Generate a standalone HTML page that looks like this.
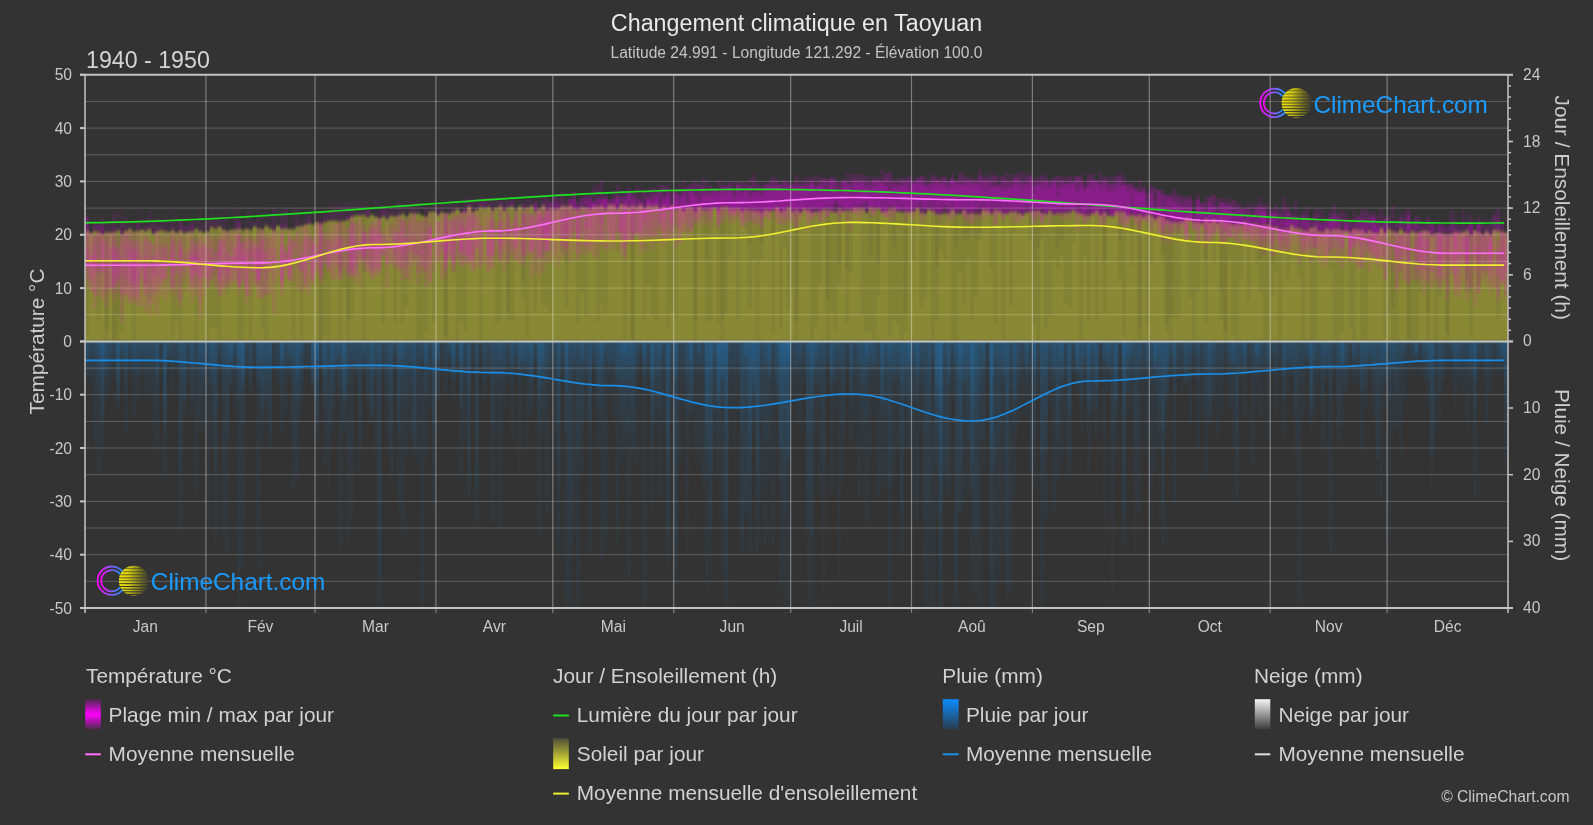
<!DOCTYPE html><html><head><meta charset="utf-8"><style>
html,body{margin:0;padding:0;background:#333333;width:1593px;height:825px;overflow:hidden}
svg{display:block;font-family:"Liberation Sans",sans-serif;will-change:transform}
</style></head><body>
<svg width="1593" height="825" viewBox="0 0 1593 825">
<defs>
<clipPath id="cp"><rect x="85" y="75" width="1423" height="533"/></clipPath>
<filter id="bv2" x="-1%" y="-20%" width="102%" height="140%"><feGaussianBlur stdDeviation="0 1.5"/></filter>
<filter id="bv6" x="-1%" y="-30%" width="102%" height="160%"><feGaussianBlur stdDeviation="0 5"/></filter>
<linearGradient id="gTemp" x1="0" y1="0" x2="0" y2="1"><stop offset="0" stop-color="#4a2a4a"/><stop offset="0.5" stop-color="#ff00ff"/><stop offset="1" stop-color="#4a2a4a"/></linearGradient>
<linearGradient id="gSun" x1="0" y1="0" x2="0" y2="1"><stop offset="0" stop-color="#4e4e38"/><stop offset="1" stop-color="#ffff30"/></linearGradient>
<linearGradient id="gRain" x1="0" y1="0" x2="0" y2="1"><stop offset="0" stop-color="#0a8cff"/><stop offset="1" stop-color="#2a3c4c"/></linearGradient>
<linearGradient id="gSnow" x1="0" y1="0" x2="0" y2="1"><stop offset="0" stop-color="#f4f4f4"/><stop offset="1" stop-color="#3c3c3c"/></linearGradient>
<linearGradient id="gR" x1="0" y1="0" x2="0" y2="1"><stop offset="0" stop-color="rgb(30,120,190)" stop-opacity="0.17"/><stop offset="1" stop-color="rgb(30,120,190)" stop-opacity="0.07"/></linearGradient>
<linearGradient id="gRing" x1="0" y1="0" x2="1" y2="0"><stop offset="0" stop-color="#ff00ff"/><stop offset="0.45" stop-color="#9a50ff"/><stop offset="1" stop-color="#1e90ff"/></linearGradient>
<linearGradient id="gBall" x1="0" y1="0" x2="1" y2="0"><stop offset="0" stop-color="#f8ec00"/><stop offset="0.35" stop-color="#cfc610"/><stop offset="0.75" stop-color="#6e6a22"/><stop offset="1" stop-color="#3e3d33"/></linearGradient>
<linearGradient id="gRu" gradientUnits="userSpaceOnUse" x1="0" y1="341" x2="0" y2="608"><stop offset="0" stop-color="rgb(30,120,190)" stop-opacity="0.35"/><stop offset="0.5" stop-color="rgb(30,120,190)" stop-opacity="0.12"/><stop offset="1" stop-color="rgb(30,120,190)" stop-opacity="0.05"/></linearGradient>
<linearGradient id="gT" x1="0" y1="0" x2="0" y2="1"><stop offset="0" stop-color="#ff00ff" stop-opacity="0.02"/><stop offset="0.35" stop-color="#ff00ff" stop-opacity="0.15"/><stop offset="0.65" stop-color="#ff00ff" stop-opacity="0.15"/><stop offset="1" stop-color="#ff00ff" stop-opacity="0.02"/></linearGradient>
<linearGradient id="gR2" x1="0" y1="0" x2="0" y2="1"><stop offset="0" stop-color="rgb(30,120,190)" stop-opacity="0.1"/><stop offset="1" stop-color="rgb(30,120,190)" stop-opacity="0.05"/></linearGradient>
<linearGradient id="gRb" x1="0" y1="0" x2="0" y2="1"><stop offset="0" stop-color="rgb(30,120,190)" stop-opacity="0.2"/><stop offset="1" stop-color="rgb(30,120,190)" stop-opacity="0"/></linearGradient>
</defs>
<g clip-path="url(#cp)">
<path d="M85.0 218.0h3.90v16.3h-3.90zM88.9 219.6h3.90v14.6h-3.90zM92.8 217.4h3.90v16.7h-3.90zM100.6 216.5h3.90v17.5h-3.90zM104.5 225.8h3.90v8.1h-3.90zM108.4 225.8h3.90v8.0h-3.90zM112.3 215.2h3.90v18.6h-3.90zM120.1 210.3h3.90v23.4h-3.90zM124.0 216.4h3.90v17.2h-3.90zM135.7 226.1h3.90v7.4h-3.90zM151.3 219.3h3.90v14.2h-3.90zM155.2 217.9h3.90v15.5h-3.90zM159.1 218.2h3.90v15.2h-3.90zM163.0 218.9h3.90v14.4h-3.90zM170.8 209.2h3.90v23.9h-3.90zM174.7 214.2h3.90v18.9h-3.90zM178.6 222.5h3.90v10.4h-3.90zM190.3 219.1h3.90v13.4h-3.90zM194.2 219.2h3.90v13.2h-3.90zM198.1 210.9h3.90v21.3h-3.90zM209.8 217.1h3.90v14.7h-3.90zM213.7 218.2h3.90v13.4h-3.90zM221.5 211.2h3.90v20.1h-3.90zM233.1 207.5h3.90v23.4h-3.90zM237.0 222.3h3.90v8.5h-3.90zM252.6 221.0h3.90v9.5h-3.90zM256.5 216.2h3.90v14.3h-3.90zM264.3 221.8h3.90v8.7h-3.90zM268.2 221.9h3.90v8.4h-3.90zM272.1 220.1h3.90v10.1h-3.90zM279.9 209.4h3.90v20.3h-3.90zM283.8 207.8h3.90v21.6h-3.90zM291.6 207.7h3.90v20.8h-3.90zM295.5 220.1h3.90v7.9h-3.90zM299.4 217.8h3.90v9.8h-3.90zM307.2 214.9h3.90v11.5h-3.90zM322.8 214.2h3.90v9.8h-3.90zM326.7 211.7h3.90v11.7h-3.90zM330.6 202.1h3.90v20.7h-3.90zM334.5 207.6h3.90v14.6h-3.90zM338.4 213.1h3.90v8.6h-3.90zM346.2 202.8h3.90v17.9h-3.90zM357.9 200.3h3.90v19.4h-3.90zM365.7 200.8h3.90v18.4h-3.90zM369.6 207.4h3.90v11.7h-3.90zM381.3 209.9h3.90v9.0h-3.90zM385.2 209.6h3.90v9.3h-3.90zM389.1 204.6h3.90v14.1h-3.90zM400.8 211.6h3.90v6.5h-3.90zM408.6 200.2h3.90v17.2h-3.90zM412.5 207.9h3.90v9.3h-3.90zM416.4 208.6h3.90v8.2h-3.90zM428.1 209.4h3.90v6.1h-3.90zM435.9 202.2h3.90v12.5h-3.90zM443.7 197.6h3.90v16.2h-3.90zM447.6 200.2h3.90v13.1h-3.90zM451.5 200.8h3.90v12.1h-3.90zM467.1 198.5h3.90v13.0h-3.90zM471.0 206.2h3.90v5.1h-3.90zM474.9 200.7h3.90v10.4h-3.90zM478.8 202.4h3.90v8.4h-3.90zM482.7 205.0h3.90v5.7h-3.90zM486.6 197.5h3.90v13.1h-3.90zM490.5 197.5h3.90v13.1h-3.90zM494.4 196.8h3.90v13.7h-3.90zM498.3 201.8h3.90v8.7h-3.90zM502.2 195.6h3.90v14.9h-3.90zM506.1 201.0h3.90v9.4h-3.90zM510.0 196.1h3.90v14.3h-3.90zM513.8 198.8h3.90v11.6h-3.90zM517.7 199.3h3.90v11.1h-3.90zM521.6 204.7h3.90v5.6h-3.90zM525.5 195.0h3.90v15.3h-3.90zM529.4 197.9h3.90v12.3h-3.90zM533.3 197.9h3.90v12.3h-3.90zM537.2 201.0h3.90v9.1h-3.90zM541.1 204.6h3.90v5.4h-3.90zM545.0 205.1h3.90v4.8h-3.90zM548.9 200.7h3.90v9.2h-3.90zM556.7 200.6h3.90v9.1h-3.90zM560.6 196.7h3.90v12.9h-3.90zM572.3 199.2h3.90v10.2h-3.90zM584.0 199.5h3.90v9.7h-3.90zM587.9 197.6h3.90v11.5h-3.90zM591.8 199.6h3.90v9.6h-3.90zM599.6 198.5h3.90v10.6h-3.90zM603.5 197.9h3.90v11.1h-3.90zM607.4 200.3h3.90v8.7h-3.90zM611.3 203.9h3.90v5.1h-3.90zM615.2 198.3h3.90v10.7h-3.90zM619.1 199.3h3.90v9.7h-3.90zM623.0 202.8h3.90v6.2h-3.90zM630.8 203.0h3.90v6.2h-3.90zM638.6 200.5h3.90v8.9h-3.90zM642.5 203.0h3.90v6.4h-3.90zM646.4 198.0h3.90v11.5h-3.90zM650.3 205.2h3.90v4.5h-3.90zM658.1 205.7h3.90v4.2h-3.90zM662.0 202.0h3.90v8.1h-3.90zM665.9 200.6h3.90v9.6h-3.90zM677.6 206.7h3.90v3.9h-3.90zM681.5 205.4h3.90v5.4h-3.90zM693.2 204.5h3.90v6.7h-3.90zM697.1 203.3h3.90v8.1h-3.90zM701.0 201.5h3.90v10.0h-3.90zM704.9 206.7h3.90v5.0h-3.90zM708.8 206.9h3.90v4.8h-3.90zM716.6 203.6h3.90v8.2h-3.90zM728.3 203.9h3.90v8.1h-3.90zM732.2 204.5h3.90v7.5h-3.90zM736.1 205.9h3.90v6.1h-3.90zM740.0 202.6h3.90v9.4h-3.90zM747.8 203.8h3.90v8.2h-3.90zM755.6 204.4h3.90v7.6h-3.90zM759.5 206.0h3.90v6.0h-3.90zM763.4 202.8h3.90v9.2h-3.90zM767.3 202.4h3.90v9.6h-3.90zM771.2 204.2h3.90v7.8h-3.90zM779.0 203.2h3.90v8.8h-3.90zM782.9 203.8h3.90v8.2h-3.90zM790.7 202.1h3.90v9.9h-3.90zM794.6 205.0h3.90v7.0h-3.90zM798.4 206.3h3.90v5.7h-3.90zM802.3 202.9h3.90v9.1h-3.90zM806.2 207.9h3.90v4.1h-3.90zM810.1 204.9h3.90v7.1h-3.90zM814.0 205.3h3.90v6.7h-3.90zM821.8 208.0h3.90v4.0h-3.90zM825.7 207.3h3.90v4.7h-3.90zM829.6 203.4h3.90v8.6h-3.90zM841.3 203.8h3.90v8.2h-3.90zM845.2 204.0h3.90v8.0h-3.90zM849.1 205.2h3.90v6.8h-3.90zM853.0 207.9h3.90v4.2h-3.90zM860.8 206.6h3.90v5.5h-3.90zM864.7 204.4h3.90v7.7h-3.90zM868.6 203.1h3.90v9.0h-3.90zM872.5 206.6h3.90v5.6h-3.90zM876.4 203.2h3.90v9.0h-3.90zM880.3 207.3h3.90v4.9h-3.90zM884.2 202.6h3.90v9.8h-3.90zM888.1 205.2h3.90v7.3h-3.90zM895.9 205.8h3.90v6.8h-3.90zM899.8 208.9h3.90v3.8h-3.90zM903.7 205.9h3.90v6.9h-3.90zM907.6 204.2h3.90v8.7h-3.90zM911.5 206.3h3.90v6.7h-3.90zM915.4 209.1h3.90v4.0h-3.90zM919.3 207.0h3.90v6.2h-3.90zM923.2 203.8h3.90v9.5h-3.90zM931.0 209.1h3.90v4.4h-3.90zM934.9 204.8h3.90v8.8h-3.90zM938.8 207.0h3.90v6.6h-3.90zM942.7 208.9h3.90v4.8h-3.90zM946.6 204.3h3.90v9.5h-3.90zM954.4 210.2h3.90v3.7h-3.90zM966.1 208.3h3.90v5.7h-3.90zM970.0 206.4h3.90v7.6h-3.90zM977.8 209.6h3.90v4.4h-3.90zM981.7 208.8h3.90v5.2h-3.90zM989.5 207.7h3.90v6.4h-3.90zM993.4 207.8h3.90v6.2h-3.90zM997.3 209.5h3.90v4.6h-3.90zM1005.1 206.5h3.90v7.7h-3.90zM1009.0 205.2h3.90v9.0h-3.90zM1012.9 205.2h3.90v9.1h-3.90zM1020.7 205.6h3.90v8.8h-3.90zM1024.6 208.8h3.90v5.6h-3.90zM1028.5 205.0h3.90v9.5h-3.90zM1036.3 205.3h3.90v9.3h-3.90zM1048.0 209.5h3.90v5.3h-3.90zM1055.8 208.5h3.90v6.3h-3.90zM1059.7 210.4h3.90v4.4h-3.90zM1063.6 206.9h3.90v8.0h-3.90zM1075.3 205.5h3.90v9.4h-3.90zM1079.2 210.6h3.90v4.3h-3.90zM1083.0 206.5h3.90v8.5h-3.90zM1086.9 207.0h3.90v8.0h-3.90zM1106.4 208.4h3.90v7.0h-3.90zM1110.3 211.0h3.90v4.6h-3.90zM1122.0 205.9h3.90v10.6h-3.90zM1125.9 212.4h3.90v4.4h-3.90zM1133.7 210.4h3.90v7.2h-3.90zM1137.6 211.7h3.90v6.3h-3.90zM1141.5 210.6h3.90v7.8h-3.90zM1145.4 210.3h3.90v8.6h-3.90zM1153.2 209.0h3.90v10.9h-3.90zM1161.0 210.4h3.90v10.4h-3.90zM1164.9 215.4h3.90v5.8h-3.90zM1172.7 217.7h3.90v4.4h-3.90zM1176.6 210.9h3.90v11.5h-3.90zM1180.5 210.6h3.90v12.2h-3.90zM1184.4 215.0h3.90v8.1h-3.90zM1188.3 214.2h3.90v9.1h-3.90zM1192.2 211.6h3.90v11.9h-3.90zM1200.0 212.4h3.90v11.5h-3.90zM1203.9 211.7h3.90v12.2h-3.90zM1207.8 211.0h3.90v13.0h-3.90zM1211.7 212.9h3.90v11.1h-3.90zM1215.6 212.3h3.90v11.8h-3.90zM1219.5 212.7h3.90v11.4h-3.90zM1227.3 215.3h3.90v9.1h-3.90zM1235.1 213.9h3.90v11.0h-3.90zM1239.0 218.2h3.90v7.0h-3.90zM1242.9 213.9h3.90v11.6h-3.90zM1246.8 214.1h3.90v11.7h-3.90zM1250.7 215.6h3.90v10.5h-3.90zM1254.6 210.6h3.90v15.9h-3.90zM1258.5 214.1h3.90v12.8h-3.90zM1262.4 211.1h3.90v16.2h-3.90zM1270.2 214.2h3.90v13.9h-3.90zM1278.0 223.1h3.90v5.8h-3.90zM1285.8 223.2h3.90v6.5h-3.90zM1293.6 217.6h3.90v12.8h-3.90zM1297.5 212.1h3.90v18.6h-3.90zM1301.4 211.8h3.90v19.2h-3.90zM1305.3 214.5h3.90v16.8h-3.90zM1313.1 215.3h3.90v16.3h-3.90zM1320.9 224.0h3.90v7.9h-3.90zM1324.8 223.9h3.90v8.0h-3.90zM1328.7 217.6h3.90v14.4h-3.90zM1336.5 220.4h3.90v11.7h-3.90zM1340.4 217.8h3.90v14.3h-3.90zM1344.3 222.3h3.90v9.8h-3.90zM1348.2 218.4h3.90v13.8h-3.90zM1356.0 222.3h3.90v10.1h-3.90zM1375.4 221.1h3.90v11.9h-3.90zM1379.3 215.5h3.90v17.6h-3.90zM1387.1 212.4h3.90v21.1h-3.90zM1394.9 220.7h3.90v13.1h-3.90zM1398.8 211.8h3.90v22.1h-3.90zM1406.6 212.3h3.90v21.9h-3.90zM1410.5 220.2h3.90v14.1h-3.90zM1414.4 214.3h3.90v20.2h-3.90zM1418.3 226.3h3.90v8.3h-3.90zM1422.2 220.5h3.90v14.2h-3.90zM1433.9 226.4h3.90v8.5h-3.90zM1437.8 216.8h3.90v18.1h-3.90zM1441.7 224.0h3.90v11.0h-3.90zM1445.6 221.2h3.90v13.8h-3.90zM1449.5 219.3h3.90v15.7h-3.90zM1453.4 211.8h3.90v23.2h-3.90zM1457.3 224.4h3.90v10.6h-3.90zM1465.1 214.7h3.90v20.2h-3.90zM1469.0 222.2h3.90v12.7h-3.90zM1476.8 218.5h3.90v16.3h-3.90zM1480.7 217.2h3.90v17.5h-3.90zM1484.6 224.9h3.90v9.7h-3.90zM1492.4 212.0h3.90v22.5h-3.90zM1496.3 227.4h3.90v7.1h-3.90z" fill="rgb(200,40,200)" fill-opacity="0.06"/>
<path d="M85.0 216.9h3.90v17.4h-3.90zM92.8 226.4h3.90v7.7h-3.90zM100.6 217.9h3.90v16.1h-3.90zM104.5 220.9h3.90v13.0h-3.90zM108.4 223.7h3.90v10.1h-3.90zM112.3 214.3h3.90v19.5h-3.90zM116.2 226.0h3.90v7.7h-3.90zM124.0 216.2h3.90v17.4h-3.90zM127.9 223.4h3.90v10.2h-3.90zM131.8 222.6h3.90v10.9h-3.90zM135.7 220.6h3.90v12.9h-3.90zM139.6 209.7h3.90v23.8h-3.90zM143.5 217.4h3.90v16.1h-3.90zM147.4 210.9h3.90v22.6h-3.90zM151.3 220.6h3.90v12.9h-3.90zM159.1 225.6h3.90v7.8h-3.90zM166.9 218.3h3.90v14.9h-3.90zM170.8 221.5h3.90v11.7h-3.90zM174.7 225.3h3.90v7.7h-3.90zM182.5 225.0h3.90v7.8h-3.90zM186.4 213.5h3.90v19.2h-3.90zM190.3 221.1h3.90v11.4h-3.90zM198.1 213.0h3.90v19.2h-3.90zM202.0 223.6h3.90v8.5h-3.90zM205.9 215.5h3.90v16.4h-3.90zM209.8 208.8h3.90v22.9h-3.90zM213.7 217.5h3.90v14.1h-3.90zM217.6 219.7h3.90v11.8h-3.90zM221.5 217.8h3.90v13.4h-3.90zM225.4 209.0h3.90v22.1h-3.90zM233.1 218.1h3.90v12.8h-3.90zM237.0 217.4h3.90v13.4h-3.90zM240.9 220.9h3.90v9.8h-3.90zM244.8 210.2h3.90v20.4h-3.90zM248.7 209.5h3.90v21.1h-3.90zM252.6 221.0h3.90v9.5h-3.90zM256.5 208.6h3.90v21.9h-3.90zM268.2 214.4h3.90v15.9h-3.90zM272.1 206.9h3.90v23.3h-3.90zM276.0 209.6h3.90v20.4h-3.90zM283.8 209.4h3.90v19.9h-3.90zM295.5 206.6h3.90v21.4h-3.90zM303.3 218.4h3.90v8.5h-3.90zM307.2 209.6h3.90v16.8h-3.90zM318.9 210.3h3.90v14.3h-3.90zM322.8 211.8h3.90v12.2h-3.90zM326.7 202.4h3.90v21.0h-3.90zM330.6 209.3h3.90v13.5h-3.90zM334.5 205.4h3.90v16.9h-3.90zM338.4 202.0h3.90v19.7h-3.90zM342.3 203.0h3.90v18.2h-3.90zM346.2 202.3h3.90v18.4h-3.90zM350.1 202.3h3.90v18.0h-3.90zM354.0 200.2h3.90v19.7h-3.90zM357.9 206.4h3.90v13.3h-3.90zM361.8 202.1h3.90v17.3h-3.90zM365.7 207.5h3.90v11.7h-3.90zM373.5 199.1h3.90v19.9h-3.90zM377.4 211.0h3.90v8.0h-3.90zM385.2 209.1h3.90v9.8h-3.90zM389.1 212.3h3.90v6.4h-3.90zM393.0 211.4h3.90v7.2h-3.90zM396.9 201.8h3.90v16.5h-3.90zM408.6 203.9h3.90v13.5h-3.90zM412.5 211.2h3.90v5.9h-3.90zM432.0 202.2h3.90v12.9h-3.90zM451.5 204.1h3.90v8.8h-3.90zM455.4 197.8h3.90v14.8h-3.90zM459.3 204.2h3.90v8.0h-3.90zM463.2 196.2h3.90v15.6h-3.90zM467.1 200.3h3.90v11.2h-3.90zM471.0 200.9h3.90v10.4h-3.90zM482.7 196.8h3.90v13.9h-3.90zM486.6 199.9h3.90v10.7h-3.90zM490.5 202.6h3.90v7.9h-3.90zM494.4 198.3h3.90v12.2h-3.90zM506.1 201.6h3.90v8.9h-3.90zM510.0 197.8h3.90v12.7h-3.90zM513.8 203.9h3.90v6.5h-3.90zM521.6 202.8h3.90v7.5h-3.90zM525.5 200.1h3.90v10.2h-3.90zM529.4 195.1h3.90v15.1h-3.90zM537.2 203.9h3.90v6.1h-3.90zM541.1 205.5h3.90v4.5h-3.90zM545.0 197.0h3.90v12.9h-3.90zM548.9 204.6h3.90v5.3h-3.90zM556.7 204.4h3.90v5.3h-3.90zM560.6 200.9h3.90v8.7h-3.90zM564.5 199.9h3.90v9.7h-3.90zM568.4 202.5h3.90v7.0h-3.90zM572.3 201.5h3.90v7.9h-3.90zM576.2 204.4h3.90v5.0h-3.90zM580.1 203.3h3.90v5.9h-3.90zM584.0 200.7h3.90v8.6h-3.90zM591.8 202.5h3.90v6.6h-3.90zM595.7 204.4h3.90v4.7h-3.90zM599.6 201.2h3.90v7.8h-3.90zM603.5 202.1h3.90v6.9h-3.90zM607.4 204.2h3.90v4.9h-3.90zM611.3 201.3h3.90v7.7h-3.90zM615.2 198.4h3.90v10.6h-3.90zM619.1 204.9h3.90v4.1h-3.90zM623.0 199.4h3.90v9.7h-3.90zM630.8 201.6h3.90v7.6h-3.90zM638.6 199.1h3.90v10.2h-3.90zM646.4 203.4h3.90v6.2h-3.90zM650.3 201.6h3.90v8.0h-3.90zM658.1 203.1h3.90v6.8h-3.90zM662.0 204.3h3.90v5.8h-3.90zM669.8 204.2h3.90v6.2h-3.90zM673.7 202.7h3.90v7.8h-3.90zM677.6 204.6h3.90v6.1h-3.90zM681.5 206.4h3.90v4.4h-3.90zM693.2 202.8h3.90v8.5h-3.90zM701.0 202.3h3.90v9.2h-3.90zM704.9 207.4h3.90v4.2h-3.90zM720.5 207.9h3.90v4.1h-3.90zM724.4 205.6h3.90v6.3h-3.90zM728.3 204.2h3.90v7.7h-3.90zM732.2 203.1h3.90v8.9h-3.90zM736.1 206.3h3.90v5.7h-3.90zM740.0 208.3h3.90v3.7h-3.90zM743.9 203.9h3.90v8.1h-3.90zM747.8 203.3h3.90v8.7h-3.90zM751.7 204.5h3.90v7.5h-3.90zM759.5 206.2h3.90v5.8h-3.90zM763.4 207.7h3.90v4.3h-3.90zM767.3 205.1h3.90v6.9h-3.90zM771.2 203.1h3.90v8.9h-3.90zM775.1 207.4h3.90v4.6h-3.90zM779.0 202.6h3.90v9.4h-3.90zM782.9 206.1h3.90v5.9h-3.90zM786.8 207.5h3.90v4.5h-3.90zM790.7 202.1h3.90v9.9h-3.90zM794.6 203.8h3.90v8.2h-3.90zM798.4 207.1h3.90v4.9h-3.90zM802.3 204.4h3.90v7.6h-3.90zM817.9 203.9h3.90v8.1h-3.90zM821.8 202.5h3.90v9.5h-3.90zM825.7 205.4h3.90v6.6h-3.90zM833.5 207.5h3.90v4.5h-3.90zM837.4 204.9h3.90v7.1h-3.90zM841.3 204.8h3.90v7.2h-3.90zM849.1 202.1h3.90v9.9h-3.90zM853.0 204.6h3.90v7.4h-3.90zM860.8 206.6h3.90v5.4h-3.90zM864.7 206.9h3.90v5.1h-3.90zM868.6 203.2h3.90v8.9h-3.90zM876.4 208.1h3.90v4.1h-3.90zM888.1 202.8h3.90v9.6h-3.90zM892.0 206.9h3.90v5.6h-3.90zM895.9 204.3h3.90v8.3h-3.90zM899.8 205.3h3.90v7.4h-3.90zM903.7 209.1h3.90v3.7h-3.90zM911.5 208.5h3.90v4.5h-3.90zM915.4 205.9h3.90v7.2h-3.90zM923.2 208.0h3.90v5.3h-3.90zM927.1 207.7h3.90v5.7h-3.90zM931.0 209.6h3.90v3.8h-3.90zM934.9 209.0h3.90v4.5h-3.90zM938.8 206.2h3.90v7.4h-3.90zM942.7 207.5h3.90v6.2h-3.90zM946.6 205.8h3.90v8.0h-3.90zM950.5 205.4h3.90v8.4h-3.90zM954.4 203.9h3.90v10.0h-3.90zM958.3 204.9h3.90v9.1h-3.90zM962.2 207.6h3.90v6.4h-3.90zM966.1 204.6h3.90v9.4h-3.90zM970.0 207.0h3.90v7.0h-3.90zM973.9 204.6h3.90v9.4h-3.90zM977.8 210.1h3.90v3.9h-3.90zM981.7 204.7h3.90v9.4h-3.90zM985.6 206.6h3.90v7.4h-3.90zM989.5 208.5h3.90v5.6h-3.90zM993.4 210.0h3.90v4.0h-3.90zM1001.2 207.3h3.90v6.8h-3.90zM1005.1 210.2h3.90v3.9h-3.90zM1009.0 207.3h3.90v7.0h-3.90zM1016.8 208.2h3.90v6.1h-3.90zM1028.5 204.7h3.90v9.8h-3.90zM1032.4 205.4h3.90v9.1h-3.90zM1036.3 205.8h3.90v8.8h-3.90zM1044.1 207.4h3.90v7.2h-3.90zM1048.0 210.5h3.90v4.2h-3.90zM1051.9 210.4h3.90v4.4h-3.90zM1055.8 205.1h3.90v9.7h-3.90zM1071.4 210.9h3.90v4.0h-3.90zM1075.3 206.1h3.90v8.8h-3.90zM1079.2 209.1h3.90v5.9h-3.90zM1083.0 211.1h3.90v3.9h-3.90zM1090.8 209.4h3.90v5.6h-3.90zM1094.7 205.4h3.90v9.6h-3.90zM1098.6 208.4h3.90v6.6h-3.90zM1110.3 206.0h3.90v9.6h-3.90zM1118.1 210.0h3.90v6.1h-3.90zM1122.0 211.5h3.90v4.9h-3.90zM1125.9 206.0h3.90v10.8h-3.90zM1133.7 212.4h3.90v5.2h-3.90zM1137.6 213.8h3.90v4.2h-3.90zM1145.4 212.5h3.90v6.4h-3.90zM1149.3 208.5h3.90v10.9h-3.90zM1153.2 214.7h3.90v5.1h-3.90zM1157.1 208.5h3.90v11.8h-3.90zM1161.0 216.0h3.90v4.8h-3.90zM1168.8 211.2h3.90v10.4h-3.90zM1184.4 211.4h3.90v11.6h-3.90zM1188.3 212.8h3.90v10.5h-3.90zM1192.2 213.6h3.90v9.9h-3.90zM1200.0 210.6h3.90v13.2h-3.90zM1203.9 216.9h3.90v7.0h-3.90zM1207.8 218.7h3.90v5.3h-3.90zM1211.7 215.4h3.90v8.6h-3.90zM1215.6 214.5h3.90v9.5h-3.90zM1223.4 217.0h3.90v7.2h-3.90zM1231.2 219.3h3.90v5.4h-3.90zM1239.0 218.0h3.90v7.1h-3.90zM1246.8 219.1h3.90v6.7h-3.90zM1250.7 210.7h3.90v15.5h-3.90zM1258.5 213.5h3.90v13.3h-3.90zM1262.4 211.6h3.90v15.6h-3.90zM1266.3 220.6h3.90v7.1h-3.90zM1270.2 215.3h3.90v12.8h-3.90zM1274.1 215.3h3.90v13.2h-3.90zM1278.0 217.3h3.90v11.6h-3.90zM1281.9 213.3h3.90v16.0h-3.90zM1285.8 217.7h3.90v12.0h-3.90zM1289.7 222.4h3.90v7.6h-3.90zM1293.6 222.8h3.90v7.6h-3.90zM1297.5 222.1h3.90v8.6h-3.90zM1301.4 214.9h3.90v16.1h-3.90zM1305.3 214.7h3.90v16.5h-3.90zM1313.1 223.0h3.90v8.7h-3.90zM1317.0 219.1h3.90v12.7h-3.90zM1324.8 216.1h3.90v15.9h-3.90zM1328.7 213.8h3.90v18.2h-3.90zM1344.3 220.2h3.90v12.0h-3.90zM1348.2 222.7h3.90v9.5h-3.90zM1352.1 225.5h3.90v6.7h-3.90zM1356.0 218.3h3.90v14.1h-3.90zM1359.9 214.9h3.90v17.5h-3.90zM1371.5 226.4h3.90v6.5h-3.90zM1375.4 217.5h3.90v15.5h-3.90zM1379.3 223.1h3.90v10.0h-3.90zM1383.2 226.0h3.90v7.3h-3.90zM1387.1 224.7h3.90v8.7h-3.90zM1398.8 214.1h3.90v19.8h-3.90zM1402.7 226.9h3.90v7.2h-3.90zM1406.6 221.9h3.90v12.3h-3.90zM1414.4 227.5h3.90v7.0h-3.90zM1418.3 215.2h3.90v19.3h-3.90zM1422.2 225.9h3.90v8.8h-3.90zM1426.1 215.5h3.90v19.3h-3.90zM1437.8 226.1h3.90v8.9h-3.90zM1441.7 223.3h3.90v11.6h-3.90zM1445.6 227.3h3.90v7.7h-3.90zM1453.4 215.2h3.90v19.8h-3.90zM1457.3 224.5h3.90v10.4h-3.90zM1465.1 224.3h3.90v10.7h-3.90zM1469.0 212.1h3.90v22.8h-3.90zM1472.9 222.5h3.90v12.3h-3.90zM1476.8 217.6h3.90v17.2h-3.90zM1484.6 216.8h3.90v17.8h-3.90zM1492.4 215.9h3.90v18.6h-3.90zM1496.3 217.7h3.90v16.8h-3.90zM1500.2 219.9h3.90v14.5h-3.90zM1504.1 213.1h3.90v21.2h-3.90z" fill="rgb(200,40,200)" fill-opacity="0.06"/>
<path d="M85.0 214.1h3.90v20.2h-3.90zM92.8 224.5h3.90v9.6h-3.90zM96.7 224.7h3.90v9.3h-3.90zM108.4 222.0h3.90v11.8h-3.90zM112.3 209.9h3.90v23.9h-3.90zM116.2 212.1h3.90v21.6h-3.90zM124.0 225.9h3.90v7.7h-3.90zM127.9 220.8h3.90v12.8h-3.90zM147.4 210.8h3.90v22.7h-3.90zM151.3 222.4h3.90v11.1h-3.90zM155.2 224.3h3.90v9.1h-3.90zM159.1 220.7h3.90v12.7h-3.90zM163.0 214.2h3.90v19.1h-3.90zM166.9 226.5h3.90v6.8h-3.90zM170.8 220.0h3.90v13.2h-3.90zM178.6 220.8h3.90v12.1h-3.90zM182.5 217.3h3.90v15.5h-3.90zM190.3 221.9h3.90v10.6h-3.90zM202.0 225.1h3.90v7.0h-3.90zM205.9 218.0h3.90v13.9h-3.90zM209.8 222.9h3.90v8.8h-3.90zM213.7 220.6h3.90v11.0h-3.90zM217.6 213.3h3.90v18.1h-3.90zM233.1 217.4h3.90v13.5h-3.90zM237.0 209.2h3.90v21.6h-3.90zM248.7 220.4h3.90v10.2h-3.90zM260.4 214.1h3.90v16.4h-3.90zM264.3 206.9h3.90v23.6h-3.90zM272.1 207.7h3.90v22.5h-3.90zM279.9 211.8h3.90v17.9h-3.90zM283.8 208.0h3.90v21.3h-3.90zM291.6 220.7h3.90v7.8h-3.90zM295.5 215.2h3.90v12.9h-3.90zM303.3 215.4h3.90v11.6h-3.90zM307.2 215.7h3.90v10.7h-3.90zM315.0 211.5h3.90v13.7h-3.90zM322.8 214.3h3.90v9.7h-3.90zM330.6 210.4h3.90v12.4h-3.90zM338.4 205.3h3.90v16.4h-3.90zM342.3 204.9h3.90v16.3h-3.90zM350.1 209.3h3.90v11.1h-3.90zM357.9 213.2h3.90v6.4h-3.90zM361.8 205.3h3.90v14.1h-3.90zM365.7 208.9h3.90v10.3h-3.90zM377.4 200.6h3.90v18.4h-3.90zM381.3 209.6h3.90v9.4h-3.90zM385.2 210.6h3.90v8.3h-3.90zM389.1 204.4h3.90v14.4h-3.90zM393.0 207.8h3.90v10.7h-3.90zM396.9 199.5h3.90v18.9h-3.90zM400.8 203.8h3.90v14.3h-3.90zM404.7 206.6h3.90v11.2h-3.90zM408.6 208.2h3.90v9.3h-3.90zM412.5 199.7h3.90v17.5h-3.90zM416.4 199.0h3.90v17.7h-3.90zM428.1 206.2h3.90v9.3h-3.90zM432.0 197.2h3.90v17.9h-3.90zM447.6 205.4h3.90v7.9h-3.90zM455.4 202.9h3.90v9.7h-3.90zM463.2 199.3h3.90v12.5h-3.90zM467.1 199.4h3.90v12.1h-3.90zM471.0 196.9h3.90v14.4h-3.90zM474.9 202.4h3.90v8.7h-3.90zM478.8 196.0h3.90v14.9h-3.90zM482.7 197.8h3.90v12.9h-3.90zM486.6 198.1h3.90v12.5h-3.90zM490.5 196.5h3.90v14.0h-3.90zM498.3 200.2h3.90v10.3h-3.90zM502.2 201.6h3.90v8.9h-3.90zM510.0 199.8h3.90v10.7h-3.90zM521.6 203.7h3.90v6.6h-3.90zM525.5 204.2h3.90v6.0h-3.90zM541.1 204.3h3.90v5.7h-3.90zM545.0 197.7h3.90v12.2h-3.90zM548.9 203.8h3.90v6.0h-3.90zM552.8 197.0h3.90v12.8h-3.90zM564.5 198.0h3.90v11.6h-3.90zM568.4 198.8h3.90v10.7h-3.90zM576.2 202.3h3.90v7.0h-3.90zM580.1 198.6h3.90v10.7h-3.90zM584.0 198.1h3.90v11.1h-3.90zM587.9 201.6h3.90v7.6h-3.90zM591.8 199.9h3.90v9.2h-3.90zM595.7 198.5h3.90v10.6h-3.90zM603.5 199.6h3.90v9.4h-3.90zM619.1 197.5h3.90v11.5h-3.90zM623.0 204.0h3.90v5.1h-3.90zM626.9 201.8h3.90v7.3h-3.90zM630.8 202.0h3.90v7.1h-3.90zM634.7 197.5h3.90v11.8h-3.90zM642.5 204.6h3.90v4.9h-3.90zM654.2 198.4h3.90v11.4h-3.90zM662.0 206.0h3.90v4.1h-3.90zM665.9 202.8h3.90v7.4h-3.90zM669.8 204.3h3.90v6.1h-3.90zM673.7 200.7h3.90v9.8h-3.90zM681.5 202.8h3.90v8.1h-3.90zM685.4 200.5h3.90v10.5h-3.90zM689.3 202.7h3.90v8.5h-3.90zM693.2 202.1h3.90v9.1h-3.90zM708.8 206.4h3.90v5.3h-3.90zM712.7 207.4h3.90v4.4h-3.90zM716.6 208.1h3.90v3.7h-3.90zM720.5 207.4h3.90v4.5h-3.90zM724.4 206.6h3.90v5.4h-3.90zM732.2 206.1h3.90v5.9h-3.90zM747.8 206.4h3.90v5.6h-3.90zM759.5 202.0h3.90v10.0h-3.90zM767.3 205.3h3.90v6.7h-3.90zM771.2 203.2h3.90v8.8h-3.90zM775.1 208.0h3.90v4.0h-3.90zM779.0 204.2h3.90v7.8h-3.90zM782.9 206.6h3.90v5.4h-3.90zM786.8 202.9h3.90v9.1h-3.90zM790.7 205.6h3.90v6.4h-3.90zM794.6 203.8h3.90v8.2h-3.90zM817.9 203.6h3.90v8.4h-3.90zM821.8 205.1h3.90v6.9h-3.90zM833.5 208.3h3.90v3.7h-3.90zM837.4 203.2h3.90v8.8h-3.90zM841.3 203.7h3.90v8.3h-3.90zM845.2 203.3h3.90v8.7h-3.90zM849.1 203.5h3.90v8.5h-3.90zM853.0 207.8h3.90v4.2h-3.90zM856.9 205.8h3.90v6.2h-3.90zM860.8 206.8h3.90v5.2h-3.90zM864.7 208.3h3.90v3.8h-3.90zM868.6 207.0h3.90v5.1h-3.90zM872.5 206.2h3.90v6.0h-3.90zM876.4 203.4h3.90v8.8h-3.90zM880.3 204.6h3.90v7.7h-3.90zM884.2 207.0h3.90v5.4h-3.90zM888.1 206.8h3.90v5.7h-3.90zM895.9 204.3h3.90v8.3h-3.90zM903.7 205.7h3.90v7.1h-3.90zM907.6 208.2h3.90v4.7h-3.90zM919.3 206.8h3.90v6.4h-3.90zM927.1 207.2h3.90v6.2h-3.90zM931.0 206.4h3.90v7.0h-3.90zM934.9 208.7h3.90v4.9h-3.90zM938.8 208.0h3.90v5.7h-3.90zM942.7 209.4h3.90v4.3h-3.90zM946.6 207.4h3.90v6.4h-3.90zM950.5 208.8h3.90v5.0h-3.90zM954.4 205.8h3.90v8.1h-3.90zM966.1 204.3h3.90v9.7h-3.90zM970.0 209.2h3.90v4.8h-3.90zM973.9 204.1h3.90v9.9h-3.90zM981.7 208.0h3.90v6.0h-3.90zM985.6 209.1h3.90v5.0h-3.90zM989.5 204.8h3.90v9.3h-3.90zM993.4 206.5h3.90v7.6h-3.90zM997.3 206.9h3.90v7.2h-3.90zM1005.1 206.2h3.90v8.0h-3.90zM1009.0 206.4h3.90v7.9h-3.90zM1012.9 208.2h3.90v6.1h-3.90zM1020.7 207.1h3.90v7.3h-3.90zM1024.6 210.6h3.90v3.8h-3.90zM1028.5 208.0h3.90v6.5h-3.90zM1032.4 207.1h3.90v7.4h-3.90zM1036.3 210.0h3.90v4.6h-3.90zM1040.2 204.7h3.90v10.0h-3.90zM1044.1 209.1h3.90v5.6h-3.90zM1048.0 204.8h3.90v9.9h-3.90zM1051.9 205.6h3.90v9.2h-3.90zM1059.7 208.1h3.90v6.7h-3.90zM1067.5 207.2h3.90v7.8h-3.90zM1071.4 206.0h3.90v8.9h-3.90zM1075.3 208.1h3.90v6.9h-3.90zM1079.2 211.0h3.90v4.0h-3.90zM1083.0 206.8h3.90v8.2h-3.90zM1090.8 208.5h3.90v6.5h-3.90zM1094.7 205.9h3.90v9.1h-3.90zM1106.4 211.3h3.90v4.1h-3.90zM1110.3 206.7h3.90v8.9h-3.90zM1114.2 210.5h3.90v5.3h-3.90zM1118.1 206.6h3.90v9.5h-3.90zM1122.0 208.9h3.90v7.5h-3.90zM1125.9 207.4h3.90v9.4h-3.90zM1133.7 213.0h3.90v4.6h-3.90zM1141.5 208.0h3.90v10.5h-3.90zM1145.4 214.1h3.90v4.9h-3.90zM1153.2 208.9h3.90v10.9h-3.90zM1157.1 208.8h3.90v11.5h-3.90zM1164.9 215.3h3.90v5.9h-3.90zM1168.8 209.8h3.90v11.9h-3.90zM1172.7 216.0h3.90v6.0h-3.90zM1176.6 214.2h3.90v8.1h-3.90zM1184.4 215.8h3.90v7.2h-3.90zM1188.3 216.4h3.90v6.9h-3.90zM1192.2 212.6h3.90v10.9h-3.90zM1203.9 215.1h3.90v8.9h-3.90zM1215.6 213.8h3.90v10.3h-3.90zM1219.5 217.8h3.90v6.3h-3.90zM1223.4 213.1h3.90v11.2h-3.90zM1227.3 216.4h3.90v8.0h-3.90zM1231.2 216.1h3.90v8.6h-3.90zM1239.0 216.2h3.90v8.9h-3.90zM1242.9 216.5h3.90v8.9h-3.90zM1246.8 215.7h3.90v10.1h-3.90zM1250.7 217.6h3.90v8.5h-3.90zM1254.6 219.1h3.90v7.4h-3.90zM1258.5 218.8h3.90v8.1h-3.90zM1262.4 219.1h3.90v8.2h-3.90zM1266.3 214.7h3.90v12.9h-3.90zM1270.2 211.8h3.90v16.3h-3.90zM1274.1 214.3h3.90v14.2h-3.90zM1278.0 218.2h3.90v10.8h-3.90zM1285.8 220.8h3.90v8.9h-3.90zM1289.7 212.1h3.90v17.9h-3.90zM1297.5 216.1h3.90v14.6h-3.90zM1305.3 223.9h3.90v7.3h-3.90zM1309.2 222.4h3.90v9.1h-3.90zM1313.1 221.3h3.90v10.4h-3.90zM1317.0 214.1h3.90v17.7h-3.90zM1320.9 218.5h3.90v13.4h-3.90zM1328.7 225.1h3.90v6.9h-3.90zM1332.6 221.0h3.90v11.0h-3.90zM1336.5 216.8h3.90v15.3h-3.90zM1340.4 213.5h3.90v18.6h-3.90zM1344.3 226.2h3.90v6.0h-3.90zM1348.2 219.7h3.90v12.5h-3.90zM1352.1 219.8h3.90v12.5h-3.90zM1356.0 216.7h3.90v15.6h-3.90zM1359.9 212.3h3.90v20.2h-3.90zM1363.8 211.9h3.90v20.7h-3.90zM1367.6 214.4h3.90v18.4h-3.90zM1371.5 216.3h3.90v16.6h-3.90zM1375.4 226.1h3.90v6.9h-3.90zM1379.3 221.0h3.90v12.2h-3.90zM1383.2 223.9h3.90v9.4h-3.90zM1387.1 224.1h3.90v9.3h-3.90zM1391.0 225.3h3.90v8.3h-3.90zM1394.9 215.6h3.90v18.2h-3.90zM1406.6 217.6h3.90v16.6h-3.90zM1410.5 223.8h3.90v10.5h-3.90zM1414.4 215.8h3.90v18.7h-3.90zM1418.3 226.2h3.90v8.3h-3.90zM1422.2 228.1h3.90v6.6h-3.90zM1426.1 212.0h3.90v22.7h-3.90zM1430.0 228.1h3.90v6.8h-3.90zM1433.9 219.2h3.90v15.8h-3.90zM1437.8 226.6h3.90v8.3h-3.90zM1441.7 223.3h3.90v11.7h-3.90zM1445.6 226.4h3.90v8.6h-3.90zM1449.5 226.3h3.90v8.7h-3.90zM1457.3 223.4h3.90v11.6h-3.90zM1461.2 224.2h3.90v10.7h-3.90zM1465.1 227.6h3.90v7.4h-3.90zM1472.9 218.6h3.90v16.2h-3.90zM1476.8 213.4h3.90v21.4h-3.90zM1484.6 225.6h3.90v9.1h-3.90zM1488.5 219.0h3.90v15.6h-3.90zM1492.4 217.4h3.90v17.2h-3.90zM1496.3 211.1h3.90v23.4h-3.90zM1500.2 227.8h3.90v6.6h-3.90z" fill="rgb(200,40,200)" fill-opacity="0.06"/>
<path d="M96.7 225.9h3.90v67.8h-3.90zM100.6 222.9h3.90v91.7h-3.90zM112.3 228.0h3.90v70.7h-3.90zM116.2 241.7h3.90v67.5h-3.90zM120.1 222.0h3.90v77.0h-3.90zM135.7 238.0h3.90v57.2h-3.90zM139.6 232.6h3.90v61.2h-3.90zM143.5 226.4h3.90v77.5h-3.90zM147.4 226.6h3.90v77.0h-3.90zM151.3 234.2h3.90v63.3h-3.90zM155.2 226.8h3.90v70.6h-3.90zM159.1 237.9h3.90v66.2h-3.90zM163.0 228.2h3.90v71.7h-3.90zM170.8 239.2h3.90v59.9h-3.90zM178.6 218.9h3.90v67.6h-3.90zM182.5 227.3h3.90v65.5h-3.90zM186.4 225.5h3.90v64.3h-3.90zM190.3 224.3h3.90v71.9h-3.90zM198.1 235.8h3.90v62.4h-3.90zM202.0 233.4h3.90v52.6h-3.90zM209.8 229.1h3.90v75.6h-3.90zM213.7 243.1h3.90v47.7h-3.90zM217.6 226.1h3.90v79.1h-3.90zM229.2 230.7h3.90v56.9h-3.90zM248.7 239.9h3.90v43.1h-3.90zM256.5 229.5h3.90v50.3h-3.90zM272.1 231.1h3.90v48.2h-3.90zM279.9 222.8h3.90v67.2h-3.90zM283.8 224.5h3.90v74.0h-3.90zM287.7 237.4h3.90v59.0h-3.90zM295.5 230.0h3.90v58.2h-3.90zM299.4 234.8h3.90v47.6h-3.90zM307.2 219.6h3.90v69.4h-3.90zM315.0 229.7h3.90v47.1h-3.90zM318.9 219.0h3.90v66.3h-3.90zM330.6 220.5h3.90v53.4h-3.90zM338.4 221.4h3.90v53.8h-3.90zM342.3 222.7h3.90v62.8h-3.90zM346.2 216.2h3.90v70.2h-3.90zM350.1 214.6h3.90v69.7h-3.90zM357.9 214.0h3.90v59.5h-3.90zM365.7 217.9h3.90v54.5h-3.90zM369.6 218.2h3.90v49.8h-3.90zM373.5 228.6h3.90v53.5h-3.90zM377.4 217.7h3.90v52.0h-3.90zM381.3 204.7h3.90v65.2h-3.90zM389.1 214.6h3.90v62.5h-3.90zM396.9 214.3h3.90v74.4h-3.90zM400.8 215.4h3.90v51.9h-3.90zM404.7 215.7h3.90v63.1h-3.90zM420.3 216.1h3.90v52.9h-3.90zM424.2 207.6h3.90v63.5h-3.90zM428.1 214.7h3.90v49.1h-3.90zM439.8 203.9h3.90v78.8h-3.90zM447.6 216.1h3.90v45.6h-3.90zM451.5 210.5h3.90v60.0h-3.90zM455.4 209.8h3.90v64.0h-3.90zM459.3 213.3h3.90v60.2h-3.90zM463.2 208.1h3.90v64.6h-3.90zM467.1 210.5h3.90v54.3h-3.90zM478.8 199.9h3.90v63.9h-3.90zM482.7 201.5h3.90v53.4h-3.90zM490.5 217.7h3.90v53.1h-3.90zM494.4 207.8h3.90v53.9h-3.90zM498.3 201.6h3.90v71.4h-3.90zM506.1 202.5h3.90v60.8h-3.90zM510.0 208.5h3.90v56.0h-3.90zM517.7 214.6h3.90v55.5h-3.90zM521.6 202.7h3.90v60.1h-3.90zM529.4 204.7h3.90v56.6h-3.90zM533.3 203.9h3.90v58.8h-3.90zM537.2 209.0h3.90v51.4h-3.90zM545.0 198.7h3.90v60.9h-3.90zM548.9 201.8h3.90v63.5h-3.90zM552.8 195.8h3.90v62.4h-3.90zM556.7 193.5h3.90v67.0h-3.90zM560.6 191.5h3.90v65.7h-3.90zM568.4 197.7h3.90v60.7h-3.90zM572.3 191.6h3.90v50.8h-3.90zM587.9 192.6h3.90v58.7h-3.90zM591.8 186.1h3.90v61.0h-3.90zM595.7 183.8h3.90v59.4h-3.90zM599.6 180.4h3.90v68.5h-3.90zM603.5 196.5h3.90v60.3h-3.90zM611.3 197.4h3.90v54.5h-3.90zM615.2 184.8h3.90v64.4h-3.90zM619.1 190.0h3.90v59.7h-3.90zM623.0 192.9h3.90v43.7h-3.90zM626.9 186.8h3.90v64.9h-3.90zM630.8 196.4h3.90v53.1h-3.90zM634.7 185.3h3.90v59.7h-3.90zM638.6 187.3h3.90v55.3h-3.90zM642.5 190.8h3.90v53.7h-3.90zM646.4 188.6h3.90v62.6h-3.90zM650.3 187.0h3.90v60.8h-3.90zM654.2 187.8h3.90v61.7h-3.90zM658.1 189.6h3.90v50.8h-3.90zM662.0 186.4h3.90v59.1h-3.90zM665.9 184.0h3.90v48.6h-3.90zM669.8 192.5h3.90v50.3h-3.90zM673.7 187.2h3.90v55.3h-3.90zM681.5 180.6h3.90v62.8h-3.90zM689.3 189.3h3.90v49.7h-3.90zM693.2 181.3h3.90v57.5h-3.90zM697.1 183.3h3.90v53.5h-3.90zM701.0 177.4h3.90v53.7h-3.90zM704.9 180.3h3.90v48.7h-3.90zM708.8 185.4h3.90v41.5h-3.90zM712.7 190.1h3.90v29.5h-3.90zM716.6 178.7h3.90v57.0h-3.90zM720.5 181.2h3.90v34.7h-3.90zM724.4 186.6h3.90v44.7h-3.90zM728.3 181.7h3.90v33.5h-3.90zM732.2 181.7h3.90v45.9h-3.90zM736.1 184.3h3.90v41.1h-3.90zM740.0 182.3h3.90v44.8h-3.90zM743.9 183.6h3.90v44.3h-3.90zM747.8 178.2h3.90v45.9h-3.90zM751.7 174.0h3.90v49.5h-3.90zM755.6 182.7h3.90v44.2h-3.90zM759.5 182.8h3.90v31.8h-3.90zM763.4 183.8h3.90v44.0h-3.90zM767.3 180.0h3.90v51.6h-3.90zM771.2 176.8h3.90v48.3h-3.90zM775.1 179.0h3.90v44.8h-3.90zM779.0 181.8h3.90v40.7h-3.90zM782.9 179.7h3.90v43.3h-3.90zM786.8 183.1h3.90v45.0h-3.90zM790.7 182.6h3.90v38.9h-3.90zM794.6 174.5h3.90v46.1h-3.90zM798.4 179.7h3.90v41.1h-3.90zM802.3 181.9h3.90v38.6h-3.90zM806.2 176.1h3.90v46.8h-3.90zM810.1 177.2h3.90v45.3h-3.90zM814.0 175.1h3.90v40.9h-3.90zM817.9 174.9h3.90v43.9h-3.90zM821.8 178.7h3.90v49.2h-3.90zM825.7 179.2h3.90v36.0h-3.90zM829.6 180.4h3.90v36.0h-3.90zM833.5 176.9h3.90v36.4h-3.90zM837.4 182.0h3.90v43.5h-3.90zM841.3 181.6h3.90v38.5h-3.90zM845.2 173.1h3.90v41.0h-3.90zM849.1 173.5h3.90v42.1h-3.90zM853.0 174.1h3.90v41.9h-3.90zM856.9 174.3h3.90v38.0h-3.90zM860.8 172.9h3.90v43.2h-3.90zM864.7 179.8h3.90v35.5h-3.90zM868.6 182.5h3.90v37.6h-3.90zM872.5 180.0h3.90v29.0h-3.90zM876.4 180.4h3.90v32.7h-3.90zM880.3 168.7h3.90v43.8h-3.90zM884.2 173.9h3.90v42.7h-3.90zM888.1 173.5h3.90v42.6h-3.90zM892.0 178.2h3.90v46.4h-3.90zM895.9 184.7h3.90v30.3h-3.90zM899.8 178.3h3.90v31.2h-3.90zM903.7 177.3h3.90v36.4h-3.90zM907.6 175.7h3.90v44.0h-3.90zM911.5 180.8h3.90v36.5h-3.90zM915.4 177.7h3.90v32.9h-3.90zM919.3 181.1h3.90v32.8h-3.90zM923.2 175.5h3.90v39.3h-3.90zM927.1 178.4h3.90v35.4h-3.90zM931.0 174.2h3.90v35.4h-3.90zM934.9 174.9h3.90v40.3h-3.90zM938.8 182.9h3.90v37.2h-3.90zM942.7 177.8h3.90v30.2h-3.90zM946.6 180.9h3.90v33.7h-3.90zM950.5 173.6h3.90v46.2h-3.90zM954.4 179.5h3.90v44.3h-3.90zM958.3 172.5h3.90v38.1h-3.90zM962.2 172.9h3.90v43.7h-3.90zM966.1 178.0h3.90v45.0h-3.90zM970.0 179.0h3.90v36.6h-3.90zM973.9 178.5h3.90v36.5h-3.90zM977.8 169.3h3.90v39.9h-3.90zM981.7 174.6h3.90v45.6h-3.90zM985.6 175.1h3.90v42.1h-3.90zM989.5 172.1h3.90v44.0h-3.90zM993.4 176.1h3.90v44.2h-3.90zM997.3 176.3h3.90v45.0h-3.90zM1001.2 179.3h3.90v39.4h-3.90zM1005.1 181.1h3.90v34.5h-3.90zM1009.0 174.0h3.90v45.5h-3.90zM1012.9 178.0h3.90v39.2h-3.90zM1016.8 173.9h3.90v37.0h-3.90zM1020.7 171.0h3.90v38.9h-3.90zM1024.6 176.4h3.90v47.5h-3.90zM1028.5 174.2h3.90v43.7h-3.90zM1032.4 178.4h3.90v41.0h-3.90zM1036.3 175.8h3.90v50.0h-3.90zM1040.2 174.0h3.90v51.8h-3.90zM1044.1 175.6h3.90v38.6h-3.90zM1048.0 179.9h3.90v42.4h-3.90zM1051.9 177.7h3.90v40.6h-3.90zM1055.8 176.1h3.90v50.2h-3.90zM1059.7 179.5h3.90v43.5h-3.90zM1063.6 176.7h3.90v38.3h-3.90zM1067.5 174.8h3.90v39.2h-3.90zM1071.4 176.5h3.90v41.0h-3.90zM1075.3 176.3h3.90v43.7h-3.90zM1079.2 173.8h3.90v49.3h-3.90zM1083.0 183.7h3.90v33.7h-3.90zM1086.9 174.3h3.90v43.6h-3.90zM1090.8 179.2h3.90v43.4h-3.90zM1094.7 179.9h3.90v36.1h-3.90zM1098.6 171.2h3.90v54.6h-3.90zM1102.5 179.0h3.90v34.7h-3.90zM1106.4 175.3h3.90v49.1h-3.90zM1110.3 176.4h3.90v50.7h-3.90zM1114.2 177.0h3.90v52.3h-3.90zM1118.1 172.3h3.90v51.7h-3.90zM1122.0 175.0h3.90v55.1h-3.90zM1125.9 182.2h3.90v37.2h-3.90zM1129.8 182.2h3.90v38.8h-3.90zM1133.7 188.5h3.90v35.2h-3.90zM1137.6 179.4h3.90v50.0h-3.90zM1141.5 186.1h3.90v35.8h-3.90zM1149.3 187.6h3.90v41.3h-3.90zM1153.2 189.2h3.90v37.9h-3.90zM1157.1 190.7h3.90v45.9h-3.90zM1164.9 193.3h3.90v39.6h-3.90zM1168.8 196.4h3.90v30.0h-3.90zM1172.7 188.9h3.90v42.5h-3.90zM1176.6 194.9h3.90v35.0h-3.90zM1180.5 194.5h3.90v36.6h-3.90zM1184.4 198.8h3.90v38.9h-3.90zM1188.3 194.4h3.90v51.2h-3.90zM1196.1 193.8h3.90v43.0h-3.90zM1200.0 201.4h3.90v44.3h-3.90zM1203.9 197.2h3.90v39.2h-3.90zM1207.8 197.0h3.90v44.3h-3.90zM1211.7 194.2h3.90v47.3h-3.90zM1219.5 202.8h3.90v36.2h-3.90zM1223.4 202.4h3.90v40.1h-3.90zM1227.3 196.9h3.90v35.3h-3.90zM1231.2 199.4h3.90v46.8h-3.90zM1235.1 204.3h3.90v38.5h-3.90zM1239.0 203.0h3.90v43.3h-3.90zM1250.7 203.4h3.90v44.0h-3.90zM1254.6 205.0h3.90v32.6h-3.90zM1258.5 197.1h3.90v50.3h-3.90zM1262.4 207.9h3.90v30.1h-3.90zM1266.3 203.0h3.90v37.6h-3.90zM1270.2 207.9h3.90v39.2h-3.90zM1274.1 204.5h3.90v51.8h-3.90zM1281.9 197.3h3.90v44.7h-3.90zM1285.8 209.3h3.90v52.0h-3.90zM1289.7 212.9h3.90v40.3h-3.90zM1293.6 201.5h3.90v58.3h-3.90zM1305.3 206.3h3.90v58.3h-3.90zM1309.2 218.3h3.90v31.4h-3.90zM1313.1 209.2h3.90v52.2h-3.90zM1320.9 211.3h3.90v45.5h-3.90zM1328.7 210.1h3.90v47.5h-3.90zM1332.6 203.6h3.90v69.3h-3.90zM1344.3 213.0h3.90v47.7h-3.90zM1352.1 211.4h3.90v58.9h-3.90zM1359.9 208.7h3.90v55.2h-3.90zM1363.8 210.0h3.90v58.5h-3.90zM1367.6 212.2h3.90v57.5h-3.90zM1371.5 210.8h3.90v63.3h-3.90zM1375.4 221.5h3.90v54.0h-3.90zM1379.3 209.3h3.90v58.6h-3.90zM1402.7 210.4h3.90v68.9h-3.90zM1406.6 208.5h3.90v70.0h-3.90zM1422.2 221.7h3.90v59.6h-3.90zM1426.1 219.1h3.90v51.6h-3.90zM1430.0 221.3h3.90v75.2h-3.90zM1449.5 210.5h3.90v78.6h-3.90zM1469.0 218.5h3.90v87.0h-3.90zM1480.7 224.8h3.90v53.8h-3.90zM1488.5 222.2h3.90v65.2h-3.90zM1492.4 214.8h3.90v80.6h-3.90zM1496.3 208.6h3.90v73.1h-3.90zM1500.2 224.1h3.90v55.1h-3.90z" fill="rgb(255,0,255)" fill-opacity="0.105"/>
<path d="M85.0 215.6h3.90v75.8h-3.90zM92.8 223.0h3.90v69.5h-3.90zM96.7 223.4h3.90v61.3h-3.90zM100.6 233.9h3.90v68.4h-3.90zM104.5 242.6h3.90v55.0h-3.90zM108.4 241.5h3.90v48.2h-3.90zM112.3 231.0h3.90v57.3h-3.90zM127.9 247.4h3.90v50.8h-3.90zM131.8 237.0h3.90v60.3h-3.90zM135.7 220.9h3.90v78.2h-3.90zM139.6 236.2h3.90v74.6h-3.90zM143.5 231.2h3.90v56.5h-3.90zM151.3 231.2h3.90v61.7h-3.90zM159.1 236.0h3.90v54.6h-3.90zM163.0 241.5h3.90v52.7h-3.90zM166.9 245.1h3.90v44.0h-3.90zM170.8 238.4h3.90v61.6h-3.90zM174.7 242.1h3.90v41.9h-3.90zM190.3 234.3h3.90v48.7h-3.90zM194.2 229.4h3.90v62.6h-3.90zM198.1 236.9h3.90v54.6h-3.90zM205.9 233.4h3.90v60.4h-3.90zM217.6 227.0h3.90v61.0h-3.90zM229.2 237.9h3.90v60.5h-3.90zM233.1 235.1h3.90v49.4h-3.90zM237.0 221.7h3.90v67.0h-3.90zM256.5 235.1h3.90v45.4h-3.90zM260.4 235.0h3.90v50.0h-3.90zM268.2 235.0h3.90v50.6h-3.90zM283.8 236.3h3.90v51.3h-3.90zM287.7 235.2h3.90v51.2h-3.90zM295.5 234.9h3.90v55.7h-3.90zM299.4 235.4h3.90v54.4h-3.90zM303.3 224.8h3.90v62.0h-3.90zM307.2 226.6h3.90v50.7h-3.90zM311.1 241.7h3.90v39.3h-3.90zM315.0 222.5h3.90v62.8h-3.90zM322.8 220.3h3.90v65.8h-3.90zM326.7 223.2h3.90v39.0h-3.90zM330.6 225.1h3.90v58.0h-3.90zM350.1 215.0h3.90v68.4h-3.90zM357.9 232.3h3.90v40.4h-3.90zM365.7 211.5h3.90v51.3h-3.90zM373.5 238.5h3.90v18.4h-3.90zM389.1 216.2h3.90v62.1h-3.90zM393.0 222.2h3.90v48.3h-3.90zM396.9 220.6h3.90v58.0h-3.90zM400.8 223.4h3.90v56.0h-3.90zM412.5 214.3h3.90v64.6h-3.90zM416.4 221.4h3.90v45.5h-3.90zM420.3 218.6h3.90v51.7h-3.90zM424.2 222.9h3.90v46.7h-3.90zM428.1 225.1h3.90v43.4h-3.90zM432.0 216.2h3.90v47.6h-3.90zM435.9 214.6h3.90v40.6h-3.90zM443.7 213.0h3.90v59.6h-3.90zM447.6 214.3h3.90v44.9h-3.90zM451.5 219.1h3.90v55.6h-3.90zM459.3 210.7h3.90v51.5h-3.90zM463.2 209.8h3.90v56.5h-3.90zM467.1 205.4h3.90v54.4h-3.90zM474.9 212.4h3.90v51.7h-3.90zM478.8 214.3h3.90v40.4h-3.90zM482.7 213.7h3.90v44.5h-3.90zM486.6 210.0h3.90v51.5h-3.90zM490.5 213.4h3.90v49.8h-3.90zM494.4 208.1h3.90v53.8h-3.90zM498.3 212.5h3.90v45.0h-3.90zM502.2 206.7h3.90v47.1h-3.90zM510.0 201.6h3.90v54.4h-3.90zM513.8 213.3h3.90v47.4h-3.90zM521.6 207.8h3.90v52.9h-3.90zM525.5 207.3h3.90v60.5h-3.90zM529.4 205.5h3.90v53.6h-3.90zM533.3 201.0h3.90v52.2h-3.90zM541.1 203.6h3.90v59.5h-3.90zM545.0 205.5h3.90v45.5h-3.90zM552.8 198.2h3.90v60.2h-3.90zM556.7 202.8h3.90v51.0h-3.90zM560.6 206.3h3.90v50.6h-3.90zM564.5 202.4h3.90v54.4h-3.90zM568.4 199.3h3.90v46.4h-3.90zM572.3 192.1h3.90v66.7h-3.90zM576.2 206.0h3.90v44.7h-3.90zM580.1 198.2h3.90v53.2h-3.90zM584.0 196.0h3.90v50.8h-3.90zM587.9 196.4h3.90v57.1h-3.90zM591.8 204.0h3.90v47.4h-3.90zM595.7 198.8h3.90v55.3h-3.90zM599.6 199.8h3.90v48.8h-3.90zM603.5 199.6h3.90v41.8h-3.90zM607.4 198.9h3.90v49.5h-3.90zM611.3 190.8h3.90v66.2h-3.90zM615.2 192.6h3.90v52.2h-3.90zM626.9 190.6h3.90v62.3h-3.90zM630.8 193.5h3.90v50.3h-3.90zM634.7 196.2h3.90v53.3h-3.90zM642.5 192.5h3.90v56.9h-3.90zM646.4 195.3h3.90v54.0h-3.90zM650.3 189.7h3.90v56.0h-3.90zM654.2 190.9h3.90v44.1h-3.90zM658.1 193.0h3.90v47.9h-3.90zM662.0 185.2h3.90v53.1h-3.90zM665.9 188.7h3.90v50.5h-3.90zM673.7 193.6h3.90v46.4h-3.90zM677.6 184.2h3.90v44.0h-3.90zM681.5 195.8h3.90v27.8h-3.90zM685.4 186.1h3.90v41.4h-3.90zM689.3 184.3h3.90v50.7h-3.90zM693.2 183.2h3.90v52.9h-3.90zM697.1 184.0h3.90v36.1h-3.90zM701.0 185.1h3.90v39.3h-3.90zM704.9 191.8h3.90v39.3h-3.90zM708.8 185.2h3.90v44.6h-3.90zM712.7 189.3h3.90v40.6h-3.90zM716.6 188.3h3.90v37.8h-3.90zM720.5 186.9h3.90v46.2h-3.90zM724.4 183.3h3.90v40.9h-3.90zM728.3 183.0h3.90v42.1h-3.90zM732.2 190.6h3.90v34.0h-3.90zM736.1 184.5h3.90v41.5h-3.90zM740.0 191.2h3.90v35.9h-3.90zM743.9 189.4h3.90v34.3h-3.90zM747.8 184.9h3.90v39.2h-3.90zM751.7 179.3h3.90v53.0h-3.90zM755.6 191.4h3.90v26.9h-3.90zM759.5 189.4h3.90v38.6h-3.90zM763.4 183.1h3.90v38.1h-3.90zM767.3 182.6h3.90v40.3h-3.90zM771.2 177.3h3.90v39.2h-3.90zM775.1 184.0h3.90v30.1h-3.90zM779.0 184.4h3.90v29.1h-3.90zM782.9 179.5h3.90v39.3h-3.90zM786.8 181.6h3.90v30.9h-3.90zM790.7 184.2h3.90v26.3h-3.90zM794.6 182.9h3.90v36.4h-3.90zM798.4 184.9h3.90v31.8h-3.90zM802.3 177.1h3.90v41.4h-3.90zM806.2 181.9h3.90v30.9h-3.90zM810.1 181.1h3.90v35.0h-3.90zM814.0 186.9h3.90v34.0h-3.90zM817.9 179.8h3.90v43.3h-3.90zM821.8 178.4h3.90v32.6h-3.90zM825.7 181.2h3.90v38.3h-3.90zM829.6 179.1h3.90v33.5h-3.90zM833.5 181.1h3.90v38.3h-3.90zM837.4 190.2h3.90v24.1h-3.90zM841.3 177.9h3.90v37.7h-3.90zM845.2 181.6h3.90v31.7h-3.90zM849.1 182.9h3.90v21.2h-3.90zM853.0 180.9h3.90v34.6h-3.90zM856.9 185.7h3.90v22.1h-3.90zM860.8 181.7h3.90v35.0h-3.90zM864.7 175.9h3.90v32.0h-3.90zM868.6 175.6h3.90v40.0h-3.90zM872.5 176.6h3.90v40.8h-3.90zM876.4 178.5h3.90v31.4h-3.90zM880.3 179.9h3.90v35.0h-3.90zM884.2 178.6h3.90v36.1h-3.90zM888.1 171.5h3.90v47.2h-3.90zM892.0 182.2h3.90v32.4h-3.90zM895.9 178.3h3.90v37.9h-3.90zM899.8 180.9h3.90v29.3h-3.90zM903.7 179.5h3.90v35.0h-3.90zM907.6 179.6h3.90v41.6h-3.90zM911.5 180.9h3.90v34.6h-3.90zM915.4 179.6h3.90v27.3h-3.90zM919.3 175.6h3.90v39.9h-3.90zM923.2 179.5h3.90v31.3h-3.90zM927.1 183.0h3.90v28.3h-3.90zM931.0 180.7h3.90v32.5h-3.90zM934.9 180.6h3.90v41.5h-3.90zM938.8 177.3h3.90v41.6h-3.90zM942.7 177.6h3.90v34.1h-3.90zM946.6 181.4h3.90v29.0h-3.90zM950.5 177.9h3.90v40.3h-3.90zM954.4 183.0h3.90v29.3h-3.90zM958.3 180.9h3.90v35.1h-3.90zM962.2 177.1h3.90v40.2h-3.90zM966.1 182.0h3.90v34.0h-3.90zM970.0 174.7h3.90v43.3h-3.90zM973.9 183.8h3.90v31.4h-3.90zM977.8 175.0h3.90v39.8h-3.90zM981.7 181.3h3.90v34.5h-3.90zM985.6 179.2h3.90v36.2h-3.90zM989.5 185.9h3.90v30.0h-3.90zM993.4 174.4h3.90v42.2h-3.90zM997.3 183.7h3.90v35.9h-3.90zM1001.2 175.3h3.90v39.8h-3.90zM1005.1 172.3h3.90v42.6h-3.90zM1009.0 183.3h3.90v27.4h-3.90zM1012.9 174.4h3.90v42.2h-3.90zM1016.8 172.2h3.90v41.9h-3.90zM1020.7 184.6h3.90v33.4h-3.90zM1024.6 172.5h3.90v37.5h-3.90zM1028.5 175.5h3.90v41.0h-3.90zM1032.4 181.4h3.90v39.6h-3.90zM1036.3 179.2h3.90v31.8h-3.90zM1040.2 176.5h3.90v48.5h-3.90zM1044.1 180.1h3.90v43.5h-3.90zM1048.0 179.7h3.90v33.3h-3.90zM1051.9 177.8h3.90v31.8h-3.90zM1055.8 183.4h3.90v31.2h-3.90zM1059.7 176.2h3.90v41.3h-3.90zM1063.6 185.8h3.90v24.4h-3.90zM1067.5 176.8h3.90v41.6h-3.90zM1071.4 182.0h3.90v37.8h-3.90zM1075.3 175.7h3.90v42.4h-3.90zM1079.2 187.3h3.90v26.2h-3.90zM1083.0 180.8h3.90v33.7h-3.90zM1086.9 174.6h3.90v44.5h-3.90zM1090.8 173.0h3.90v55.7h-3.90zM1094.7 181.2h3.90v36.5h-3.90zM1098.6 179.0h3.90v30.1h-3.90zM1102.5 180.3h3.90v40.9h-3.90zM1106.4 182.8h3.90v33.4h-3.90zM1110.3 190.5h3.90v25.8h-3.90zM1114.2 175.7h3.90v44.9h-3.90zM1118.1 179.4h3.90v40.3h-3.90zM1122.0 181.4h3.90v35.8h-3.90zM1125.9 189.9h3.90v41.3h-3.90zM1129.8 186.3h3.90v47.6h-3.90zM1133.7 192.2h3.90v26.9h-3.90zM1137.6 189.0h3.90v29.7h-3.90zM1141.5 187.2h3.90v29.1h-3.90zM1145.4 190.4h3.90v36.2h-3.90zM1149.3 182.2h3.90v45.8h-3.90zM1157.1 189.9h3.90v33.0h-3.90zM1161.0 189.9h3.90v45.5h-3.90zM1164.9 199.7h3.90v27.0h-3.90zM1168.8 193.1h3.90v39.9h-3.90zM1172.7 194.5h3.90v33.0h-3.90zM1176.6 201.5h3.90v32.6h-3.90zM1180.5 198.8h3.90v39.4h-3.90zM1184.4 196.1h3.90v28.9h-3.90zM1188.3 207.7h3.90v29.6h-3.90zM1192.2 199.7h3.90v30.0h-3.90zM1196.1 199.9h3.90v38.6h-3.90zM1200.0 206.8h3.90v32.9h-3.90zM1207.8 195.7h3.90v36.2h-3.90zM1215.6 206.0h3.90v31.3h-3.90zM1219.5 197.4h3.90v35.8h-3.90zM1223.4 199.0h3.90v36.1h-3.90zM1227.3 204.9h3.90v27.4h-3.90zM1235.1 207.1h3.90v25.4h-3.90zM1242.9 207.2h3.90v30.6h-3.90zM1246.8 202.6h3.90v43.3h-3.90zM1254.6 204.6h3.90v46.8h-3.90zM1258.5 204.8h3.90v44.5h-3.90zM1262.4 203.2h3.90v38.7h-3.90zM1270.2 211.2h3.90v35.4h-3.90zM1274.1 209.1h3.90v39.9h-3.90zM1278.0 212.6h3.90v33.5h-3.90zM1281.9 206.8h3.90v42.4h-3.90zM1285.8 214.9h3.90v38.1h-3.90zM1289.7 214.7h3.90v27.9h-3.90zM1297.5 217.8h3.90v28.2h-3.90zM1301.4 218.5h3.90v42.5h-3.90zM1317.0 208.4h3.90v43.9h-3.90zM1324.8 220.4h3.90v34.3h-3.90zM1328.7 219.5h3.90v36.0h-3.90zM1332.6 213.0h3.90v39.1h-3.90zM1336.5 212.8h3.90v51.5h-3.90zM1340.4 209.6h3.90v35.8h-3.90zM1356.0 216.6h3.90v40.0h-3.90zM1359.9 217.9h3.90v43.3h-3.90zM1367.6 215.0h3.90v38.9h-3.90zM1371.5 217.1h3.90v43.4h-3.90zM1383.2 216.3h3.90v50.4h-3.90zM1391.0 205.4h3.90v60.5h-3.90zM1398.8 217.1h3.90v42.6h-3.90zM1402.7 220.1h3.90v42.2h-3.90zM1406.6 214.6h3.90v57.4h-3.90zM1410.5 223.9h3.90v45.6h-3.90zM1418.3 220.2h3.90v56.0h-3.90zM1437.8 221.9h3.90v58.9h-3.90zM1453.4 221.5h3.90v63.2h-3.90zM1457.3 228.6h3.90v52.4h-3.90zM1461.2 210.8h3.90v83.2h-3.90zM1465.1 225.5h3.90v45.7h-3.90zM1469.0 230.8h3.90v51.6h-3.90zM1476.8 221.8h3.90v54.0h-3.90zM1492.4 235.1h3.90v66.4h-3.90z" fill="rgb(255,0,255)" fill-opacity="0.105"/>
<path d="M85.0 223.4h3.90v73.0h-3.90zM88.9 233.3h3.90v53.4h-3.90zM96.7 240.6h3.90v49.1h-3.90zM100.6 228.1h3.90v63.3h-3.90zM108.4 235.5h3.90v52.3h-3.90zM112.3 240.0h3.90v43.2h-3.90zM120.1 230.5h3.90v68.5h-3.90zM124.0 232.3h3.90v55.0h-3.90zM139.6 243.3h3.90v57.3h-3.90zM143.5 238.4h3.90v52.4h-3.90zM151.3 244.1h3.90v49.0h-3.90zM166.9 244.6h3.90v46.0h-3.90zM178.6 243.6h3.90v46.4h-3.90zM182.5 243.0h3.90v36.1h-3.90zM186.4 246.8h3.90v49.7h-3.90zM190.3 245.4h3.90v50.9h-3.90zM205.9 237.6h3.90v52.6h-3.90zM209.8 251.3h3.90v37.0h-3.90zM221.5 248.4h3.90v27.5h-3.90zM233.1 236.3h3.90v48.5h-3.90zM240.9 242.5h3.90v38.7h-3.90zM244.8 248.4h3.90v17.4h-3.90zM260.4 235.2h3.90v43.9h-3.90zM272.1 241.7h3.90v47.2h-3.90zM276.0 233.9h3.90v47.4h-3.90zM279.9 240.5h3.90v27.9h-3.90zM287.7 233.5h3.90v47.0h-3.90zM295.5 231.7h3.90v49.4h-3.90zM299.4 237.0h3.90v42.7h-3.90zM303.3 230.6h3.90v49.0h-3.90zM318.9 233.9h3.90v46.6h-3.90zM326.7 225.1h3.90v40.8h-3.90zM330.6 231.5h3.90v49.6h-3.90zM342.3 228.0h3.90v46.4h-3.90zM346.2 216.5h3.90v64.1h-3.90zM350.1 227.5h3.90v45.0h-3.90zM354.0 230.9h3.90v26.6h-3.90zM357.9 233.9h3.90v37.6h-3.90zM361.8 217.0h3.90v43.2h-3.90zM369.6 222.4h3.90v44.1h-3.90zM377.4 231.7h3.90v30.6h-3.90zM385.2 232.8h3.90v34.4h-3.90zM389.1 222.7h3.90v42.2h-3.90zM393.0 232.7h3.90v39.1h-3.90zM396.9 232.8h3.90v43.4h-3.90zM400.8 224.8h3.90v38.5h-3.90zM404.7 233.7h3.90v29.5h-3.90zM416.4 229.7h3.90v33.7h-3.90zM420.3 219.9h3.90v52.5h-3.90zM424.2 221.8h3.90v53.7h-3.90zM435.9 224.8h3.90v40.7h-3.90zM439.8 223.0h3.90v34.2h-3.90zM443.7 213.6h3.90v44.7h-3.90zM447.6 212.1h3.90v47.7h-3.90zM451.5 221.4h3.90v45.5h-3.90zM463.2 210.7h3.90v46.7h-3.90zM467.1 219.3h3.90v50.7h-3.90zM471.0 215.7h3.90v49.1h-3.90zM474.9 215.5h3.90v46.4h-3.90zM478.8 217.8h3.90v49.2h-3.90zM482.7 210.5h3.90v43.9h-3.90zM486.6 212.7h3.90v52.8h-3.90zM490.5 215.8h3.90v52.7h-3.90zM494.4 220.6h3.90v37.0h-3.90zM498.3 214.5h3.90v39.5h-3.90zM502.2 206.8h3.90v56.0h-3.90zM506.1 218.4h3.90v53.8h-3.90zM513.8 219.6h3.90v38.0h-3.90zM517.7 213.3h3.90v44.7h-3.90zM521.6 210.7h3.90v38.2h-3.90zM529.4 210.4h3.90v37.4h-3.90zM533.3 203.5h3.90v49.0h-3.90zM537.2 215.0h3.90v43.9h-3.90zM541.1 197.6h3.90v62.4h-3.90zM545.0 210.3h3.90v48.2h-3.90zM548.9 211.4h3.90v50.5h-3.90zM552.8 205.2h3.90v42.6h-3.90zM556.7 206.9h3.90v43.3h-3.90zM564.5 212.6h3.90v34.4h-3.90zM568.4 199.4h3.90v43.9h-3.90zM572.3 198.9h3.90v52.7h-3.90zM576.2 204.8h3.90v45.8h-3.90zM580.1 193.3h3.90v49.4h-3.90zM584.0 195.0h3.90v61.5h-3.90zM587.9 198.3h3.90v52.6h-3.90zM591.8 204.1h3.90v42.0h-3.90zM595.7 197.5h3.90v49.0h-3.90zM599.6 193.8h3.90v51.5h-3.90zM603.5 196.8h3.90v53.2h-3.90zM607.4 199.3h3.90v34.9h-3.90zM611.3 202.2h3.90v39.7h-3.90zM615.2 197.0h3.90v53.7h-3.90zM619.1 195.9h3.90v43.3h-3.90zM623.0 196.3h3.90v56.2h-3.90zM626.9 192.7h3.90v53.3h-3.90zM630.8 191.9h3.90v47.9h-3.90zM638.6 206.1h3.90v42.4h-3.90zM642.5 202.8h3.90v39.8h-3.90zM646.4 198.0h3.90v41.4h-3.90zM650.3 195.6h3.90v41.5h-3.90zM654.2 196.1h3.90v41.0h-3.90zM658.1 184.2h3.90v52.5h-3.90zM662.0 197.1h3.90v32.7h-3.90zM665.9 192.2h3.90v38.5h-3.90zM669.8 191.2h3.90v41.8h-3.90zM673.7 190.0h3.90v41.8h-3.90zM677.6 193.1h3.90v33.7h-3.90zM681.5 194.0h3.90v37.2h-3.90zM685.4 185.5h3.90v42.5h-3.90zM689.3 188.9h3.90v32.5h-3.90zM693.2 193.7h3.90v32.4h-3.90zM701.0 187.3h3.90v36.9h-3.90zM704.9 188.2h3.90v33.6h-3.90zM708.8 192.9h3.90v32.8h-3.90zM712.7 188.2h3.90v41.7h-3.90zM716.6 191.8h3.90v35.4h-3.90zM720.5 185.6h3.90v32.4h-3.90zM724.4 186.2h3.90v26.6h-3.90zM728.3 188.3h3.90v40.5h-3.90zM732.2 191.1h3.90v33.6h-3.90zM736.1 185.4h3.90v34.0h-3.90zM740.0 182.0h3.90v42.1h-3.90zM743.9 182.1h3.90v40.8h-3.90zM747.8 186.4h3.90v35.4h-3.90zM751.7 192.6h3.90v24.4h-3.90zM755.6 184.2h3.90v35.1h-3.90zM759.5 187.4h3.90v31.7h-3.90zM763.4 185.1h3.90v34.0h-3.90zM767.3 186.8h3.90v36.7h-3.90zM771.2 183.5h3.90v32.3h-3.90zM775.1 180.7h3.90v41.0h-3.90zM779.0 189.3h3.90v31.6h-3.90zM782.9 183.1h3.90v44.6h-3.90zM786.8 185.2h3.90v28.9h-3.90zM790.7 186.9h3.90v31.5h-3.90zM794.6 192.4h3.90v24.8h-3.90zM798.4 184.0h3.90v31.8h-3.90zM802.3 183.4h3.90v30.1h-3.90zM806.2 186.1h3.90v29.5h-3.90zM810.1 183.7h3.90v26.9h-3.90zM814.0 184.6h3.90v23.0h-3.90zM817.9 183.4h3.90v31.2h-3.90zM821.8 177.8h3.90v33.9h-3.90zM825.7 179.3h3.90v28.6h-3.90zM829.6 176.3h3.90v40.3h-3.90zM833.5 189.7h3.90v13.1h-3.90zM837.4 182.7h3.90v22.2h-3.90zM841.3 181.8h3.90v31.8h-3.90zM845.2 181.8h3.90v35.8h-3.90zM849.1 178.7h3.90v29.6h-3.90zM853.0 179.8h3.90v38.0h-3.90zM856.9 180.4h3.90v34.5h-3.90zM860.8 177.1h3.90v37.0h-3.90zM864.7 182.4h3.90v20.8h-3.90zM868.6 185.5h3.90v25.0h-3.90zM872.5 179.8h3.90v28.4h-3.90zM876.4 177.6h3.90v36.6h-3.90zM880.3 181.2h3.90v30.7h-3.90zM884.2 172.8h3.90v40.3h-3.90zM888.1 189.4h3.90v15.1h-3.90zM892.0 181.4h3.90v31.0h-3.90zM895.9 184.2h3.90v28.9h-3.90zM899.8 178.3h3.90v25.8h-3.90zM903.7 183.2h3.90v33.2h-3.90zM907.6 178.3h3.90v37.0h-3.90zM911.5 180.0h3.90v38.2h-3.90zM915.4 181.2h3.90v32.1h-3.90zM919.3 176.4h3.90v31.8h-3.90zM923.2 186.5h3.90v22.5h-3.90zM927.1 182.7h3.90v27.1h-3.90zM931.0 176.5h3.90v33.5h-3.90zM934.9 180.6h3.90v30.1h-3.90zM938.8 178.7h3.90v33.9h-3.90zM942.7 176.1h3.90v29.5h-3.90zM946.6 180.9h3.90v36.2h-3.90zM950.5 178.1h3.90v38.6h-3.90zM954.4 180.9h3.90v33.4h-3.90zM958.3 175.1h3.90v35.8h-3.90zM962.2 185.0h3.90v23.6h-3.90zM966.1 179.2h3.90v42.3h-3.90zM970.0 182.4h3.90v26.9h-3.90zM973.9 180.0h3.90v29.5h-3.90zM977.8 182.9h3.90v32.9h-3.90zM981.7 179.2h3.90v36.6h-3.90zM985.6 179.7h3.90v33.7h-3.90zM989.5 177.5h3.90v40.3h-3.90zM993.4 188.3h3.90v22.5h-3.90zM997.3 185.4h3.90v18.6h-3.90zM1001.2 177.0h3.90v38.6h-3.90zM1005.1 179.0h3.90v36.6h-3.90zM1009.0 187.2h3.90v25.8h-3.90zM1012.9 177.6h3.90v37.6h-3.90zM1016.8 179.9h3.90v31.1h-3.90zM1020.7 181.8h3.90v37.4h-3.90zM1024.6 185.2h3.90v26.7h-3.90zM1028.5 178.2h3.90v45.7h-3.90zM1032.4 181.8h3.90v37.3h-3.90zM1036.3 183.0h3.90v30.0h-3.90zM1040.2 181.0h3.90v27.6h-3.90zM1044.1 181.0h3.90v31.1h-3.90zM1048.0 183.2h3.90v34.3h-3.90zM1051.9 181.5h3.90v34.9h-3.90zM1055.8 175.9h3.90v37.2h-3.90zM1059.7 186.8h3.90v31.7h-3.90zM1063.6 184.7h3.90v33.9h-3.90zM1067.5 183.0h3.90v26.4h-3.90zM1071.4 181.5h3.90v33.9h-3.90zM1075.3 176.9h3.90v43.2h-3.90zM1079.2 178.0h3.90v39.0h-3.90zM1083.0 189.7h3.90v29.9h-3.90zM1086.9 186.7h3.90v28.2h-3.90zM1090.8 178.9h3.90v32.9h-3.90zM1094.7 179.8h3.90v31.3h-3.90zM1098.6 185.3h3.90v30.7h-3.90zM1102.5 183.0h3.90v27.2h-3.90zM1106.4 183.9h3.90v26.4h-3.90zM1110.3 183.4h3.90v32.9h-3.90zM1114.2 193.2h3.90v26.2h-3.90zM1118.1 176.5h3.90v37.9h-3.90zM1122.0 184.9h3.90v31.2h-3.90zM1125.9 183.6h3.90v32.2h-3.90zM1129.8 184.5h3.90v40.9h-3.90zM1133.7 184.5h3.90v36.5h-3.90zM1137.6 192.1h3.90v30.7h-3.90zM1141.5 192.7h3.90v34.6h-3.90zM1149.3 192.1h3.90v24.5h-3.90zM1157.1 189.9h3.90v41.8h-3.90zM1161.0 193.1h3.90v35.5h-3.90zM1164.9 196.3h3.90v22.9h-3.90zM1168.8 197.6h3.90v30.3h-3.90zM1172.7 204.0h3.90v23.7h-3.90zM1176.6 196.0h3.90v35.1h-3.90zM1180.5 203.1h3.90v37.4h-3.90zM1184.4 206.9h3.90v27.7h-3.90zM1188.3 200.8h3.90v30.2h-3.90zM1196.1 198.8h3.90v35.3h-3.90zM1200.0 203.3h3.90v34.6h-3.90zM1203.9 209.4h3.90v27.4h-3.90zM1207.8 203.8h3.90v43.6h-3.90zM1211.7 195.1h3.90v43.1h-3.90zM1215.6 197.5h3.90v39.4h-3.90zM1219.5 203.6h3.90v33.6h-3.90zM1223.4 204.3h3.90v24.6h-3.90zM1227.3 204.6h3.90v28.4h-3.90zM1231.2 200.8h3.90v30.7h-3.90zM1235.1 201.0h3.90v42.3h-3.90zM1239.0 210.0h3.90v29.0h-3.90zM1246.8 207.2h3.90v34.1h-3.90zM1258.5 210.8h3.90v39.5h-3.90zM1262.4 211.3h3.90v35.4h-3.90zM1270.2 214.8h3.90v37.3h-3.90zM1278.0 220.2h3.90v31.2h-3.90zM1289.7 220.8h3.90v32.9h-3.90zM1293.6 218.7h3.90v22.4h-3.90zM1297.5 220.6h3.90v28.9h-3.90zM1301.4 210.5h3.90v32.7h-3.90zM1305.3 219.9h3.90v30.1h-3.90zM1317.0 223.7h3.90v30.7h-3.90zM1328.7 216.3h3.90v27.0h-3.90zM1332.6 215.1h3.90v32.7h-3.90zM1336.5 217.0h3.90v42.2h-3.90zM1344.3 217.2h3.90v38.9h-3.90zM1363.8 218.0h3.90v46.7h-3.90zM1367.6 221.0h3.90v33.7h-3.90zM1371.5 218.1h3.90v42.1h-3.90zM1375.4 214.4h3.90v40.7h-3.90zM1379.3 226.7h3.90v38.7h-3.90zM1383.2 219.5h3.90v47.9h-3.90zM1387.1 215.9h3.90v48.8h-3.90zM1398.8 218.8h3.90v45.0h-3.90zM1406.6 214.9h3.90v47.6h-3.90zM1430.0 223.6h3.90v61.3h-3.90zM1433.9 225.9h3.90v51.6h-3.90zM1441.7 235.1h3.90v33.0h-3.90zM1449.5 224.0h3.90v53.4h-3.90zM1453.4 228.7h3.90v41.6h-3.90zM1457.3 231.4h3.90v43.0h-3.90zM1465.1 228.3h3.90v47.0h-3.90zM1469.0 225.3h3.90v49.7h-3.90zM1476.8 226.0h3.90v48.5h-3.90zM1480.7 237.4h3.90v47.9h-3.90zM1496.3 231.9h3.90v39.8h-3.90z" fill="rgb(255,0,255)" fill-opacity="0.105"/>
<path d="M88.9 239.4h3.90v43.5h-3.90zM92.8 234.7h3.90v65.7h-3.90zM96.7 239.6h3.90v38.4h-3.90zM100.6 244.1h3.90v36.1h-3.90zM112.3 240.2h3.90v48.4h-3.90zM120.1 233.8h3.90v43.6h-3.90zM124.0 238.5h3.90v51.6h-3.90zM135.7 243.7h3.90v44.3h-3.90zM139.6 248.1h3.90v41.6h-3.90zM143.5 240.7h3.90v45.9h-3.90zM151.3 244.4h3.90v40.9h-3.90zM159.1 247.4h3.90v46.1h-3.90zM166.9 248.5h3.90v35.6h-3.90zM170.8 250.9h3.90v39.8h-3.90zM178.6 247.7h3.90v47.3h-3.90zM186.4 245.4h3.90v50.3h-3.90zM190.3 253.2h3.90v33.4h-3.90zM205.9 239.4h3.90v53.0h-3.90zM221.5 241.8h3.90v41.8h-3.90zM225.4 239.0h3.90v39.1h-3.90zM237.0 249.6h3.90v26.6h-3.90zM240.9 236.3h3.90v47.1h-3.90zM244.8 245.0h3.90v35.5h-3.90zM248.7 233.6h3.90v47.1h-3.90zM252.6 252.3h3.90v17.7h-3.90zM256.5 242.4h3.90v28.1h-3.90zM268.2 240.0h3.90v30.1h-3.90zM272.1 237.4h3.90v41.8h-3.90zM279.9 228.1h3.90v48.9h-3.90zM318.9 220.9h3.90v47.3h-3.90zM322.8 236.8h3.90v42.7h-3.90zM326.7 231.8h3.90v28.8h-3.90zM330.6 235.2h3.90v44.9h-3.90zM334.5 229.7h3.90v32.5h-3.90zM338.4 226.2h3.90v24.8h-3.90zM342.3 225.6h3.90v36.4h-3.90zM346.2 224.3h3.90v43.6h-3.90zM357.9 233.3h3.90v24.2h-3.90zM369.6 230.5h3.90v41.1h-3.90zM381.3 217.7h3.90v50.2h-3.90zM389.1 239.0h3.90v17.4h-3.90zM393.0 233.3h3.90v31.4h-3.90zM396.9 228.6h3.90v31.3h-3.90zM400.8 236.3h3.90v22.3h-3.90zM408.6 221.0h3.90v35.5h-3.90zM420.3 228.4h3.90v37.1h-3.90zM424.2 220.9h3.90v39.1h-3.90zM428.1 231.4h3.90v35.7h-3.90zM435.9 208.9h3.90v50.4h-3.90zM439.8 213.6h3.90v44.1h-3.90zM443.7 228.3h3.90v23.5h-3.90zM451.5 209.1h3.90v50.3h-3.90zM455.4 226.7h3.90v35.8h-3.90zM463.2 221.6h3.90v41.9h-3.90zM471.0 217.9h3.90v36.9h-3.90zM474.9 211.7h3.90v39.4h-3.90zM478.8 221.7h3.90v37.0h-3.90zM482.7 216.4h3.90v42.4h-3.90zM486.6 210.5h3.90v33.2h-3.90zM490.5 219.8h3.90v34.1h-3.90zM494.4 211.5h3.90v52.6h-3.90zM498.3 209.5h3.90v37.1h-3.90zM506.1 215.4h3.90v40.6h-3.90zM510.0 218.1h3.90v45.7h-3.90zM513.8 226.5h3.90v28.5h-3.90zM517.7 215.4h3.90v45.6h-3.90zM521.6 216.6h3.90v27.6h-3.90zM525.5 213.1h3.90v37.5h-3.90zM529.4 217.4h3.90v37.4h-3.90zM533.3 207.1h3.90v42.1h-3.90zM541.1 210.1h3.90v42.9h-3.90zM545.0 209.1h3.90v43.0h-3.90zM548.9 202.9h3.90v50.5h-3.90zM552.8 211.4h3.90v30.4h-3.90zM556.7 208.4h3.90v43.9h-3.90zM560.6 211.8h3.90v37.0h-3.90zM564.5 205.9h3.90v43.9h-3.90zM568.4 205.0h3.90v38.6h-3.90zM572.3 205.0h3.90v41.8h-3.90zM576.2 201.1h3.90v31.6h-3.90zM580.1 205.2h3.90v41.1h-3.90zM584.0 207.1h3.90v26.0h-3.90zM587.9 203.6h3.90v37.5h-3.90zM591.8 201.7h3.90v39.0h-3.90zM595.7 207.4h3.90v40.1h-3.90zM599.6 200.3h3.90v42.3h-3.90zM603.5 204.4h3.90v38.6h-3.90zM607.4 201.2h3.90v54.3h-3.90zM611.3 200.5h3.90v34.1h-3.90zM623.0 200.8h3.90v39.6h-3.90zM626.9 192.6h3.90v46.8h-3.90zM634.7 200.6h3.90v51.3h-3.90zM638.6 202.3h3.90v35.4h-3.90zM646.4 198.6h3.90v29.6h-3.90zM650.3 201.6h3.90v31.4h-3.90zM654.2 193.8h3.90v38.5h-3.90zM658.1 204.1h3.90v24.1h-3.90zM662.0 198.6h3.90v30.7h-3.90zM665.9 196.2h3.90v35.8h-3.90zM669.8 206.2h3.90v23.5h-3.90zM673.7 194.3h3.90v34.4h-3.90zM677.6 195.6h3.90v27.9h-3.90zM681.5 190.2h3.90v38.9h-3.90zM685.4 190.7h3.90v38.7h-3.90zM689.3 184.1h3.90v48.1h-3.90zM693.2 193.2h3.90v28.3h-3.90zM697.1 190.6h3.90v31.1h-3.90zM701.0 193.8h3.90v26.2h-3.90zM704.9 195.3h3.90v24.5h-3.90zM708.8 190.8h3.90v23.6h-3.90zM712.7 188.8h3.90v38.5h-3.90zM716.6 192.4h3.90v26.1h-3.90zM720.5 190.3h3.90v25.4h-3.90zM724.4 195.8h3.90v17.8h-3.90zM728.3 188.8h3.90v33.7h-3.90zM732.2 195.5h3.90v26.7h-3.90zM736.1 182.1h3.90v38.7h-3.90zM740.0 192.4h3.90v23.8h-3.90zM743.9 189.5h3.90v33.7h-3.90zM747.8 198.4h3.90v19.0h-3.90zM751.7 196.1h3.90v20.4h-3.90zM755.6 193.2h3.90v26.7h-3.90zM759.5 196.0h3.90v27.0h-3.90zM763.4 189.7h3.90v28.9h-3.90zM767.3 184.9h3.90v40.9h-3.90zM771.2 187.2h3.90v29.9h-3.90zM775.1 186.9h3.90v22.9h-3.90zM779.0 184.8h3.90v30.2h-3.90zM782.9 190.6h3.90v25.2h-3.90zM786.8 186.5h3.90v31.4h-3.90zM790.7 185.7h3.90v35.3h-3.90zM794.6 181.8h3.90v29.1h-3.90zM798.4 186.3h3.90v22.3h-3.90zM802.3 189.0h3.90v25.7h-3.90zM806.2 183.0h3.90v25.6h-3.90zM810.1 178.8h3.90v30.4h-3.90zM814.0 186.8h3.90v30.3h-3.90zM817.9 186.4h3.90v25.3h-3.90zM821.8 189.5h3.90v15.5h-3.90zM825.7 189.7h3.90v14.1h-3.90zM829.6 177.4h3.90v40.5h-3.90zM833.5 181.2h3.90v23.4h-3.90zM837.4 186.9h3.90v24.5h-3.90zM841.3 180.6h3.90v23.7h-3.90zM845.2 184.2h3.90v24.8h-3.90zM849.1 186.8h3.90v24.7h-3.90zM853.0 177.7h3.90v32.9h-3.90zM856.9 180.1h3.90v35.3h-3.90zM860.8 183.4h3.90v19.5h-3.90zM864.7 187.3h3.90v22.4h-3.90zM868.6 181.9h3.90v29.7h-3.90zM872.5 179.3h3.90v26.0h-3.90zM876.4 181.4h3.90v24.5h-3.90zM880.3 183.3h3.90v28.9h-3.90zM884.2 185.4h3.90v24.8h-3.90zM888.1 190.1h3.90v18.5h-3.90zM892.0 183.7h3.90v22.4h-3.90zM895.9 188.2h3.90v21.6h-3.90zM899.8 185.2h3.90v25.6h-3.90zM903.7 181.3h3.90v28.5h-3.90zM907.6 190.1h3.90v26.8h-3.90zM911.5 185.4h3.90v22.7h-3.90zM915.4 184.1h3.90v24.7h-3.90zM919.3 178.1h3.90v21.9h-3.90zM923.2 185.4h3.90v20.8h-3.90zM927.1 190.7h3.90v15.0h-3.90zM931.0 184.0h3.90v17.5h-3.90zM934.9 179.4h3.90v32.9h-3.90zM938.8 182.8h3.90v26.3h-3.90zM942.7 187.4h3.90v17.0h-3.90zM946.6 189.0h3.90v17.5h-3.90zM950.5 181.2h3.90v19.7h-3.90zM954.4 186.9h3.90v20.8h-3.90zM958.3 186.6h3.90v23.4h-3.90zM962.2 184.5h3.90v31.6h-3.90zM966.1 178.7h3.90v22.9h-3.90zM970.0 182.5h3.90v31.5h-3.90zM973.9 182.6h3.90v13.3h-3.90zM977.8 177.6h3.90v30.6h-3.90zM981.7 178.0h3.90v30.8h-3.90zM985.6 184.5h3.90v23.0h-3.90zM989.5 181.7h3.90v20.1h-3.90zM993.4 187.1h3.90v16.7h-3.90zM997.3 186.5h3.90v28.9h-3.90zM1001.2 187.8h3.90v30.5h-3.90zM1005.1 188.0h3.90v12.7h-3.90zM1009.0 182.3h3.90v22.5h-3.90zM1012.9 180.3h3.90v31.7h-3.90zM1016.8 185.6h3.90v21.6h-3.90zM1020.7 191.2h3.90v21.4h-3.90zM1024.6 182.5h3.90v17.4h-3.90zM1028.5 180.9h3.90v27.4h-3.90zM1032.4 186.3h3.90v20.2h-3.90zM1036.3 186.2h3.90v25.5h-3.90zM1040.2 184.5h3.90v25.8h-3.90zM1044.1 181.7h3.90v32.7h-3.90zM1048.0 186.0h3.90v22.9h-3.90zM1051.9 180.6h3.90v37.0h-3.90zM1055.8 188.1h3.90v25.8h-3.90zM1059.7 180.1h3.90v33.2h-3.90zM1063.6 181.0h3.90v34.1h-3.90zM1067.5 183.6h3.90v25.7h-3.90zM1071.4 183.5h3.90v39.6h-3.90zM1075.3 191.4h3.90v12.7h-3.90zM1079.2 180.7h3.90v37.0h-3.90zM1083.0 188.8h3.90v21.9h-3.90zM1086.9 182.7h3.90v23.7h-3.90zM1090.8 181.3h3.90v29.0h-3.90zM1094.7 185.2h3.90v24.1h-3.90zM1098.6 184.6h3.90v39.4h-3.90zM1102.5 176.4h3.90v40.0h-3.90zM1106.4 188.4h3.90v20.6h-3.90zM1110.3 185.1h3.90v29.9h-3.90zM1114.2 182.8h3.90v32.9h-3.90zM1118.1 185.3h3.90v29.0h-3.90zM1122.0 186.3h3.90v24.2h-3.90zM1125.9 185.3h3.90v31.2h-3.90zM1129.8 189.0h3.90v27.4h-3.90zM1133.7 191.0h3.90v33.3h-3.90zM1137.6 192.7h3.90v14.4h-3.90zM1141.5 189.8h3.90v26.6h-3.90zM1145.4 193.9h3.90v24.2h-3.90zM1149.3 192.7h3.90v27.6h-3.90zM1153.2 186.6h3.90v33.0h-3.90zM1157.1 194.2h3.90v31.0h-3.90zM1161.0 195.5h3.90v24.6h-3.90zM1168.8 196.2h3.90v36.9h-3.90zM1172.7 200.6h3.90v38.5h-3.90zM1176.6 206.8h3.90v24.9h-3.90zM1180.5 207.7h3.90v14.8h-3.90zM1184.4 200.8h3.90v29.4h-3.90zM1188.3 197.7h3.90v36.7h-3.90zM1192.2 212.3h3.90v18.2h-3.90zM1196.1 202.2h3.90v27.0h-3.90zM1203.9 210.0h3.90v32.2h-3.90zM1207.8 202.1h3.90v36.8h-3.90zM1211.7 204.7h3.90v22.3h-3.90zM1215.6 213.9h3.90v13.8h-3.90zM1219.5 201.8h3.90v36.3h-3.90zM1223.4 210.8h3.90v25.8h-3.90zM1227.3 205.7h3.90v25.5h-3.90zM1231.2 207.4h3.90v30.7h-3.90zM1235.1 211.7h3.90v17.3h-3.90zM1239.0 208.7h3.90v21.4h-3.90zM1242.9 207.3h3.90v25.7h-3.90zM1246.8 217.1h3.90v14.4h-3.90zM1250.7 212.7h3.90v22.8h-3.90zM1254.6 207.9h3.90v27.1h-3.90zM1258.5 207.3h3.90v27.6h-3.90zM1262.4 206.2h3.90v33.3h-3.90zM1270.2 211.3h3.90v20.5h-3.90zM1274.1 212.9h3.90v27.7h-3.90zM1278.0 208.5h3.90v37.6h-3.90zM1281.9 219.4h3.90v24.0h-3.90zM1285.8 204.5h3.90v43.9h-3.90zM1289.7 217.0h3.90v37.4h-3.90zM1293.6 216.3h3.90v33.2h-3.90zM1301.4 215.6h3.90v30.6h-3.90zM1309.2 219.0h3.90v28.3h-3.90zM1313.1 214.6h3.90v48.3h-3.90zM1317.0 220.7h3.90v28.1h-3.90zM1320.9 224.9h3.90v25.0h-3.90zM1324.8 220.2h3.90v36.0h-3.90zM1328.7 217.4h3.90v36.6h-3.90zM1332.6 217.5h3.90v33.8h-3.90zM1336.5 215.0h3.90v32.1h-3.90zM1344.3 223.5h3.90v42.1h-3.90zM1348.2 219.3h3.90v38.6h-3.90zM1352.1 223.6h3.90v40.7h-3.90zM1356.0 215.0h3.90v35.7h-3.90zM1359.9 219.4h3.90v35.9h-3.90zM1363.8 220.9h3.90v21.3h-3.90zM1371.5 215.4h3.90v43.6h-3.90zM1375.4 229.1h3.90v25.6h-3.90zM1383.2 217.6h3.90v48.7h-3.90zM1391.0 231.0h3.90v21.3h-3.90zM1394.9 223.6h3.90v30.7h-3.90zM1398.8 234.9h3.90v20.5h-3.90zM1406.6 226.9h3.90v36.7h-3.90zM1410.5 224.7h3.90v50.4h-3.90zM1414.4 221.2h3.90v43.7h-3.90zM1426.1 229.7h3.90v45.3h-3.90zM1430.0 221.8h3.90v52.5h-3.90zM1441.7 226.7h3.90v53.6h-3.90zM1445.6 227.7h3.90v41.7h-3.90zM1457.3 234.7h3.90v36.3h-3.90zM1461.2 233.1h3.90v42.2h-3.90zM1472.9 233.4h3.90v36.3h-3.90zM1476.8 224.0h3.90v45.2h-3.90zM1484.6 239.7h3.90v28.5h-3.90zM1496.3 220.4h3.90v49.2h-3.90zM1500.2 232.7h3.90v51.2h-3.90zM1504.1 237.4h3.90v29.8h-3.90z" fill="rgb(255,0,255)" fill-opacity="0.105"/>
<path d="M85.0 237.3h3.90v22.5h-3.90zM88.9 250.4h3.90v27.3h-3.90zM100.6 237.3h3.90v47.3h-3.90zM116.2 255.0h3.90v17.5h-3.90zM120.1 245.7h3.90v42.9h-3.90zM131.8 241.9h3.90v40.4h-3.90zM139.6 255.1h3.90v23.6h-3.90zM147.4 255.2h3.90v22.2h-3.90zM151.3 235.0h3.90v56.5h-3.90zM159.1 244.3h3.90v46.0h-3.90zM163.0 244.1h3.90v41.4h-3.90zM166.9 247.7h3.90v36.9h-3.90zM174.7 252.9h3.90v25.6h-3.90zM178.6 243.0h3.90v37.0h-3.90zM186.4 249.3h3.90v30.8h-3.90zM190.3 254.6h3.90v17.8h-3.90zM194.2 243.3h3.90v30.9h-3.90zM198.1 245.6h3.90v43.9h-3.90zM209.8 238.5h3.90v35.2h-3.90zM217.6 255.1h3.90v8.3h-3.90zM221.5 231.2h3.90v57.1h-3.90zM229.2 246.3h3.90v18.7h-3.90zM233.1 241.9h3.90v28.3h-3.90zM237.0 254.6h3.90v21.1h-3.90zM256.5 237.7h3.90v52.7h-3.90zM260.4 252.1h3.90v12.0h-3.90zM264.3 246.5h3.90v40.1h-3.90zM272.1 239.6h3.90v33.3h-3.90zM279.9 249.5h3.90v24.5h-3.90zM283.8 253.8h3.90v10.0h-3.90zM291.6 246.6h3.90v23.3h-3.90zM303.3 244.0h3.90v30.6h-3.90zM311.1 229.4h3.90v52.6h-3.90zM315.0 243.9h3.90v34.1h-3.90zM318.9 239.7h3.90v21.8h-3.90zM330.6 230.5h3.90v34.0h-3.90zM334.5 240.6h3.90v22.1h-3.90zM338.4 248.7h3.90v23.5h-3.90zM350.1 230.9h3.90v26.7h-3.90zM354.0 234.5h3.90v33.5h-3.90zM361.8 233.1h3.90v18.8h-3.90zM365.7 228.6h3.90v32.9h-3.90zM373.5 233.9h3.90v23.5h-3.90zM377.4 234.3h3.90v29.8h-3.90zM381.3 238.7h3.90v25.1h-3.90zM385.2 233.9h3.90v27.6h-3.90zM393.0 234.8h3.90v21.9h-3.90zM396.9 228.0h3.90v30.0h-3.90zM400.8 237.3h3.90v32.1h-3.90zM412.5 230.9h3.90v23.5h-3.90zM416.4 228.8h3.90v38.1h-3.90zM424.2 218.4h3.90v47.3h-3.90zM428.1 230.6h3.90v20.3h-3.90zM432.0 226.1h3.90v22.5h-3.90zM435.9 229.2h3.90v28.1h-3.90zM447.6 216.8h3.90v40.5h-3.90zM451.5 219.7h3.90v24.3h-3.90zM455.4 223.6h3.90v21.4h-3.90zM459.3 224.2h3.90v22.8h-3.90zM463.2 214.9h3.90v37.3h-3.90zM467.1 213.6h3.90v42.4h-3.90zM471.0 225.2h3.90v23.4h-3.90zM474.9 219.9h3.90v25.1h-3.90zM478.8 224.5h3.90v33.1h-3.90zM490.5 218.8h3.90v24.5h-3.90zM498.3 226.8h3.90v34.1h-3.90zM502.2 216.2h3.90v34.6h-3.90zM510.0 220.7h3.90v32.6h-3.90zM513.8 215.0h3.90v33.6h-3.90zM517.7 223.7h3.90v28.7h-3.90zM525.5 219.6h3.90v33.1h-3.90zM537.2 214.2h3.90v37.7h-3.90zM556.7 219.9h3.90v32.0h-3.90zM560.6 211.0h3.90v26.2h-3.90zM564.5 208.6h3.90v29.4h-3.90zM572.3 206.6h3.90v28.4h-3.90zM576.2 207.4h3.90v36.2h-3.90zM580.1 208.7h3.90v17.8h-3.90zM584.0 207.7h3.90v35.0h-3.90zM587.9 208.1h3.90v37.5h-3.90zM591.8 203.6h3.90v32.6h-3.90zM595.7 204.1h3.90v37.8h-3.90zM603.5 193.7h3.90v48.7h-3.90zM607.4 206.7h3.90v35.6h-3.90zM611.3 203.6h3.90v26.1h-3.90zM615.2 199.6h3.90v46.6h-3.90zM619.1 205.9h3.90v23.7h-3.90zM623.0 194.6h3.90v43.0h-3.90zM626.9 207.4h3.90v26.3h-3.90zM630.8 199.1h3.90v33.1h-3.90zM634.7 205.0h3.90v26.5h-3.90zM638.6 199.2h3.90v33.4h-3.90zM642.5 212.8h3.90v12.0h-3.90zM646.4 200.9h3.90v30.2h-3.90zM650.3 201.2h3.90v31.9h-3.90zM654.2 198.8h3.90v35.3h-3.90zM658.1 207.4h3.90v30.8h-3.90zM662.0 200.9h3.90v32.8h-3.90zM665.9 197.5h3.90v30.2h-3.90zM669.8 204.2h3.90v19.5h-3.90zM673.7 200.6h3.90v19.4h-3.90zM677.6 196.8h3.90v23.3h-3.90zM681.5 191.0h3.90v34.9h-3.90zM685.4 203.8h3.90v20.7h-3.90zM689.3 194.2h3.90v26.9h-3.90zM693.2 196.6h3.90v30.2h-3.90zM697.1 198.8h3.90v17.2h-3.90zM701.0 196.6h3.90v22.7h-3.90zM704.9 196.1h3.90v25.5h-3.90zM708.8 196.4h3.90v17.7h-3.90zM712.7 194.5h3.90v19.6h-3.90zM716.6 197.8h3.90v20.0h-3.90zM720.5 190.8h3.90v23.8h-3.90zM724.4 189.2h3.90v26.6h-3.90zM728.3 191.5h3.90v15.0h-3.90zM732.2 199.7h3.90v14.0h-3.90zM736.1 194.0h3.90v18.8h-3.90zM740.0 195.4h3.90v16.2h-3.90zM743.9 193.1h3.90v20.0h-3.90zM747.8 195.1h3.90v18.8h-3.90zM751.7 192.2h3.90v30.8h-3.90zM755.6 187.6h3.90v24.6h-3.90zM759.5 193.9h3.90v27.2h-3.90zM763.4 192.4h3.90v29.6h-3.90zM767.3 190.4h3.90v24.6h-3.90zM771.2 193.2h3.90v24.1h-3.90zM775.1 187.3h3.90v27.5h-3.90zM779.0 190.8h3.90v23.9h-3.90zM782.9 191.9h3.90v22.6h-3.90zM786.8 190.0h3.90v15.2h-3.90zM790.7 188.8h3.90v25.8h-3.90zM794.6 187.8h3.90v22.0h-3.90zM798.4 187.2h3.90v20.6h-3.90zM802.3 189.6h3.90v22.1h-3.90zM806.2 191.3h3.90v13.8h-3.90zM810.1 185.1h3.90v29.0h-3.90zM814.0 188.1h3.90v20.2h-3.90zM817.9 185.5h3.90v21.4h-3.90zM821.8 185.5h3.90v21.7h-3.90zM825.7 192.5h3.90v16.3h-3.90zM829.6 186.4h3.90v20.2h-3.90zM833.5 190.1h3.90v9.4h-3.90zM837.4 192.5h3.90v10.8h-3.90zM841.3 186.9h3.90v19.4h-3.90zM845.2 187.0h3.90v22.7h-3.90zM849.1 195.3h3.90v14.6h-3.90zM853.0 185.0h3.90v17.9h-3.90zM856.9 182.4h3.90v22.2h-3.90zM860.8 182.7h3.90v22.1h-3.90zM864.7 187.9h3.90v12.7h-3.90zM868.6 190.3h3.90v16.0h-3.90zM872.5 188.1h3.90v22.2h-3.90zM876.4 185.7h3.90v36.1h-3.90zM880.3 182.8h3.90v18.3h-3.90zM884.2 187.3h3.90v10.6h-3.90zM888.1 181.4h3.90v22.7h-3.90zM892.0 188.4h3.90v19.2h-3.90zM895.9 181.6h3.90v18.5h-3.90zM899.8 188.0h3.90v22.9h-3.90zM903.7 185.9h3.90v26.1h-3.90zM907.6 187.9h3.90v20.7h-3.90zM911.5 183.9h3.90v22.7h-3.90zM915.4 177.6h3.90v24.8h-3.90zM919.3 185.0h3.90v20.6h-3.90zM923.2 185.6h3.90v24.9h-3.90zM927.1 184.1h3.90v16.8h-3.90zM931.0 187.3h3.90v33.7h-3.90zM934.9 185.1h3.90v18.8h-3.90zM938.8 185.1h3.90v16.7h-3.90zM942.7 185.2h3.90v22.3h-3.90zM946.6 186.2h3.90v18.7h-3.90zM950.5 180.8h3.90v36.3h-3.90zM954.4 182.0h3.90v27.9h-3.90zM958.3 184.6h3.90v21.9h-3.90zM962.2 180.4h3.90v40.5h-3.90zM966.1 184.9h3.90v26.1h-3.90zM970.0 187.5h3.90v23.0h-3.90zM973.9 184.3h3.90v25.5h-3.90zM977.8 186.6h3.90v16.9h-3.90zM981.7 191.4h3.90v6.2h-3.90zM985.6 192.1h3.90v18.8h-3.90zM989.5 188.9h3.90v18.8h-3.90zM993.4 183.7h3.90v24.0h-3.90zM997.3 186.5h3.90v23.7h-3.90zM1001.2 191.7h3.90v15.3h-3.90zM1005.1 188.6h3.90v19.4h-3.90zM1009.0 187.9h3.90v19.3h-3.90zM1012.9 185.8h3.90v21.0h-3.90zM1016.8 184.9h3.90v27.0h-3.90zM1020.7 181.5h3.90v24.9h-3.90zM1024.6 185.0h3.90v21.4h-3.90zM1028.5 187.3h3.90v14.6h-3.90zM1032.4 193.3h3.90v13.9h-3.90zM1036.3 186.3h3.90v22.8h-3.90zM1040.2 187.7h3.90v21.5h-3.90zM1044.1 190.7h3.90v17.9h-3.90zM1048.0 189.0h3.90v20.3h-3.90zM1051.9 185.3h3.90v26.7h-3.90zM1055.8 197.0h3.90v12.1h-3.90zM1059.7 186.4h3.90v20.4h-3.90zM1063.6 184.0h3.90v25.4h-3.90zM1067.5 188.4h3.90v29.0h-3.90zM1071.4 186.2h3.90v22.0h-3.90zM1075.3 190.4h3.90v8.5h-3.90zM1079.2 184.2h3.90v18.8h-3.90zM1083.0 188.9h3.90v23.0h-3.90zM1086.9 186.1h3.90v19.6h-3.90zM1090.8 189.9h3.90v25.3h-3.90zM1094.7 182.9h3.90v29.1h-3.90zM1098.6 189.8h3.90v27.4h-3.90zM1102.5 190.3h3.90v26.1h-3.90zM1106.4 192.3h3.90v10.3h-3.90zM1110.3 187.3h3.90v17.4h-3.90zM1114.2 185.8h3.90v25.9h-3.90zM1118.1 189.1h3.90v33.1h-3.90zM1122.0 185.0h3.90v32.8h-3.90zM1125.9 193.8h3.90v26.2h-3.90zM1133.7 188.4h3.90v24.7h-3.90zM1137.6 191.7h3.90v27.7h-3.90zM1141.5 193.2h3.90v21.3h-3.90zM1145.4 202.8h3.90v18.0h-3.90zM1149.3 202.6h3.90v10.6h-3.90zM1153.2 201.0h3.90v21.6h-3.90zM1157.1 206.9h3.90v13.7h-3.90zM1161.0 206.0h3.90v17.1h-3.90zM1164.9 195.1h3.90v25.7h-3.90zM1168.8 209.9h3.90v24.4h-3.90zM1172.7 201.9h3.90v24.3h-3.90zM1176.6 206.2h3.90v23.9h-3.90zM1180.5 205.6h3.90v25.5h-3.90zM1184.4 214.4h3.90v18.1h-3.90zM1188.3 205.2h3.90v24.2h-3.90zM1196.1 208.4h3.90v19.6h-3.90zM1200.0 204.1h3.90v26.2h-3.90zM1203.9 203.1h3.90v23.6h-3.90zM1207.8 208.0h3.90v26.0h-3.90zM1211.7 207.2h3.90v24.2h-3.90zM1215.6 210.2h3.90v20.7h-3.90zM1219.5 214.3h3.90v14.6h-3.90zM1223.4 205.7h3.90v21.3h-3.90zM1227.3 210.7h3.90v16.7h-3.90zM1231.2 212.9h3.90v19.7h-3.90zM1239.0 210.3h3.90v16.5h-3.90zM1242.9 208.4h3.90v29.8h-3.90zM1246.8 211.1h3.90v22.8h-3.90zM1250.7 216.3h3.90v22.5h-3.90zM1254.6 220.7h3.90v9.3h-3.90zM1262.4 212.4h3.90v35.0h-3.90zM1266.3 214.4h3.90v25.2h-3.90zM1281.9 222.1h3.90v12.3h-3.90zM1285.8 211.4h3.90v34.9h-3.90zM1289.7 229.7h3.90v9.4h-3.90zM1293.6 215.6h3.90v27.1h-3.90zM1305.3 219.2h3.90v30.7h-3.90zM1320.9 222.9h3.90v24.1h-3.90zM1324.8 220.5h3.90v18.0h-3.90zM1332.6 234.6h3.90v6.1h-3.90zM1344.3 225.0h3.90v27.5h-3.90zM1348.2 227.5h3.90v18.0h-3.90zM1359.9 242.3h3.90v12.7h-3.90zM1363.8 227.0h3.90v12.1h-3.90zM1367.6 236.0h3.90v17.7h-3.90zM1375.4 226.1h3.90v27.3h-3.90zM1394.9 231.9h3.90v35.1h-3.90zM1410.5 233.4h3.90v33.9h-3.90zM1414.4 216.8h3.90v50.1h-3.90zM1418.3 232.9h3.90v44.1h-3.90zM1426.1 230.1h3.90v43.2h-3.90zM1430.0 239.0h3.90v32.6h-3.90zM1433.9 233.7h3.90v47.1h-3.90zM1437.8 224.1h3.90v38.2h-3.90zM1453.4 232.8h3.90v32.6h-3.90zM1457.3 233.0h3.90v38.7h-3.90zM1461.2 234.6h3.90v47.7h-3.90zM1469.0 224.0h3.90v40.4h-3.90zM1476.8 230.9h3.90v39.9h-3.90zM1480.7 239.9h3.90v29.5h-3.90zM1484.6 228.1h3.90v36.8h-3.90zM1488.5 231.1h3.90v46.2h-3.90zM1496.3 244.8h3.90v21.7h-3.90zM1504.1 239.3h3.90v34.0h-3.90z" fill="rgb(255,0,255)" fill-opacity="0.105"/>
<clipPath id="oc"><path d="M85.0 230.9h4.20v110.5h-4.20zM88.9 232.9h4.20v108.5h-4.20zM92.8 231.2h4.20v110.2h-4.20zM96.7 232.1h4.20v109.3h-4.20zM100.6 234.4h4.20v107.0h-4.20zM104.5 232.2h4.20v109.2h-4.20zM108.4 232.7h4.20v108.7h-4.20zM112.3 232.1h4.20v109.3h-4.20zM116.2 230.5h4.20v110.9h-4.20zM120.1 234.1h4.20v107.3h-4.20zM124.0 231.0h4.20v110.4h-4.20zM127.9 229.2h4.20v112.2h-4.20zM131.8 231.2h4.20v110.2h-4.20zM135.7 231.1h4.20v110.3h-4.20zM139.6 230.0h4.20v111.4h-4.20zM143.5 231.1h4.20v110.3h-4.20zM147.4 229.4h4.20v112.0h-4.20zM151.3 233.7h4.20v107.7h-4.20zM155.2 231.6h4.20v109.8h-4.20zM159.1 230.3h4.20v111.1h-4.20zM163.0 231.6h4.20v109.8h-4.20zM166.9 231.7h4.20v109.7h-4.20zM170.8 230.6h4.20v110.8h-4.20zM174.7 232.6h4.20v108.8h-4.20zM178.6 230.7h4.20v110.7h-4.20zM182.5 232.9h4.20v108.5h-4.20zM186.4 232.0h4.20v109.4h-4.20zM190.3 231.5h4.20v109.9h-4.20zM194.2 228.7h4.20v112.7h-4.20zM198.1 231.2h4.20v110.2h-4.20zM202.0 232.4h4.20v109.0h-4.20zM205.9 231.4h4.20v110.0h-4.20zM209.8 227.4h4.20v114.0h-4.20zM213.7 228.5h4.20v112.9h-4.20zM217.6 226.9h4.20v114.5h-4.20zM221.5 230.1h4.20v111.3h-4.20zM225.4 231.1h4.20v110.3h-4.20zM229.2 229.9h4.20v111.5h-4.20zM233.1 229.7h4.20v111.7h-4.20zM237.0 229.0h4.20v112.4h-4.20zM240.9 229.9h4.20v111.5h-4.20zM244.8 228.9h4.20v112.5h-4.20zM248.7 230.1h4.20v111.3h-4.20zM252.6 226.8h4.20v114.6h-4.20zM256.5 228.4h4.20v113.0h-4.20zM260.4 229.1h4.20v112.3h-4.20zM264.3 226.3h4.20v115.1h-4.20zM268.2 228.7h4.20v112.7h-4.20zM272.1 230.3h4.20v111.1h-4.20zM276.0 225.9h4.20v115.5h-4.20zM279.9 228.9h4.20v112.5h-4.20zM283.8 228.5h4.20v112.9h-4.20zM287.7 228.9h4.20v112.5h-4.20zM291.6 228.9h4.20v112.5h-4.20zM295.5 226.7h4.20v114.7h-4.20zM299.4 226.0h4.20v115.4h-4.20zM303.3 224.9h4.20v116.5h-4.20zM307.2 224.1h4.20v117.3h-4.20zM311.1 224.3h4.20v117.1h-4.20zM315.0 222.4h4.20v119.0h-4.20zM318.9 224.1h4.20v117.3h-4.20zM322.8 222.2h4.20v119.2h-4.20zM326.7 221.1h4.20v120.3h-4.20zM330.6 220.9h4.20v120.5h-4.20zM334.5 221.3h4.20v120.1h-4.20zM338.4 221.4h4.20v120.0h-4.20zM342.3 220.8h4.20v120.6h-4.20zM346.2 219.8h4.20v121.6h-4.20zM350.1 217.0h4.20v124.4h-4.20zM354.0 215.5h4.20v125.9h-4.20zM357.9 215.8h4.20v125.6h-4.20zM361.8 215.3h4.20v126.1h-4.20zM365.7 217.2h4.20v124.2h-4.20zM369.6 215.0h4.20v126.4h-4.20zM373.5 216.9h4.20v124.5h-4.20zM377.4 218.3h4.20v123.1h-4.20zM381.3 216.7h4.20v124.7h-4.20zM385.2 218.7h4.20v122.7h-4.20zM389.1 216.0h4.20v125.4h-4.20zM393.0 216.5h4.20v124.9h-4.20zM396.9 215.2h4.20v126.2h-4.20zM400.8 214.2h4.20v127.2h-4.20zM404.7 216.2h4.20v125.2h-4.20zM408.6 213.6h4.20v127.8h-4.20zM412.5 213.4h4.20v128.0h-4.20zM416.4 213.7h4.20v127.7h-4.20zM420.3 215.5h4.20v125.9h-4.20zM424.2 216.3h4.20v125.1h-4.20zM428.1 212.1h4.20v129.3h-4.20zM432.0 211.8h4.20v129.6h-4.20zM435.9 215.0h4.20v126.4h-4.20zM439.8 212.6h4.20v128.8h-4.20zM443.7 213.3h4.20v128.1h-4.20zM447.6 213.8h4.20v127.6h-4.20zM451.5 211.7h4.20v129.7h-4.20zM455.4 209.3h4.20v132.1h-4.20zM459.3 212.6h4.20v128.8h-4.20zM463.2 211.8h4.20v129.6h-4.20zM467.1 207.1h4.20v134.3h-4.20zM471.0 211.6h4.20v129.8h-4.20zM474.9 209.8h4.20v131.6h-4.20zM478.8 207.5h4.20v133.9h-4.20zM482.7 208.6h4.20v132.8h-4.20zM486.6 207.6h4.20v133.8h-4.20zM490.5 209.9h4.20v131.5h-4.20zM494.4 208.0h4.20v133.4h-4.20zM498.3 206.4h4.20v135.0h-4.20zM502.2 210.4h4.20v131.0h-4.20zM506.1 207.6h4.20v133.8h-4.20zM510.0 206.8h4.20v134.6h-4.20zM513.8 209.4h4.20v132.0h-4.20zM517.7 206.5h4.20v134.9h-4.20zM521.6 208.8h4.20v132.6h-4.20zM525.5 208.0h4.20v133.4h-4.20zM529.4 206.3h4.20v135.1h-4.20zM533.3 210.4h4.20v131.0h-4.20zM537.2 209.0h4.20v132.4h-4.20zM541.1 205.8h4.20v135.6h-4.20zM545.0 209.9h4.20v131.5h-4.20zM548.9 208.6h4.20v132.8h-4.20zM552.8 209.4h4.20v132.0h-4.20zM556.7 209.1h4.20v132.3h-4.20zM560.6 206.0h4.20v135.4h-4.20zM564.5 206.6h4.20v134.8h-4.20zM568.4 205.8h4.20v135.6h-4.20zM572.3 209.0h4.20v132.4h-4.20zM576.2 209.6h4.20v131.8h-4.20zM580.1 207.6h4.20v133.8h-4.20zM584.0 208.0h4.20v133.4h-4.20zM587.9 209.5h4.20v131.9h-4.20zM591.8 207.2h4.20v134.2h-4.20zM595.7 206.8h4.20v134.6h-4.20zM599.6 206.0h4.20v135.4h-4.20zM603.5 209.5h4.20v131.9h-4.20zM607.4 205.1h4.20v136.3h-4.20zM611.3 205.5h4.20v135.9h-4.20zM615.2 208.8h4.20v132.6h-4.20zM619.1 204.7h4.20v136.7h-4.20zM623.0 205.5h4.20v135.9h-4.20zM626.9 207.2h4.20v134.2h-4.20zM630.8 205.8h4.20v135.6h-4.20zM634.7 206.7h4.20v134.7h-4.20zM638.6 205.0h4.20v136.4h-4.20zM642.5 208.3h4.20v133.1h-4.20zM646.4 205.4h4.20v136.0h-4.20zM650.3 206.6h4.20v134.8h-4.20zM654.2 205.8h4.20v135.6h-4.20zM658.1 208.9h4.20v132.5h-4.20zM662.0 206.7h4.20v134.7h-4.20zM665.9 208.5h4.20v132.9h-4.20zM669.8 206.1h4.20v135.3h-4.20zM673.7 208.9h4.20v132.5h-4.20zM677.6 207.9h4.20v133.5h-4.20zM681.5 210.9h4.20v130.5h-4.20zM685.4 207.5h4.20v133.9h-4.20zM689.3 208.1h4.20v133.3h-4.20zM693.2 211.1h4.20v130.3h-4.20zM697.1 207.2h4.20v134.2h-4.20zM701.0 209.5h4.20v131.9h-4.20zM704.9 209.6h4.20v131.8h-4.20zM708.8 208.7h4.20v132.7h-4.20zM712.7 208.1h4.20v133.3h-4.20zM716.6 209.9h4.20v131.5h-4.20zM720.5 207.6h4.20v133.8h-4.20zM724.4 207.5h4.20v133.9h-4.20zM728.3 208.9h4.20v132.5h-4.20zM732.2 209.4h4.20v132.0h-4.20zM736.1 208.8h4.20v132.6h-4.20zM740.0 211.1h4.20v130.3h-4.20zM743.9 209.6h4.20v131.8h-4.20zM747.8 210.5h4.20v130.9h-4.20zM751.7 210.4h4.20v131.0h-4.20zM755.6 211.1h4.20v130.3h-4.20zM759.5 212.2h4.20v129.2h-4.20zM763.4 210.3h4.20v131.1h-4.20zM767.3 211.0h4.20v130.4h-4.20zM771.2 210.3h4.20v131.1h-4.20zM775.1 207.9h4.20v133.5h-4.20zM779.0 211.7h4.20v129.7h-4.20zM782.9 210.1h4.20v131.3h-4.20zM786.8 207.7h4.20v133.7h-4.20zM790.7 211.2h4.20v130.2h-4.20zM794.6 210.0h4.20v131.4h-4.20zM798.4 212.2h4.20v129.2h-4.20zM802.3 209.6h4.20v131.8h-4.20zM806.2 209.9h4.20v131.5h-4.20zM810.1 212.0h4.20v129.4h-4.20zM814.0 212.1h4.20v129.3h-4.20zM817.9 211.4h4.20v130.0h-4.20zM821.8 209.7h4.20v131.7h-4.20zM825.7 209.7h4.20v131.7h-4.20zM829.6 211.2h4.20v130.2h-4.20zM833.5 212.0h4.20v129.4h-4.20zM837.4 209.8h4.20v131.6h-4.20zM841.3 211.0h4.20v130.4h-4.20zM845.2 210.3h4.20v131.1h-4.20zM849.1 210.3h4.20v131.1h-4.20zM853.0 208.6h4.20v132.8h-4.20zM856.9 208.9h4.20v132.5h-4.20zM860.8 208.8h4.20v132.6h-4.20zM864.7 212.5h4.20v128.9h-4.20zM868.6 207.7h4.20v133.7h-4.20zM872.5 208.7h4.20v132.7h-4.20zM876.4 208.7h4.20v132.7h-4.20zM880.3 211.9h4.20v129.5h-4.20zM884.2 211.2h4.20v130.2h-4.20zM888.1 209.5h4.20v131.9h-4.20zM892.0 208.5h4.20v132.9h-4.20zM895.9 211.5h4.20v129.9h-4.20zM899.8 211.9h4.20v129.5h-4.20zM903.7 211.5h4.20v129.9h-4.20zM907.6 212.0h4.20v129.4h-4.20zM911.5 211.5h4.20v129.9h-4.20zM915.4 208.7h4.20v132.7h-4.20zM919.3 212.7h4.20v128.7h-4.20zM923.2 213.2h4.20v128.2h-4.20zM927.1 209.7h4.20v131.7h-4.20zM931.0 210.9h4.20v130.5h-4.20zM934.9 214.0h4.20v127.4h-4.20zM938.8 214.0h4.20v127.4h-4.20zM942.7 213.3h4.20v128.1h-4.20zM946.6 213.5h4.20v127.9h-4.20zM950.5 210.1h4.20v131.3h-4.20zM954.4 213.8h4.20v127.6h-4.20zM958.3 213.6h4.20v127.8h-4.20zM962.2 210.5h4.20v130.9h-4.20zM966.1 214.0h4.20v127.4h-4.20zM970.0 213.6h4.20v127.8h-4.20zM973.9 214.1h4.20v127.3h-4.20zM977.8 214.0h4.20v127.4h-4.20zM981.7 210.0h4.20v131.4h-4.20zM985.6 210.4h4.20v131.0h-4.20zM989.5 213.6h4.20v127.8h-4.20zM993.4 210.4h4.20v131.0h-4.20zM997.3 211.3h4.20v130.1h-4.20zM1001.2 213.6h4.20v127.8h-4.20zM1005.1 213.8h4.20v127.6h-4.20zM1009.0 211.7h4.20v129.7h-4.20zM1012.9 211.8h4.20v129.6h-4.20zM1016.8 213.3h4.20v128.1h-4.20zM1020.7 214.8h4.20v126.6h-4.20zM1024.6 213.1h4.20v128.3h-4.20zM1028.5 211.7h4.20v129.7h-4.20zM1032.4 211.2h4.20v130.2h-4.20zM1036.3 211.0h4.20v130.4h-4.20zM1040.2 213.2h4.20v128.2h-4.20zM1044.1 213.8h4.20v127.6h-4.20zM1048.0 211.3h4.20v130.1h-4.20zM1051.9 214.0h4.20v127.4h-4.20zM1055.8 213.3h4.20v128.1h-4.20zM1059.7 213.2h4.20v128.2h-4.20zM1063.6 213.0h4.20v128.4h-4.20zM1067.5 212.5h4.20v128.9h-4.20zM1071.4 210.5h4.20v130.9h-4.20zM1075.3 213.1h4.20v128.3h-4.20zM1079.2 213.8h4.20v127.6h-4.20zM1083.0 214.9h4.20v126.5h-4.20zM1086.9 215.4h4.20v126.0h-4.20zM1090.8 213.7h4.20v127.7h-4.20zM1094.7 211.3h4.20v130.1h-4.20zM1098.6 214.9h4.20v126.5h-4.20zM1102.5 212.8h4.20v128.6h-4.20zM1106.4 215.7h4.20v125.7h-4.20zM1110.3 215.8h4.20v125.6h-4.20zM1114.2 211.8h4.20v129.6h-4.20zM1118.1 211.9h4.20v129.5h-4.20zM1122.0 212.2h4.20v129.2h-4.20zM1125.9 215.7h4.20v125.7h-4.20zM1129.8 215.1h4.20v126.3h-4.20zM1133.7 216.2h4.20v125.2h-4.20zM1137.6 215.1h4.20v126.3h-4.20zM1141.5 216.9h4.20v124.5h-4.20zM1145.4 214.9h4.20v126.5h-4.20zM1149.3 215.9h4.20v125.5h-4.20zM1153.2 219.0h4.20v122.4h-4.20zM1157.1 217.0h4.20v124.4h-4.20zM1161.0 216.8h4.20v124.6h-4.20zM1164.9 219.9h4.20v121.5h-4.20zM1168.8 222.0h4.20v119.4h-4.20zM1172.7 222.2h4.20v119.2h-4.20zM1176.6 222.3h4.20v119.1h-4.20zM1180.5 221.8h4.20v119.6h-4.20zM1184.4 218.6h4.20v122.8h-4.20zM1188.3 219.6h4.20v121.8h-4.20zM1192.2 221.9h4.20v119.5h-4.20zM1196.1 221.9h4.20v119.5h-4.20zM1200.0 223.5h4.20v117.9h-4.20zM1203.9 219.6h4.20v121.8h-4.20zM1207.8 222.6h4.20v118.8h-4.20zM1211.7 219.9h4.20v121.5h-4.20zM1215.6 223.3h4.20v118.1h-4.20zM1219.5 220.1h4.20v121.3h-4.20zM1223.4 222.2h4.20v119.2h-4.20zM1227.3 223.8h4.20v117.6h-4.20zM1231.2 225.1h4.20v116.3h-4.20zM1235.1 224.3h4.20v117.1h-4.20zM1239.0 224.5h4.20v116.9h-4.20zM1242.9 222.4h4.20v119.0h-4.20zM1246.8 224.5h4.20v116.9h-4.20zM1250.7 224.3h4.20v117.1h-4.20zM1254.6 224.5h4.20v116.9h-4.20zM1258.5 225.4h4.20v116.0h-4.20zM1262.4 225.0h4.20v116.4h-4.20zM1266.3 225.1h4.20v116.3h-4.20zM1270.2 227.4h4.20v114.0h-4.20zM1274.1 227.2h4.20v114.2h-4.20zM1278.0 229.3h4.20v112.1h-4.20zM1281.9 229.4h4.20v112.0h-4.20zM1285.8 229.2h4.20v112.2h-4.20zM1289.7 226.1h4.20v115.3h-4.20zM1293.6 228.4h4.20v113.0h-4.20zM1297.5 228.7h4.20v112.7h-4.20zM1301.4 230.5h4.20v110.9h-4.20zM1305.3 231.3h4.20v110.1h-4.20zM1309.2 228.0h4.20v113.4h-4.20zM1313.1 227.2h4.20v114.2h-4.20zM1317.0 231.7h4.20v109.7h-4.20zM1320.9 232.3h4.20v109.1h-4.20zM1324.8 229.2h4.20v112.2h-4.20zM1328.7 230.5h4.20v110.9h-4.20zM1332.6 229.4h4.20v112.0h-4.20zM1336.5 229.5h4.20v111.9h-4.20zM1340.4 230.8h4.20v110.6h-4.20zM1344.3 231.1h4.20v110.3h-4.20zM1348.2 232.2h4.20v109.2h-4.20zM1352.1 229.6h4.20v111.8h-4.20zM1356.0 230.3h4.20v111.1h-4.20zM1359.9 230.2h4.20v111.2h-4.20zM1363.8 233.0h4.20v108.4h-4.20zM1367.6 230.8h4.20v110.6h-4.20zM1371.5 233.0h4.20v108.4h-4.20zM1375.4 233.4h4.20v108.0h-4.20zM1379.3 228.8h4.20v112.6h-4.20zM1383.2 232.7h4.20v108.7h-4.20zM1387.1 229.5h4.20v111.9h-4.20zM1391.0 231.6h4.20v109.8h-4.20zM1394.9 232.4h4.20v109.0h-4.20zM1398.8 229.8h4.20v111.6h-4.20zM1402.7 232.5h4.20v108.9h-4.20zM1406.6 233.2h4.20v108.2h-4.20zM1410.5 231.6h4.20v109.8h-4.20zM1414.4 232.7h4.20v108.7h-4.20zM1418.3 232.1h4.20v109.3h-4.20zM1422.2 230.9h4.20v110.5h-4.20zM1426.1 231.5h4.20v109.9h-4.20zM1430.0 235.0h4.20v106.4h-4.20zM1433.9 233.6h4.20v107.8h-4.20zM1437.8 233.2h4.20v108.2h-4.20zM1441.7 234.5h4.20v106.9h-4.20zM1445.6 234.7h4.20v106.7h-4.20zM1449.5 234.3h4.20v107.1h-4.20zM1453.4 232.5h4.20v108.9h-4.20zM1457.3 233.2h4.20v108.2h-4.20zM1461.2 232.1h4.20v109.3h-4.20zM1465.1 230.7h4.20v110.7h-4.20zM1469.0 235.0h4.20v106.4h-4.20zM1472.9 230.7h4.20v110.7h-4.20zM1476.8 232.2h4.20v109.2h-4.20zM1480.7 234.5h4.20v106.9h-4.20zM1484.6 231.7h4.20v109.7h-4.20zM1488.5 234.7h4.20v106.7h-4.20zM1492.4 230.2h4.20v111.2h-4.20zM1496.3 230.7h4.20v110.7h-4.20zM1500.2 232.1h4.20v109.3h-4.20zM1504.1 233.0h4.20v108.4h-4.20z"/></clipPath>
<path d="M85.0 230.9h4.20v110.5h-4.20zM88.9 232.9h4.20v108.5h-4.20zM92.8 231.2h4.20v110.2h-4.20zM96.7 232.1h4.20v109.3h-4.20zM100.6 234.4h4.20v107.0h-4.20zM104.5 232.2h4.20v109.2h-4.20zM108.4 232.7h4.20v108.7h-4.20zM112.3 232.1h4.20v109.3h-4.20zM116.2 230.5h4.20v110.9h-4.20zM120.1 234.1h4.20v107.3h-4.20zM124.0 231.0h4.20v110.4h-4.20zM127.9 229.2h4.20v112.2h-4.20zM131.8 231.2h4.20v110.2h-4.20zM135.7 231.1h4.20v110.3h-4.20zM139.6 230.0h4.20v111.4h-4.20zM143.5 231.1h4.20v110.3h-4.20zM147.4 229.4h4.20v112.0h-4.20zM151.3 233.7h4.20v107.7h-4.20zM155.2 231.6h4.20v109.8h-4.20zM159.1 230.3h4.20v111.1h-4.20zM163.0 231.6h4.20v109.8h-4.20zM166.9 231.7h4.20v109.7h-4.20zM170.8 230.6h4.20v110.8h-4.20zM174.7 232.6h4.20v108.8h-4.20zM178.6 230.7h4.20v110.7h-4.20zM182.5 232.9h4.20v108.5h-4.20zM186.4 232.0h4.20v109.4h-4.20zM190.3 231.5h4.20v109.9h-4.20zM194.2 228.7h4.20v112.7h-4.20zM198.1 231.2h4.20v110.2h-4.20zM202.0 232.4h4.20v109.0h-4.20zM205.9 231.4h4.20v110.0h-4.20zM209.8 227.4h4.20v114.0h-4.20zM213.7 228.5h4.20v112.9h-4.20zM217.6 226.9h4.20v114.5h-4.20zM221.5 230.1h4.20v111.3h-4.20zM225.4 231.1h4.20v110.3h-4.20zM229.2 229.9h4.20v111.5h-4.20zM233.1 229.7h4.20v111.7h-4.20zM237.0 229.0h4.20v112.4h-4.20zM240.9 229.9h4.20v111.5h-4.20zM244.8 228.9h4.20v112.5h-4.20zM248.7 230.1h4.20v111.3h-4.20zM252.6 226.8h4.20v114.6h-4.20zM256.5 228.4h4.20v113.0h-4.20zM260.4 229.1h4.20v112.3h-4.20zM264.3 226.3h4.20v115.1h-4.20zM268.2 228.7h4.20v112.7h-4.20zM272.1 230.3h4.20v111.1h-4.20zM276.0 225.9h4.20v115.5h-4.20zM279.9 228.9h4.20v112.5h-4.20zM283.8 228.5h4.20v112.9h-4.20zM287.7 228.9h4.20v112.5h-4.20zM291.6 228.9h4.20v112.5h-4.20zM295.5 226.7h4.20v114.7h-4.20zM299.4 226.0h4.20v115.4h-4.20zM303.3 224.9h4.20v116.5h-4.20zM307.2 224.1h4.20v117.3h-4.20zM311.1 224.3h4.20v117.1h-4.20zM315.0 222.4h4.20v119.0h-4.20zM318.9 224.1h4.20v117.3h-4.20zM322.8 222.2h4.20v119.2h-4.20zM326.7 221.1h4.20v120.3h-4.20zM330.6 220.9h4.20v120.5h-4.20zM334.5 221.3h4.20v120.1h-4.20zM338.4 221.4h4.20v120.0h-4.20zM342.3 220.8h4.20v120.6h-4.20zM346.2 219.8h4.20v121.6h-4.20zM350.1 217.0h4.20v124.4h-4.20zM354.0 215.5h4.20v125.9h-4.20zM357.9 215.8h4.20v125.6h-4.20zM361.8 215.3h4.20v126.1h-4.20zM365.7 217.2h4.20v124.2h-4.20zM369.6 215.0h4.20v126.4h-4.20zM373.5 216.9h4.20v124.5h-4.20zM377.4 218.3h4.20v123.1h-4.20zM381.3 216.7h4.20v124.7h-4.20zM385.2 218.7h4.20v122.7h-4.20zM389.1 216.0h4.20v125.4h-4.20zM393.0 216.5h4.20v124.9h-4.20zM396.9 215.2h4.20v126.2h-4.20zM400.8 214.2h4.20v127.2h-4.20zM404.7 216.2h4.20v125.2h-4.20zM408.6 213.6h4.20v127.8h-4.20zM412.5 213.4h4.20v128.0h-4.20zM416.4 213.7h4.20v127.7h-4.20zM420.3 215.5h4.20v125.9h-4.20zM424.2 216.3h4.20v125.1h-4.20zM428.1 212.1h4.20v129.3h-4.20zM432.0 211.8h4.20v129.6h-4.20zM435.9 215.0h4.20v126.4h-4.20zM439.8 212.6h4.20v128.8h-4.20zM443.7 213.3h4.20v128.1h-4.20zM447.6 213.8h4.20v127.6h-4.20zM451.5 211.7h4.20v129.7h-4.20zM455.4 209.3h4.20v132.1h-4.20zM459.3 212.6h4.20v128.8h-4.20zM463.2 211.8h4.20v129.6h-4.20zM467.1 207.1h4.20v134.3h-4.20zM471.0 211.6h4.20v129.8h-4.20zM474.9 209.8h4.20v131.6h-4.20zM478.8 207.5h4.20v133.9h-4.20zM482.7 208.6h4.20v132.8h-4.20zM486.6 207.6h4.20v133.8h-4.20zM490.5 209.9h4.20v131.5h-4.20zM494.4 208.0h4.20v133.4h-4.20zM498.3 206.4h4.20v135.0h-4.20zM502.2 210.4h4.20v131.0h-4.20zM506.1 207.6h4.20v133.8h-4.20zM510.0 206.8h4.20v134.6h-4.20zM513.8 209.4h4.20v132.0h-4.20zM517.7 206.5h4.20v134.9h-4.20zM521.6 208.8h4.20v132.6h-4.20zM525.5 208.0h4.20v133.4h-4.20zM529.4 206.3h4.20v135.1h-4.20zM533.3 210.4h4.20v131.0h-4.20zM537.2 209.0h4.20v132.4h-4.20zM541.1 205.8h4.20v135.6h-4.20zM545.0 209.9h4.20v131.5h-4.20zM548.9 208.6h4.20v132.8h-4.20zM552.8 209.4h4.20v132.0h-4.20zM556.7 209.1h4.20v132.3h-4.20zM560.6 206.0h4.20v135.4h-4.20zM564.5 206.6h4.20v134.8h-4.20zM568.4 205.8h4.20v135.6h-4.20zM572.3 209.0h4.20v132.4h-4.20zM576.2 209.6h4.20v131.8h-4.20zM580.1 207.6h4.20v133.8h-4.20zM584.0 208.0h4.20v133.4h-4.20zM587.9 209.5h4.20v131.9h-4.20zM591.8 207.2h4.20v134.2h-4.20zM595.7 206.8h4.20v134.6h-4.20zM599.6 206.0h4.20v135.4h-4.20zM603.5 209.5h4.20v131.9h-4.20zM607.4 205.1h4.20v136.3h-4.20zM611.3 205.5h4.20v135.9h-4.20zM615.2 208.8h4.20v132.6h-4.20zM619.1 204.7h4.20v136.7h-4.20zM623.0 205.5h4.20v135.9h-4.20zM626.9 207.2h4.20v134.2h-4.20zM630.8 205.8h4.20v135.6h-4.20zM634.7 206.7h4.20v134.7h-4.20zM638.6 205.0h4.20v136.4h-4.20zM642.5 208.3h4.20v133.1h-4.20zM646.4 205.4h4.20v136.0h-4.20zM650.3 206.6h4.20v134.8h-4.20zM654.2 205.8h4.20v135.6h-4.20zM658.1 208.9h4.20v132.5h-4.20zM662.0 206.7h4.20v134.7h-4.20zM665.9 208.5h4.20v132.9h-4.20zM669.8 206.1h4.20v135.3h-4.20zM673.7 208.9h4.20v132.5h-4.20zM677.6 207.9h4.20v133.5h-4.20zM681.5 210.9h4.20v130.5h-4.20zM685.4 207.5h4.20v133.9h-4.20zM689.3 208.1h4.20v133.3h-4.20zM693.2 211.1h4.20v130.3h-4.20zM697.1 207.2h4.20v134.2h-4.20zM701.0 209.5h4.20v131.9h-4.20zM704.9 209.6h4.20v131.8h-4.20zM708.8 208.7h4.20v132.7h-4.20zM712.7 208.1h4.20v133.3h-4.20zM716.6 209.9h4.20v131.5h-4.20zM720.5 207.6h4.20v133.8h-4.20zM724.4 207.5h4.20v133.9h-4.20zM728.3 208.9h4.20v132.5h-4.20zM732.2 209.4h4.20v132.0h-4.20zM736.1 208.8h4.20v132.6h-4.20zM740.0 211.1h4.20v130.3h-4.20zM743.9 209.6h4.20v131.8h-4.20zM747.8 210.5h4.20v130.9h-4.20zM751.7 210.4h4.20v131.0h-4.20zM755.6 211.1h4.20v130.3h-4.20zM759.5 212.2h4.20v129.2h-4.20zM763.4 210.3h4.20v131.1h-4.20zM767.3 211.0h4.20v130.4h-4.20zM771.2 210.3h4.20v131.1h-4.20zM775.1 207.9h4.20v133.5h-4.20zM779.0 211.7h4.20v129.7h-4.20zM782.9 210.1h4.20v131.3h-4.20zM786.8 207.7h4.20v133.7h-4.20zM790.7 211.2h4.20v130.2h-4.20zM794.6 210.0h4.20v131.4h-4.20zM798.4 212.2h4.20v129.2h-4.20zM802.3 209.6h4.20v131.8h-4.20zM806.2 209.9h4.20v131.5h-4.20zM810.1 212.0h4.20v129.4h-4.20zM814.0 212.1h4.20v129.3h-4.20zM817.9 211.4h4.20v130.0h-4.20zM821.8 209.7h4.20v131.7h-4.20zM825.7 209.7h4.20v131.7h-4.20zM829.6 211.2h4.20v130.2h-4.20zM833.5 212.0h4.20v129.4h-4.20zM837.4 209.8h4.20v131.6h-4.20zM841.3 211.0h4.20v130.4h-4.20zM845.2 210.3h4.20v131.1h-4.20zM849.1 210.3h4.20v131.1h-4.20zM853.0 208.6h4.20v132.8h-4.20zM856.9 208.9h4.20v132.5h-4.20zM860.8 208.8h4.20v132.6h-4.20zM864.7 212.5h4.20v128.9h-4.20zM868.6 207.7h4.20v133.7h-4.20zM872.5 208.7h4.20v132.7h-4.20zM876.4 208.7h4.20v132.7h-4.20zM880.3 211.9h4.20v129.5h-4.20zM884.2 211.2h4.20v130.2h-4.20zM888.1 209.5h4.20v131.9h-4.20zM892.0 208.5h4.20v132.9h-4.20zM895.9 211.5h4.20v129.9h-4.20zM899.8 211.9h4.20v129.5h-4.20zM903.7 211.5h4.20v129.9h-4.20zM907.6 212.0h4.20v129.4h-4.20zM911.5 211.5h4.20v129.9h-4.20zM915.4 208.7h4.20v132.7h-4.20zM919.3 212.7h4.20v128.7h-4.20zM923.2 213.2h4.20v128.2h-4.20zM927.1 209.7h4.20v131.7h-4.20zM931.0 210.9h4.20v130.5h-4.20zM934.9 214.0h4.20v127.4h-4.20zM938.8 214.0h4.20v127.4h-4.20zM942.7 213.3h4.20v128.1h-4.20zM946.6 213.5h4.20v127.9h-4.20zM950.5 210.1h4.20v131.3h-4.20zM954.4 213.8h4.20v127.6h-4.20zM958.3 213.6h4.20v127.8h-4.20zM962.2 210.5h4.20v130.9h-4.20zM966.1 214.0h4.20v127.4h-4.20zM970.0 213.6h4.20v127.8h-4.20zM973.9 214.1h4.20v127.3h-4.20zM977.8 214.0h4.20v127.4h-4.20zM981.7 210.0h4.20v131.4h-4.20zM985.6 210.4h4.20v131.0h-4.20zM989.5 213.6h4.20v127.8h-4.20zM993.4 210.4h4.20v131.0h-4.20zM997.3 211.3h4.20v130.1h-4.20zM1001.2 213.6h4.20v127.8h-4.20zM1005.1 213.8h4.20v127.6h-4.20zM1009.0 211.7h4.20v129.7h-4.20zM1012.9 211.8h4.20v129.6h-4.20zM1016.8 213.3h4.20v128.1h-4.20zM1020.7 214.8h4.20v126.6h-4.20zM1024.6 213.1h4.20v128.3h-4.20zM1028.5 211.7h4.20v129.7h-4.20zM1032.4 211.2h4.20v130.2h-4.20zM1036.3 211.0h4.20v130.4h-4.20zM1040.2 213.2h4.20v128.2h-4.20zM1044.1 213.8h4.20v127.6h-4.20zM1048.0 211.3h4.20v130.1h-4.20zM1051.9 214.0h4.20v127.4h-4.20zM1055.8 213.3h4.20v128.1h-4.20zM1059.7 213.2h4.20v128.2h-4.20zM1063.6 213.0h4.20v128.4h-4.20zM1067.5 212.5h4.20v128.9h-4.20zM1071.4 210.5h4.20v130.9h-4.20zM1075.3 213.1h4.20v128.3h-4.20zM1079.2 213.8h4.20v127.6h-4.20zM1083.0 214.9h4.20v126.5h-4.20zM1086.9 215.4h4.20v126.0h-4.20zM1090.8 213.7h4.20v127.7h-4.20zM1094.7 211.3h4.20v130.1h-4.20zM1098.6 214.9h4.20v126.5h-4.20zM1102.5 212.8h4.20v128.6h-4.20zM1106.4 215.7h4.20v125.7h-4.20zM1110.3 215.8h4.20v125.6h-4.20zM1114.2 211.8h4.20v129.6h-4.20zM1118.1 211.9h4.20v129.5h-4.20zM1122.0 212.2h4.20v129.2h-4.20zM1125.9 215.7h4.20v125.7h-4.20zM1129.8 215.1h4.20v126.3h-4.20zM1133.7 216.2h4.20v125.2h-4.20zM1137.6 215.1h4.20v126.3h-4.20zM1141.5 216.9h4.20v124.5h-4.20zM1145.4 214.9h4.20v126.5h-4.20zM1149.3 215.9h4.20v125.5h-4.20zM1153.2 219.0h4.20v122.4h-4.20zM1157.1 217.0h4.20v124.4h-4.20zM1161.0 216.8h4.20v124.6h-4.20zM1164.9 219.9h4.20v121.5h-4.20zM1168.8 222.0h4.20v119.4h-4.20zM1172.7 222.2h4.20v119.2h-4.20zM1176.6 222.3h4.20v119.1h-4.20zM1180.5 221.8h4.20v119.6h-4.20zM1184.4 218.6h4.20v122.8h-4.20zM1188.3 219.6h4.20v121.8h-4.20zM1192.2 221.9h4.20v119.5h-4.20zM1196.1 221.9h4.20v119.5h-4.20zM1200.0 223.5h4.20v117.9h-4.20zM1203.9 219.6h4.20v121.8h-4.20zM1207.8 222.6h4.20v118.8h-4.20zM1211.7 219.9h4.20v121.5h-4.20zM1215.6 223.3h4.20v118.1h-4.20zM1219.5 220.1h4.20v121.3h-4.20zM1223.4 222.2h4.20v119.2h-4.20zM1227.3 223.8h4.20v117.6h-4.20zM1231.2 225.1h4.20v116.3h-4.20zM1235.1 224.3h4.20v117.1h-4.20zM1239.0 224.5h4.20v116.9h-4.20zM1242.9 222.4h4.20v119.0h-4.20zM1246.8 224.5h4.20v116.9h-4.20zM1250.7 224.3h4.20v117.1h-4.20zM1254.6 224.5h4.20v116.9h-4.20zM1258.5 225.4h4.20v116.0h-4.20zM1262.4 225.0h4.20v116.4h-4.20zM1266.3 225.1h4.20v116.3h-4.20zM1270.2 227.4h4.20v114.0h-4.20zM1274.1 227.2h4.20v114.2h-4.20zM1278.0 229.3h4.20v112.1h-4.20zM1281.9 229.4h4.20v112.0h-4.20zM1285.8 229.2h4.20v112.2h-4.20zM1289.7 226.1h4.20v115.3h-4.20zM1293.6 228.4h4.20v113.0h-4.20zM1297.5 228.7h4.20v112.7h-4.20zM1301.4 230.5h4.20v110.9h-4.20zM1305.3 231.3h4.20v110.1h-4.20zM1309.2 228.0h4.20v113.4h-4.20zM1313.1 227.2h4.20v114.2h-4.20zM1317.0 231.7h4.20v109.7h-4.20zM1320.9 232.3h4.20v109.1h-4.20zM1324.8 229.2h4.20v112.2h-4.20zM1328.7 230.5h4.20v110.9h-4.20zM1332.6 229.4h4.20v112.0h-4.20zM1336.5 229.5h4.20v111.9h-4.20zM1340.4 230.8h4.20v110.6h-4.20zM1344.3 231.1h4.20v110.3h-4.20zM1348.2 232.2h4.20v109.2h-4.20zM1352.1 229.6h4.20v111.8h-4.20zM1356.0 230.3h4.20v111.1h-4.20zM1359.9 230.2h4.20v111.2h-4.20zM1363.8 233.0h4.20v108.4h-4.20zM1367.6 230.8h4.20v110.6h-4.20zM1371.5 233.0h4.20v108.4h-4.20zM1375.4 233.4h4.20v108.0h-4.20zM1379.3 228.8h4.20v112.6h-4.20zM1383.2 232.7h4.20v108.7h-4.20zM1387.1 229.5h4.20v111.9h-4.20zM1391.0 231.6h4.20v109.8h-4.20zM1394.9 232.4h4.20v109.0h-4.20zM1398.8 229.8h4.20v111.6h-4.20zM1402.7 232.5h4.20v108.9h-4.20zM1406.6 233.2h4.20v108.2h-4.20zM1410.5 231.6h4.20v109.8h-4.20zM1414.4 232.7h4.20v108.7h-4.20zM1418.3 232.1h4.20v109.3h-4.20zM1422.2 230.9h4.20v110.5h-4.20zM1426.1 231.5h4.20v109.9h-4.20zM1430.0 235.0h4.20v106.4h-4.20zM1433.9 233.6h4.20v107.8h-4.20zM1437.8 233.2h4.20v108.2h-4.20zM1441.7 234.5h4.20v106.9h-4.20zM1445.6 234.7h4.20v106.7h-4.20zM1449.5 234.3h4.20v107.1h-4.20zM1453.4 232.5h4.20v108.9h-4.20zM1457.3 233.2h4.20v108.2h-4.20zM1461.2 232.1h4.20v109.3h-4.20zM1465.1 230.7h4.20v110.7h-4.20zM1469.0 235.0h4.20v106.4h-4.20zM1472.9 230.7h4.20v110.7h-4.20zM1476.8 232.2h4.20v109.2h-4.20zM1480.7 234.5h4.20v106.9h-4.20zM1484.6 231.7h4.20v109.7h-4.20zM1488.5 234.7h4.20v106.7h-4.20zM1492.4 230.2h4.20v111.2h-4.20zM1496.3 230.7h4.20v110.7h-4.20zM1500.2 232.1h4.20v109.3h-4.20zM1504.1 233.0h4.20v108.4h-4.20z" fill="rgb(137,137,52)" filter="url(#bv2)"/>
<path d="M96.7 229.0h3.90v45.1h-3.90zM104.5 228.9h3.90v100.5h-3.90zM112.3 228.8h3.90v111.1h-3.90zM116.2 228.7h3.90v87.7h-3.90zM124.0 228.6h3.90v57.2h-3.90zM127.9 228.6h3.90v31.5h-3.90zM131.8 228.5h3.90v52.5h-3.90zM143.5 228.5h3.90v55.6h-3.90zM147.4 228.5h3.90v71.5h-3.90zM151.3 228.5h3.90v43.6h-3.90zM159.1 228.4h3.90v38.1h-3.90zM163.0 228.3h3.90v29.9h-3.90zM170.8 228.2h3.90v110.4h-3.90zM190.3 227.5h3.90v42.5h-3.90zM194.2 227.4h3.90v33.2h-3.90zM205.9 226.9h3.90v122.8h-3.90zM209.8 226.7h3.90v100.2h-3.90zM213.7 226.6h3.90v102.1h-3.90zM217.6 226.4h3.90v148.7h-3.90zM225.4 226.1h3.90v68.9h-3.90zM240.9 225.7h3.90v117.2h-3.90zM248.7 225.6h3.90v42.4h-3.90zM256.5 225.5h3.90v47.2h-3.90zM264.3 225.5h3.90v126.7h-3.90zM307.2 221.4h3.90v42.5h-3.90zM311.1 220.8h3.90v18.7h-3.90zM318.9 219.6h3.90v125.6h-3.90zM322.8 219.0h3.90v117.0h-3.90zM338.4 216.7h3.90v56.3h-3.90zM342.3 216.2h3.90v71.9h-3.90zM346.2 215.7h3.90v131.3h-3.90zM354.0 215.0h3.90v52.3h-3.90zM361.8 214.4h3.90v129.4h-3.90zM365.7 214.2h3.90v49.1h-3.90zM381.3 213.9h3.90v109.6h-3.90zM389.1 213.7h3.90v23.7h-3.90zM396.9 213.3h3.90v34.0h-3.90zM404.7 212.8h3.90v93.0h-3.90zM420.3 211.4h3.90v144.9h-3.90zM424.2 210.9h3.90v51.1h-3.90zM443.7 208.8h3.90v146.6h-3.90zM447.6 208.4h3.90v15.8h-3.90zM451.5 207.9h3.90v64.3h-3.90zM459.3 207.2h3.90v114.2h-3.90zM463.2 206.9h3.90v125.0h-3.90zM471.0 206.3h3.90v49.7h-3.90zM478.8 205.9h3.90v134.8h-3.90zM490.5 205.5h3.90v23.1h-3.90zM498.3 205.5h3.90v115.2h-3.90zM506.1 205.5h3.90v114.3h-3.90zM513.8 205.4h3.90v22.0h-3.90zM521.6 205.3h3.90v76.3h-3.90zM533.3 205.1h3.90v106.3h-3.90zM541.1 205.0h3.90v100.8h-3.90zM548.9 204.8h3.90v24.0h-3.90zM564.5 204.5h3.90v101.9h-3.90zM572.3 204.4h3.90v36.8h-3.90zM580.1 204.3h3.90v89.2h-3.90zM584.0 204.2h3.90v112.3h-3.90zM599.6 204.0h3.90v100.9h-3.90zM603.5 204.0h3.90v109.0h-3.90zM615.2 204.0h3.90v49.1h-3.90zM630.8 204.2h3.90v139.2h-3.90zM634.7 204.2h3.90v27.1h-3.90zM646.4 204.5h3.90v80.3h-3.90zM650.3 204.7h3.90v109.7h-3.90zM654.2 204.8h3.90v115.5h-3.90zM658.1 204.9h3.90v33.9h-3.90zM669.8 205.4h3.90v105.7h-3.90zM673.7 205.5h3.90v22.0h-3.90zM685.4 206.0h3.90v27.7h-3.90zM689.3 206.1h3.90v20.9h-3.90zM693.2 206.3h3.90v113.1h-3.90zM701.0 206.5h3.90v32.9h-3.90zM704.9 206.6h3.90v114.2h-3.90zM716.6 206.9h3.90v116.4h-3.90zM720.5 206.9h3.90v112.2h-3.90zM728.3 207.0h3.90v48.1h-3.90zM736.1 207.0h3.90v112.5h-3.90zM743.9 207.0h3.90v22.2h-3.90zM747.8 207.0h3.90v36.3h-3.90zM751.7 207.0h3.90v52.7h-3.90zM759.5 207.0h3.90v35.1h-3.90zM771.2 207.0h3.90v28.8h-3.90zM779.0 207.0h3.90v120.2h-3.90zM782.9 207.0h3.90v41.0h-3.90zM790.7 207.0h3.90v82.8h-3.90zM794.6 207.0h3.90v114.4h-3.90zM825.7 207.0h3.90v91.6h-3.90zM837.4 207.0h3.90v77.3h-3.90zM845.2 207.0h3.90v118.0h-3.90zM868.6 207.1h3.90v47.8h-3.90zM876.4 207.2h3.90v56.2h-3.90zM888.1 207.4h3.90v128.4h-3.90zM892.0 207.5h3.90v41.0h-3.90zM899.8 207.7h3.90v138.8h-3.90zM903.7 207.8h3.90v122.7h-3.90zM931.0 208.5h3.90v137.8h-3.90zM934.9 208.6h3.90v112.9h-3.90zM942.7 208.7h3.90v50.1h-3.90zM954.4 208.9h3.90v134.4h-3.90zM958.3 208.9h3.90v63.3h-3.90zM962.2 209.0h3.90v30.6h-3.90zM966.1 209.0h3.90v28.4h-3.90zM973.9 209.0h3.90v87.6h-3.90zM977.8 209.0h3.90v23.8h-3.90zM993.4 209.1h3.90v115.7h-3.90zM1028.5 209.5h3.90v30.4h-3.90zM1032.4 209.5h3.90v51.9h-3.90zM1036.3 209.6h3.90v143.4h-3.90zM1048.0 209.7h3.90v107.1h-3.90zM1051.9 209.8h3.90v48.1h-3.90zM1055.8 209.8h3.90v57.9h-3.90zM1059.7 209.8h3.90v29.5h-3.90zM1063.6 209.9h3.90v94.0h-3.90zM1067.5 209.9h3.90v98.2h-3.90zM1083.0 210.0h3.90v44.4h-3.90zM1086.9 210.0h3.90v111.4h-3.90zM1094.7 210.0h3.90v109.6h-3.90zM1102.5 210.2h3.90v102.4h-3.90zM1118.1 211.1h3.90v29.0h-3.90zM1122.0 211.4h3.90v123.2h-3.90zM1129.8 212.2h3.90v17.8h-3.90zM1137.6 213.0h3.90v115.2h-3.90zM1161.0 215.8h3.90v36.2h-3.90zM1164.9 216.2h3.90v107.1h-3.90zM1168.8 216.6h3.90v100.3h-3.90zM1176.6 217.4h3.90v16.7h-3.90zM1188.3 218.3h3.90v80.0h-3.90zM1203.9 218.9h3.90v39.8h-3.90zM1211.7 219.0h3.90v44.6h-3.90zM1219.5 219.1h3.90v73.3h-3.90zM1223.4 219.3h3.90v112.9h-3.90zM1227.3 219.4h3.90v40.9h-3.90zM1231.2 219.6h3.90v116.9h-3.90zM1235.1 219.9h3.90v122.4h-3.90zM1258.5 221.9h3.90v37.8h-3.90zM1262.4 222.3h3.90v141.7h-3.90zM1270.2 223.1h3.90v72.3h-3.90zM1278.0 223.9h3.90v137.2h-3.90zM1285.8 224.7h3.90v53.2h-3.90zM1301.4 226.0h3.90v133.1h-3.90zM1313.1 226.7h3.90v138.8h-3.90zM1328.7 227.0h3.90v25.5h-3.90zM1332.6 227.0h3.90v111.4h-3.90zM1336.5 227.0h3.90v134.4h-3.90zM1340.4 227.1h3.90v104.3h-3.90zM1348.2 227.2h3.90v102.0h-3.90zM1363.8 227.6h3.90v118.2h-3.90zM1387.1 228.5h3.90v86.6h-3.90zM1391.0 228.6h3.90v78.4h-3.90zM1398.8 228.9h3.90v52.8h-3.90zM1406.6 229.2h3.90v109.0h-3.90zM1414.4 229.5h3.90v53.5h-3.90zM1426.1 229.8h3.90v82.9h-3.90zM1433.9 229.9h3.90v136.3h-3.90zM1445.6 230.0h3.90v126.1h-3.90zM1465.1 229.9h3.90v50.5h-3.90zM1469.0 229.9h3.90v104.5h-3.90zM1476.8 229.8h3.90v60.3h-3.90zM1480.7 229.7h3.90v42.9h-3.90zM1484.6 229.7h3.90v46.3h-3.90zM1496.3 229.5h3.90v88.9h-3.90z" fill="rgb(45,45,45)" fill-opacity="0.08"/>
<path d="M85.0 229.2h3.90v105.4h-3.90zM92.8 229.1h3.90v35.3h-3.90zM96.7 229.0h3.90v90.9h-3.90zM104.5 228.9h3.90v143.2h-3.90zM112.3 228.8h3.90v116.9h-3.90zM116.2 228.7h3.90v121.1h-3.90zM120.1 228.7h3.90v104.1h-3.90zM131.8 228.5h3.90v125.4h-3.90zM135.7 228.5h3.90v31.0h-3.90zM166.9 228.2h3.90v53.2h-3.90zM174.7 228.0h3.90v92.9h-3.90zM178.6 227.9h3.90v148.6h-3.90zM182.5 227.8h3.90v64.8h-3.90zM194.2 227.4h3.90v130.4h-3.90zM213.7 226.6h3.90v49.5h-3.90zM229.2 226.0h3.90v27.8h-3.90zM237.0 225.8h3.90v116.9h-3.90zM240.9 225.7h3.90v22.2h-3.90zM248.7 225.6h3.90v140.1h-3.90zM256.5 225.5h3.90v59.7h-3.90zM260.4 225.5h3.90v102.4h-3.90zM283.8 224.4h3.90v32.2h-3.90zM291.6 223.5h3.90v127.3h-3.90zM295.5 223.1h3.90v45.4h-3.90zM299.4 222.5h3.90v142.8h-3.90zM311.1 220.8h3.90v37.5h-3.90zM318.9 219.6h3.90v128.8h-3.90zM322.8 219.0h3.90v59.9h-3.90zM326.7 218.4h3.90v138.4h-3.90zM338.4 216.7h3.90v137.9h-3.90zM346.2 215.7h3.90v104.6h-3.90zM350.1 215.3h3.90v102.5h-3.90zM361.8 214.4h3.90v57.9h-3.90zM369.6 214.1h3.90v57.6h-3.90zM377.4 214.0h3.90v22.9h-3.90zM393.0 213.6h3.90v110.1h-3.90zM400.8 213.1h3.90v110.6h-3.90zM404.7 212.8h3.90v49.5h-3.90zM408.6 212.5h3.90v31.6h-3.90zM412.5 212.1h3.90v47.5h-3.90zM416.4 211.7h3.90v136.7h-3.90zM424.2 210.9h3.90v120.5h-3.90zM428.1 210.5h3.90v24.6h-3.90zM432.0 210.1h3.90v112.7h-3.90zM443.7 208.8h3.90v125.8h-3.90zM455.4 207.6h3.90v135.8h-3.90zM494.4 205.5h3.90v118.5h-3.90zM506.1 205.5h3.90v105.5h-3.90zM510.0 205.4h3.90v117.0h-3.90zM521.6 205.3h3.90v92.8h-3.90zM525.5 205.3h3.90v132.3h-3.90zM529.4 205.2h3.90v24.5h-3.90zM541.1 205.0h3.90v52.6h-3.90zM545.0 204.9h3.90v101.7h-3.90zM548.9 204.8h3.90v107.6h-3.90zM560.6 204.6h3.90v47.7h-3.90zM564.5 204.5h3.90v58.6h-3.90zM568.4 204.5h3.90v16.3h-3.90zM576.2 204.3h3.90v119.5h-3.90zM595.7 204.1h3.90v117.9h-3.90zM619.1 204.0h3.90v35.3h-3.90zM623.0 204.0h3.90v139.6h-3.90zM630.8 204.2h3.90v145.4h-3.90zM642.5 204.4h3.90v115.5h-3.90zM665.9 205.2h3.90v124.1h-3.90zM673.7 205.5h3.90v113.3h-3.90zM693.2 206.3h3.90v144.7h-3.90zM704.9 206.6h3.90v51.1h-3.90zM708.8 206.7h3.90v114.2h-3.90zM720.5 206.9h3.90v136.8h-3.90zM724.4 207.0h3.90v107.8h-3.90zM747.8 207.0h3.90v102.1h-3.90zM755.6 207.0h3.90v134.6h-3.90zM759.5 207.0h3.90v52.5h-3.90zM771.2 207.0h3.90v126.7h-3.90zM786.8 207.0h3.90v102.5h-3.90zM794.6 207.0h3.90v134.6h-3.90zM810.1 207.0h3.90v137.9h-3.90zM814.0 207.0h3.90v119.9h-3.90zM817.9 207.0h3.90v75.4h-3.90zM825.7 207.0h3.90v138.3h-3.90zM829.6 207.0h3.90v105.0h-3.90zM833.5 207.0h3.90v123.4h-3.90zM837.4 207.0h3.90v57.2h-3.90zM845.2 207.0h3.90v62.5h-3.90zM849.1 207.0h3.90v64.7h-3.90zM860.8 207.0h3.90v107.6h-3.90zM864.7 207.1h3.90v125.2h-3.90zM868.6 207.1h3.90v123.7h-3.90zM872.5 207.2h3.90v136.6h-3.90zM876.4 207.2h3.90v88.9h-3.90zM892.0 207.5h3.90v112.3h-3.90zM895.9 207.6h3.90v116.8h-3.90zM903.7 207.8h3.90v104.7h-3.90zM911.5 208.0h3.90v52.8h-3.90zM919.3 208.2h3.90v100.3h-3.90zM923.2 208.3h3.90v90.0h-3.90zM934.9 208.6h3.90v58.2h-3.90zM938.8 208.7h3.90v40.9h-3.90zM950.5 208.8h3.90v132.8h-3.90zM954.4 208.9h3.90v39.6h-3.90zM962.2 209.0h3.90v94.4h-3.90zM966.1 209.0h3.90v49.2h-3.90zM970.0 209.0h3.90v112.3h-3.90zM973.9 209.0h3.90v29.1h-3.90zM977.8 209.0h3.90v30.2h-3.90zM989.5 209.1h3.90v59.1h-3.90zM1001.2 209.1h3.90v134.3h-3.90zM1009.0 209.2h3.90v97.4h-3.90zM1012.9 209.3h3.90v22.6h-3.90zM1028.5 209.5h3.90v16.7h-3.90zM1032.4 209.5h3.90v115.5h-3.90zM1036.3 209.6h3.90v38.0h-3.90zM1040.2 209.6h3.90v28.9h-3.90zM1044.1 209.7h3.90v119.6h-3.90zM1051.9 209.8h3.90v16.9h-3.90zM1055.8 209.8h3.90v39.2h-3.90zM1059.7 209.8h3.90v45.7h-3.90zM1071.4 209.9h3.90v33.0h-3.90zM1079.2 210.0h3.90v149.0h-3.90zM1102.5 210.2h3.90v49.9h-3.90zM1118.1 211.1h3.90v68.1h-3.90zM1129.8 212.2h3.90v53.8h-3.90zM1137.6 213.0h3.90v147.7h-3.90zM1145.4 213.9h3.90v112.4h-3.90zM1149.3 214.4h3.90v49.1h-3.90zM1161.0 215.8h3.90v47.4h-3.90zM1164.9 216.2h3.90v115.4h-3.90zM1168.8 216.6h3.90v129.0h-3.90zM1172.7 217.0h3.90v101.3h-3.90zM1176.6 217.4h3.90v101.3h-3.90zM1192.2 218.5h3.90v128.5h-3.90zM1196.1 218.7h3.90v72.7h-3.90zM1203.9 218.9h3.90v105.1h-3.90zM1219.5 219.1h3.90v100.7h-3.90zM1223.4 219.3h3.90v128.3h-3.90zM1239.0 220.1h3.90v58.1h-3.90zM1246.8 220.8h3.90v80.9h-3.90zM1254.6 221.5h3.90v44.1h-3.90zM1258.5 221.9h3.90v69.4h-3.90zM1262.4 222.3h3.90v34.0h-3.90zM1266.3 222.7h3.90v117.2h-3.90zM1270.2 223.1h3.90v39.3h-3.90zM1274.1 223.5h3.90v48.8h-3.90zM1281.9 224.3h3.90v24.5h-3.90zM1297.5 225.7h3.90v52.4h-3.90zM1309.2 226.5h3.90v147.2h-3.90zM1313.1 226.7h3.90v22.1h-3.90zM1328.7 227.0h3.90v43.6h-3.90zM1352.1 227.3h3.90v119.3h-3.90zM1359.9 227.5h3.90v134.3h-3.90zM1367.6 227.7h3.90v23.3h-3.90zM1383.2 228.3h3.90v109.8h-3.90zM1391.0 228.6h3.90v113.1h-3.90zM1394.9 228.8h3.90v137.7h-3.90zM1406.6 229.2h3.90v116.9h-3.90zM1410.5 229.3h3.90v110.3h-3.90zM1414.4 229.5h3.90v126.0h-3.90zM1418.3 229.6h3.90v62.9h-3.90zM1426.1 229.8h3.90v133.5h-3.90zM1437.8 230.0h3.90v67.6h-3.90zM1445.6 230.0h3.90v103.3h-3.90zM1465.1 229.9h3.90v63.4h-3.90zM1469.0 229.9h3.90v63.6h-3.90zM1476.8 229.8h3.90v55.4h-3.90zM1500.2 229.4h3.90v35.6h-3.90z" fill="rgb(45,45,45)" fill-opacity="0.08"/>
<g clip-path="url(#oc)">
<path d="M85.0 230.0h3.90v55.4h-3.90zM88.9 227.7h3.90v54.9h-3.90zM92.8 243.9h3.90v64.8h-3.90zM96.7 222.5h3.90v72.7h-3.90zM100.6 225.0h3.90v75.2h-3.90zM104.5 221.6h3.90v85.8h-3.90zM108.4 245.6h3.90v49.9h-3.90zM112.3 217.2h3.90v84.6h-3.90zM116.2 247.7h3.90v32.6h-3.90zM120.1 221.6h3.90v101.1h-3.90zM124.0 230.6h3.90v49.5h-3.90zM127.9 224.8h3.90v75.6h-3.90zM135.7 231.9h3.90v65.9h-3.90zM143.5 254.9h3.90v31.6h-3.90zM155.2 225.6h3.90v68.2h-3.90zM170.8 222.9h3.90v71.6h-3.90zM178.6 222.2h3.90v85.2h-3.90zM186.4 227.3h3.90v64.8h-3.90zM190.3 222.6h3.90v78.4h-3.90zM198.1 221.0h3.90v96.4h-3.90zM205.9 236.0h3.90v50.0h-3.90zM209.8 234.2h3.90v46.6h-3.90zM217.6 238.9h3.90v55.4h-3.90zM225.4 227.4h3.90v56.9h-3.90zM233.1 228.9h3.90v53.9h-3.90zM237.0 234.1h3.90v54.1h-3.90zM240.9 245.1h3.90v40.0h-3.90zM244.8 221.0h3.90v65.7h-3.90zM256.5 223.9h3.90v73.8h-3.90zM260.4 239.3h3.90v58.1h-3.90zM272.1 217.0h3.90v97.1h-3.90zM279.9 233.1h3.90v56.8h-3.90zM287.7 225.9h3.90v55.4h-3.90zM295.5 230.9h3.90v58.1h-3.90zM299.4 219.3h3.90v73.6h-3.90zM307.2 229.5h3.90v66.1h-3.90zM311.1 234.9h3.90v49.0h-3.90zM315.0 219.5h3.90v53.9h-3.90zM318.9 221.2h3.90v62.8h-3.90zM322.8 234.4h3.90v31.0h-3.90zM338.4 215.1h3.90v63.3h-3.90zM346.2 226.7h3.90v47.4h-3.90zM350.1 212.8h3.90v54.4h-3.90zM354.0 220.5h3.90v61.2h-3.90zM361.8 224.0h3.90v45.0h-3.90zM369.6 223.6h3.90v49.8h-3.90zM377.4 218.5h3.90v50.9h-3.90zM393.0 219.0h3.90v50.1h-3.90zM396.9 216.7h3.90v56.7h-3.90zM400.8 219.2h3.90v61.9h-3.90zM404.7 226.3h3.90v51.0h-3.90zM408.6 215.7h3.90v36.8h-3.90zM412.5 208.1h3.90v50.8h-3.90zM420.3 220.1h3.90v46.6h-3.90zM424.2 214.4h3.90v72.9h-3.90zM428.1 211.1h3.90v69.9h-3.90zM432.0 213.6h3.90v58.0h-3.90zM435.9 222.1h3.90v40.5h-3.90zM439.8 213.5h3.90v65.7h-3.90zM443.7 212.2h3.90v65.6h-3.90zM451.5 209.0h3.90v54.8h-3.90zM459.3 209.7h3.90v40.2h-3.90zM463.2 221.4h3.90v43.6h-3.90zM467.1 207.8h3.90v59.6h-3.90zM471.0 213.6h3.90v56.0h-3.90zM474.9 209.8h3.90v58.1h-3.90zM478.8 210.7h3.90v57.3h-3.90zM486.6 217.8h3.90v56.5h-3.90zM490.5 207.3h3.90v61.0h-3.90zM498.3 200.4h3.90v61.0h-3.90zM513.8 204.5h3.90v55.4h-3.90zM521.6 210.3h3.90v54.8h-3.90zM529.4 216.4h3.90v61.4h-3.90zM533.3 197.8h3.90v61.1h-3.90zM537.2 196.0h3.90v80.9h-3.90zM541.1 199.4h3.90v51.4h-3.90zM545.0 211.3h3.90v39.5h-3.90zM548.9 208.5h3.90v54.0h-3.90zM552.8 203.2h3.90v48.9h-3.90zM556.7 196.7h3.90v69.6h-3.90zM560.6 203.9h3.90v53.6h-3.90zM572.3 195.5h3.90v57.0h-3.90zM576.2 193.0h3.90v61.6h-3.90zM580.1 194.9h3.90v50.7h-3.90zM587.9 202.0h3.90v41.7h-3.90zM591.8 192.9h3.90v64.1h-3.90zM595.7 185.0h3.90v72.6h-3.90zM619.1 191.7h3.90v62.3h-3.90zM623.0 189.4h3.90v69.8h-3.90zM630.8 182.5h3.90v63.6h-3.90zM638.6 185.2h3.90v68.2h-3.90zM642.5 192.7h3.90v59.2h-3.90zM646.4 189.0h3.90v51.4h-3.90zM662.0 189.7h3.90v56.7h-3.90zM665.9 185.2h3.90v55.3h-3.90zM669.8 187.4h3.90v51.5h-3.90zM673.7 174.4h3.90v73.7h-3.90zM677.6 184.7h3.90v58.6h-3.90zM693.2 193.3h3.90v31.0h-3.90zM697.1 188.9h3.90v29.9h-3.90zM708.8 178.3h3.90v42.2h-3.90zM728.3 187.6h3.90v36.5h-3.90zM732.2 186.9h3.90v36.2h-3.90zM751.7 177.9h3.90v47.1h-3.90zM759.5 174.7h3.90v53.7h-3.90zM763.4 183.4h3.90v33.7h-3.90zM775.1 186.3h3.90v31.6h-3.90zM779.0 183.5h3.90v41.6h-3.90zM782.9 180.0h3.90v45.2h-3.90zM786.8 182.4h3.90v40.1h-3.90zM790.7 183.4h3.90v40.6h-3.90zM794.6 183.1h3.90v43.9h-3.90zM798.4 178.1h3.90v38.1h-3.90zM806.2 175.6h3.90v45.4h-3.90zM810.1 182.2h3.90v36.4h-3.90zM814.0 177.1h3.90v39.7h-3.90zM817.9 178.5h3.90v43.2h-3.90zM821.8 175.8h3.90v45.9h-3.90zM829.6 183.4h3.90v28.1h-3.90zM837.4 174.0h3.90v48.9h-3.90zM845.2 173.4h3.90v32.7h-3.90zM849.1 188.8h3.90v41.8h-3.90zM853.0 181.7h3.90v31.2h-3.90zM856.9 173.2h3.90v41.8h-3.90zM860.8 184.8h3.90v23.3h-3.90zM864.7 173.1h3.90v35.7h-3.90zM868.6 177.7h3.90v30.4h-3.90zM884.2 174.2h3.90v42.7h-3.90zM888.1 185.2h3.90v36.2h-3.90zM892.0 168.5h3.90v43.9h-3.90zM903.7 180.9h3.90v39.5h-3.90zM907.6 180.9h3.90v35.0h-3.90zM911.5 176.6h3.90v43.0h-3.90zM919.3 176.4h3.90v50.0h-3.90zM923.2 176.9h3.90v41.8h-3.90zM946.6 179.8h3.90v42.3h-3.90zM950.5 174.1h3.90v46.1h-3.90zM954.4 181.4h3.90v34.5h-3.90zM958.3 175.6h3.90v31.9h-3.90zM970.0 176.2h3.90v47.7h-3.90zM977.8 178.0h3.90v37.4h-3.90zM981.7 173.8h3.90v45.6h-3.90zM985.6 175.8h3.90v42.0h-3.90zM993.4 180.9h3.90v43.9h-3.90zM997.3 166.8h3.90v46.9h-3.90zM1001.2 179.4h3.90v41.3h-3.90zM1005.1 178.8h3.90v35.9h-3.90zM1009.0 172.2h3.90v47.1h-3.90zM1016.8 177.0h3.90v46.0h-3.90zM1020.7 166.5h3.90v50.6h-3.90zM1028.5 183.1h3.90v35.8h-3.90zM1032.4 170.2h3.90v46.6h-3.90zM1040.2 176.6h3.90v44.8h-3.90zM1048.0 174.5h3.90v51.4h-3.90zM1059.7 180.4h3.90v31.7h-3.90zM1075.3 170.7h3.90v60.3h-3.90zM1079.2 180.1h3.90v37.5h-3.90zM1083.0 183.5h3.90v34.6h-3.90zM1086.9 181.7h3.90v38.7h-3.90zM1090.8 165.2h3.90v48.3h-3.90zM1094.7 186.7h3.90v27.7h-3.90zM1098.6 182.8h3.90v31.3h-3.90zM1102.5 181.5h3.90v45.3h-3.90zM1110.3 179.3h3.90v33.7h-3.90zM1114.2 178.0h3.90v39.2h-3.90zM1118.1 178.5h3.90v44.4h-3.90zM1125.9 195.4h3.90v26.9h-3.90zM1133.7 184.8h3.90v40.8h-3.90zM1137.6 181.5h3.90v45.8h-3.90zM1149.3 191.9h3.90v39.8h-3.90zM1161.0 201.2h3.90v32.7h-3.90zM1168.8 188.4h3.90v46.3h-3.90zM1176.6 199.8h3.90v33.7h-3.90zM1180.5 193.7h3.90v43.0h-3.90zM1184.4 195.4h3.90v46.2h-3.90zM1192.2 196.5h3.90v33.8h-3.90zM1196.1 197.7h3.90v45.7h-3.90zM1203.9 205.5h3.90v43.2h-3.90zM1207.8 203.6h3.90v35.5h-3.90zM1219.5 202.6h3.90v33.7h-3.90zM1223.4 193.2h3.90v49.8h-3.90zM1235.1 196.7h3.90v32.6h-3.90zM1239.0 195.0h3.90v49.1h-3.90zM1242.9 198.1h3.90v42.1h-3.90zM1246.8 205.9h3.90v35.9h-3.90zM1250.7 198.4h3.90v38.9h-3.90zM1258.5 203.4h3.90v47.7h-3.90zM1262.4 196.7h3.90v58.5h-3.90zM1270.2 204.7h3.90v40.5h-3.90zM1274.1 209.3h3.90v45.2h-3.90zM1285.8 210.4h3.90v40.7h-3.90zM1289.7 207.4h3.90v43.5h-3.90zM1293.6 206.0h3.90v51.2h-3.90zM1297.5 209.4h3.90v56.0h-3.90zM1301.4 205.4h3.90v48.4h-3.90zM1320.9 223.3h3.90v43.9h-3.90zM1324.8 221.2h3.90v43.6h-3.90zM1328.7 205.4h3.90v53.0h-3.90zM1332.6 209.1h3.90v51.1h-3.90zM1344.3 206.3h3.90v50.8h-3.90zM1348.2 216.9h3.90v42.5h-3.90zM1352.1 226.7h3.90v36.0h-3.90zM1356.0 207.0h3.90v58.4h-3.90zM1359.9 212.8h3.90v55.2h-3.90zM1363.8 220.0h3.90v23.7h-3.90zM1367.6 213.4h3.90v58.8h-3.90zM1371.5 222.1h3.90v32.8h-3.90zM1375.4 220.6h3.90v41.1h-3.90zM1379.3 206.0h3.90v51.5h-3.90zM1383.2 208.6h3.90v69.7h-3.90zM1394.9 218.7h3.90v67.7h-3.90zM1398.8 233.9h3.90v36.7h-3.90zM1418.3 220.8h3.90v40.4h-3.90zM1422.2 229.9h3.90v64.5h-3.90zM1426.1 223.9h3.90v60.1h-3.90zM1430.0 215.0h3.90v73.0h-3.90zM1433.9 218.1h3.90v61.9h-3.90zM1437.8 230.9h3.90v44.7h-3.90zM1441.7 212.0h3.90v68.0h-3.90zM1445.6 229.3h3.90v36.5h-3.90zM1453.4 224.6h3.90v59.4h-3.90zM1457.3 231.6h3.90v66.2h-3.90zM1461.2 220.0h3.90v63.2h-3.90zM1465.1 235.4h3.90v65.5h-3.90zM1472.9 205.2h3.90v101.8h-3.90zM1476.8 210.0h3.90v83.8h-3.90zM1480.7 221.8h3.90v60.4h-3.90zM1484.6 222.2h3.90v63.2h-3.90zM1488.5 211.4h3.90v83.0h-3.90zM1496.3 240.4h3.90v61.7h-3.90zM1500.2 224.8h3.90v60.2h-3.90zM1504.1 219.9h3.90v61.7h-3.90z" fill="rgb(240,20,215)" fill-opacity="0.1"/>
<path d="M88.9 232.5h3.90v58.5h-3.90zM92.8 233.1h3.90v61.5h-3.90zM96.7 233.9h3.90v38.0h-3.90zM100.6 228.4h3.90v69.0h-3.90zM108.4 232.4h3.90v55.0h-3.90zM112.3 233.4h3.90v59.3h-3.90zM124.0 242.4h3.90v58.3h-3.90zM127.9 230.8h3.90v73.2h-3.90zM131.8 239.6h3.90v57.4h-3.90zM135.7 239.6h3.90v66.3h-3.90zM139.6 243.6h3.90v63.2h-3.90zM143.5 234.7h3.90v77.3h-3.90zM147.4 241.4h3.90v74.5h-3.90zM151.3 243.2h3.90v62.2h-3.90zM155.2 230.8h3.90v85.3h-3.90zM159.1 234.8h3.90v60.8h-3.90zM163.0 249.5h3.90v29.4h-3.90zM166.9 259.5h3.90v32.8h-3.90zM170.8 239.3h3.90v48.3h-3.90zM178.6 237.3h3.90v63.2h-3.90zM190.3 241.1h3.90v36.4h-3.90zM194.2 242.1h3.90v31.2h-3.90zM198.1 242.2h3.90v43.8h-3.90zM202.0 246.7h3.90v31.8h-3.90zM205.9 230.3h3.90v58.5h-3.90zM213.7 252.8h3.90v35.2h-3.90zM217.6 242.3h3.90v39.7h-3.90zM229.2 241.3h3.90v45.6h-3.90zM233.1 233.5h3.90v45.6h-3.90zM237.0 234.6h3.90v51.0h-3.90zM240.9 241.9h3.90v39.7h-3.90zM244.8 237.3h3.90v58.0h-3.90zM248.7 235.7h3.90v60.2h-3.90zM252.6 242.1h3.90v40.8h-3.90zM256.5 245.8h3.90v44.8h-3.90zM260.4 216.0h3.90v54.1h-3.90zM264.3 237.1h3.90v57.0h-3.90zM276.0 232.7h3.90v42.5h-3.90zM279.9 235.4h3.90v61.9h-3.90zM287.7 235.8h3.90v41.3h-3.90zM303.3 227.5h3.90v63.0h-3.90zM311.1 241.1h3.90v36.4h-3.90zM318.9 214.5h3.90v63.2h-3.90zM326.7 239.9h3.90v22.6h-3.90zM330.6 223.8h3.90v56.7h-3.90zM338.4 221.6h3.90v59.1h-3.90zM346.2 227.7h3.90v45.2h-3.90zM350.1 223.5h3.90v54.5h-3.90zM354.0 224.5h3.90v51.1h-3.90zM357.9 219.5h3.90v65.5h-3.90zM365.7 227.5h3.90v39.0h-3.90zM373.5 218.6h3.90v59.3h-3.90zM377.4 201.6h3.90v73.3h-3.90zM385.2 219.8h3.90v67.9h-3.90zM400.8 223.6h3.90v46.3h-3.90zM404.7 219.0h3.90v59.1h-3.90zM408.6 222.3h3.90v59.1h-3.90zM412.5 200.2h3.90v66.7h-3.90zM416.4 222.6h3.90v51.0h-3.90zM420.3 231.2h3.90v35.1h-3.90zM424.2 220.3h3.90v49.2h-3.90zM428.1 222.9h3.90v59.9h-3.90zM435.9 221.8h3.90v40.9h-3.90zM439.8 217.7h3.90v35.7h-3.90zM443.7 213.1h3.90v57.9h-3.90zM447.6 234.6h3.90v25.1h-3.90zM459.3 194.4h3.90v72.3h-3.90zM463.2 207.1h3.90v48.4h-3.90zM467.1 207.8h3.90v48.4h-3.90zM471.0 217.6h3.90v43.5h-3.90zM482.7 211.5h3.90v52.1h-3.90zM486.6 211.6h3.90v60.0h-3.90zM490.5 217.2h3.90v39.5h-3.90zM502.2 196.4h3.90v75.4h-3.90zM513.8 210.4h3.90v50.1h-3.90zM517.7 207.2h3.90v53.1h-3.90zM521.6 214.0h3.90v45.4h-3.90zM525.5 210.3h3.90v46.0h-3.90zM533.3 205.5h3.90v66.9h-3.90zM537.2 207.9h3.90v49.2h-3.90zM541.1 213.8h3.90v57.4h-3.90zM545.0 204.4h3.90v58.9h-3.90zM548.9 198.2h3.90v52.9h-3.90zM560.6 189.9h3.90v52.7h-3.90zM564.5 206.1h3.90v42.8h-3.90zM568.4 203.2h3.90v58.6h-3.90zM576.2 203.2h3.90v56.0h-3.90zM584.0 190.7h3.90v64.1h-3.90zM587.9 189.6h3.90v63.3h-3.90zM599.6 198.4h3.90v47.9h-3.90zM603.5 184.5h3.90v66.9h-3.90zM607.4 201.7h3.90v38.9h-3.90zM611.3 185.6h3.90v64.9h-3.90zM623.0 189.2h3.90v58.5h-3.90zM626.9 195.9h3.90v47.2h-3.90zM634.7 191.4h3.90v43.7h-3.90zM646.4 189.4h3.90v47.9h-3.90zM654.2 193.8h3.90v48.3h-3.90zM658.1 195.1h3.90v48.2h-3.90zM662.0 189.0h3.90v49.8h-3.90zM665.9 197.0h3.90v41.6h-3.90zM669.8 185.6h3.90v48.7h-3.90zM677.6 190.6h3.90v53.6h-3.90zM681.5 180.2h3.90v43.1h-3.90zM685.4 185.8h3.90v50.0h-3.90zM689.3 192.3h3.90v39.2h-3.90zM708.8 192.2h3.90v36.1h-3.90zM716.6 181.6h3.90v44.4h-3.90zM736.1 183.1h3.90v29.2h-3.90zM740.0 194.1h3.90v31.7h-3.90zM747.8 181.6h3.90v39.6h-3.90zM755.6 190.3h3.90v23.6h-3.90zM759.5 182.7h3.90v37.5h-3.90zM763.4 182.8h3.90v33.4h-3.90zM779.0 186.2h3.90v37.9h-3.90zM782.9 174.9h3.90v44.1h-3.90zM786.8 183.2h3.90v35.9h-3.90zM794.6 181.5h3.90v50.0h-3.90zM798.4 171.4h3.90v48.8h-3.90zM806.2 180.2h3.90v34.3h-3.90zM810.1 174.4h3.90v47.4h-3.90zM825.7 179.4h3.90v37.3h-3.90zM829.6 179.7h3.90v33.2h-3.90zM833.5 184.1h3.90v29.9h-3.90zM845.2 179.0h3.90v45.3h-3.90zM853.0 172.1h3.90v40.9h-3.90zM864.7 185.3h3.90v24.9h-3.90zM868.6 185.4h3.90v26.7h-3.90zM872.5 180.8h3.90v33.5h-3.90zM880.3 177.1h3.90v39.0h-3.90zM884.2 175.1h3.90v43.0h-3.90zM892.0 180.0h3.90v39.4h-3.90zM895.9 171.3h3.90v37.0h-3.90zM907.6 184.2h3.90v25.7h-3.90zM915.4 181.1h3.90v34.1h-3.90zM919.3 173.3h3.90v39.2h-3.90zM931.0 188.7h3.90v26.8h-3.90zM934.9 184.9h3.90v31.3h-3.90zM942.7 175.7h3.90v32.0h-3.90zM946.6 178.5h3.90v38.9h-3.90zM950.5 174.6h3.90v40.7h-3.90zM962.2 175.9h3.90v41.4h-3.90zM966.1 173.4h3.90v47.9h-3.90zM970.0 182.7h3.90v40.3h-3.90zM973.9 171.9h3.90v48.7h-3.90zM977.8 181.5h3.90v37.9h-3.90zM981.7 177.7h3.90v36.6h-3.90zM985.6 181.0h3.90v26.6h-3.90zM989.5 180.4h3.90v32.5h-3.90zM993.4 177.8h3.90v46.7h-3.90zM997.3 182.7h3.90v33.3h-3.90zM1001.2 182.1h3.90v36.8h-3.90zM1009.0 174.3h3.90v37.1h-3.90zM1012.9 180.2h3.90v31.9h-3.90zM1016.8 179.5h3.90v41.4h-3.90zM1020.7 179.4h3.90v40.0h-3.90zM1028.5 177.0h3.90v36.2h-3.90zM1032.4 182.0h3.90v44.4h-3.90zM1036.3 178.3h3.90v40.7h-3.90zM1040.2 178.1h3.90v46.9h-3.90zM1044.1 174.6h3.90v37.7h-3.90zM1051.9 181.1h3.90v32.6h-3.90zM1055.8 179.0h3.90v36.8h-3.90zM1059.7 177.1h3.90v41.7h-3.90zM1067.5 176.8h3.90v42.2h-3.90zM1083.0 171.6h3.90v38.0h-3.90zM1086.9 183.2h3.90v32.6h-3.90zM1090.8 181.1h3.90v34.6h-3.90zM1094.7 178.5h3.90v31.3h-3.90zM1098.6 173.5h3.90v51.8h-3.90zM1102.5 178.4h3.90v43.4h-3.90zM1110.3 181.2h3.90v32.7h-3.90zM1114.2 185.8h3.90v24.3h-3.90zM1122.0 189.2h3.90v40.7h-3.90zM1125.9 182.9h3.90v44.5h-3.90zM1129.8 189.3h3.90v24.4h-3.90zM1133.7 185.9h3.90v26.5h-3.90zM1137.6 189.0h3.90v42.0h-3.90zM1141.5 187.4h3.90v32.3h-3.90zM1145.4 191.8h3.90v31.5h-3.90zM1149.3 190.8h3.90v35.8h-3.90zM1157.1 200.7h3.90v32.0h-3.90zM1161.0 187.0h3.90v54.2h-3.90zM1164.9 188.3h3.90v55.1h-3.90zM1168.8 194.4h3.90v37.0h-3.90zM1184.4 201.6h3.90v37.8h-3.90zM1192.2 210.1h3.90v20.8h-3.90zM1196.1 195.1h3.90v47.4h-3.90zM1200.0 203.6h3.90v39.7h-3.90zM1203.9 204.9h3.90v32.2h-3.90zM1211.7 196.4h3.90v41.7h-3.90zM1219.5 204.7h3.90v38.5h-3.90zM1223.4 200.5h3.90v42.4h-3.90zM1231.2 202.5h3.90v35.1h-3.90zM1235.1 205.0h3.90v25.7h-3.90zM1242.9 206.1h3.90v31.9h-3.90zM1246.8 198.5h3.90v42.5h-3.90zM1258.5 210.6h3.90v31.5h-3.90zM1262.4 211.8h3.90v32.5h-3.90zM1270.2 206.2h3.90v50.6h-3.90zM1278.0 210.1h3.90v40.5h-3.90zM1281.9 206.0h3.90v43.2h-3.90zM1285.8 209.5h3.90v37.7h-3.90zM1313.1 217.0h3.90v38.6h-3.90zM1317.0 210.5h3.90v51.8h-3.90zM1324.8 220.2h3.90v40.0h-3.90zM1336.5 206.1h3.90v56.3h-3.90zM1340.4 208.2h3.90v59.5h-3.90zM1348.2 219.3h3.90v40.9h-3.90zM1359.9 212.3h3.90v54.9h-3.90zM1363.8 214.9h3.90v47.9h-3.90zM1367.6 201.8h3.90v54.7h-3.90zM1371.5 218.9h3.90v35.5h-3.90zM1375.4 217.1h3.90v45.8h-3.90zM1379.3 211.3h3.90v55.8h-3.90zM1387.1 214.5h3.90v52.3h-3.90zM1391.0 218.9h3.90v53.8h-3.90zM1394.9 200.8h3.90v91.3h-3.90zM1402.7 219.5h3.90v62.0h-3.90zM1406.6 219.0h3.90v42.9h-3.90zM1414.4 220.8h3.90v59.5h-3.90zM1418.3 213.0h3.90v70.2h-3.90zM1422.2 215.1h3.90v65.0h-3.90zM1433.9 230.7h3.90v52.8h-3.90zM1437.8 211.7h3.90v73.8h-3.90zM1445.6 212.0h3.90v80.1h-3.90zM1449.5 219.0h3.90v54.2h-3.90zM1453.4 226.0h3.90v36.4h-3.90zM1457.3 220.9h3.90v51.9h-3.90zM1465.1 236.8h3.90v34.5h-3.90zM1469.0 222.5h3.90v64.3h-3.90zM1476.8 221.6h3.90v73.0h-3.90zM1480.7 235.4h3.90v40.1h-3.90zM1488.5 224.5h3.90v57.7h-3.90zM1500.2 224.2h3.90v55.5h-3.90zM1504.1 216.8h3.90v80.3h-3.90z" fill="rgb(240,20,215)" fill-opacity="0.1"/>
<path d="M88.9 245.5h3.90v33.7h-3.90zM92.8 236.3h3.90v40.5h-3.90zM96.7 232.1h3.90v56.7h-3.90zM104.5 237.1h3.90v54.7h-3.90zM108.4 231.6h3.90v56.4h-3.90zM120.1 239.0h3.90v58.1h-3.90zM124.0 232.8h3.90v61.9h-3.90zM127.9 249.3h3.90v34.4h-3.90zM131.8 230.2h3.90v61.1h-3.90zM135.7 240.5h3.90v61.3h-3.90zM139.6 219.5h3.90v56.2h-3.90zM143.5 239.2h3.90v55.9h-3.90zM147.4 241.2h3.90v64.0h-3.90zM155.2 251.5h3.90v13.2h-3.90zM159.1 246.7h3.90v34.6h-3.90zM163.0 247.0h3.90v53.5h-3.90zM170.8 233.8h3.90v42.7h-3.90zM174.7 232.3h3.90v68.8h-3.90zM182.5 235.8h3.90v46.0h-3.90zM190.3 254.4h3.90v30.8h-3.90zM194.2 236.7h3.90v58.5h-3.90zM198.1 259.5h3.90v47.0h-3.90zM209.8 248.1h3.90v33.3h-3.90zM217.6 240.2h3.90v42.7h-3.90zM221.5 219.8h3.90v75.1h-3.90zM225.4 229.4h3.90v50.5h-3.90zM233.1 249.9h3.90v16.0h-3.90zM237.0 227.8h3.90v58.2h-3.90zM240.9 241.9h3.90v22.9h-3.90zM244.8 241.5h3.90v63.8h-3.90zM248.7 237.2h3.90v31.4h-3.90zM252.6 237.0h3.90v49.9h-3.90zM256.5 233.4h3.90v46.4h-3.90zM260.4 251.9h3.90v46.5h-3.90zM268.2 231.8h3.90v40.1h-3.90zM272.1 222.0h3.90v40.4h-3.90zM291.6 239.1h3.90v42.5h-3.90zM303.3 218.5h3.90v65.4h-3.90zM311.1 245.3h3.90v25.3h-3.90zM315.0 223.9h3.90v45.7h-3.90zM318.9 218.4h3.90v50.9h-3.90zM326.7 237.3h3.90v30.6h-3.90zM334.5 223.6h3.90v57.0h-3.90zM350.1 222.7h3.90v51.8h-3.90zM365.7 232.9h3.90v38.4h-3.90zM369.6 221.3h3.90v54.1h-3.90zM373.5 227.3h3.90v40.8h-3.90zM377.4 220.2h3.90v47.0h-3.90zM389.1 223.5h3.90v39.0h-3.90zM393.0 226.6h3.90v38.9h-3.90zM396.9 212.8h3.90v56.4h-3.90zM400.8 219.8h3.90v39.7h-3.90zM416.4 220.3h3.90v62.8h-3.90zM420.3 219.7h3.90v54.1h-3.90zM428.1 227.8h3.90v27.9h-3.90zM443.7 208.2h3.90v53.8h-3.90zM447.6 220.9h3.90v39.6h-3.90zM451.5 222.5h3.90v49.7h-3.90zM459.3 221.7h3.90v33.4h-3.90zM467.1 215.1h3.90v38.3h-3.90zM471.0 204.2h3.90v67.4h-3.90zM474.9 215.1h3.90v32.5h-3.90zM486.6 229.7h3.90v32.2h-3.90zM498.3 222.3h3.90v38.8h-3.90zM506.1 217.0h3.90v46.5h-3.90zM525.5 204.5h3.90v48.1h-3.90zM529.4 212.9h3.90v39.9h-3.90zM537.2 211.8h3.90v27.5h-3.90zM541.1 218.7h3.90v39.8h-3.90zM545.0 204.7h3.90v46.2h-3.90zM548.9 200.8h3.90v38.8h-3.90zM556.7 210.3h3.90v32.3h-3.90zM568.4 206.8h3.90v35.0h-3.90zM572.3 202.3h3.90v27.8h-3.90zM576.2 194.0h3.90v51.2h-3.90zM580.1 208.0h3.90v46.0h-3.90zM584.0 200.8h3.90v45.4h-3.90zM591.8 196.5h3.90v39.2h-3.90zM603.5 196.8h3.90v51.3h-3.90zM607.4 207.7h3.90v40.5h-3.90zM611.3 195.7h3.90v45.1h-3.90zM615.2 196.4h3.90v44.9h-3.90zM619.1 189.3h3.90v58.1h-3.90zM623.0 196.1h3.90v46.3h-3.90zM626.9 199.9h3.90v41.0h-3.90zM630.8 194.7h3.90v48.1h-3.90zM634.7 193.1h3.90v43.5h-3.90zM638.6 196.0h3.90v50.3h-3.90zM642.5 195.1h3.90v30.4h-3.90zM650.3 205.1h3.90v44.5h-3.90zM658.1 193.8h3.90v33.0h-3.90zM669.8 192.2h3.90v40.9h-3.90zM681.5 183.3h3.90v48.8h-3.90zM685.4 189.9h3.90v37.9h-3.90zM689.3 201.9h3.90v27.7h-3.90zM697.1 193.2h3.90v31.6h-3.90zM708.8 198.0h3.90v20.8h-3.90zM716.6 196.8h3.90v30.7h-3.90zM720.5 184.5h3.90v34.0h-3.90zM728.3 189.1h3.90v23.8h-3.90zM736.1 185.5h3.90v31.5h-3.90zM740.0 187.3h3.90v39.4h-3.90zM743.9 183.1h3.90v38.8h-3.90zM747.8 193.0h3.90v28.0h-3.90zM755.6 188.8h3.90v36.1h-3.90zM759.5 195.9h3.90v30.9h-3.90zM763.4 187.9h3.90v22.6h-3.90zM775.1 183.3h3.90v34.0h-3.90zM782.9 180.8h3.90v34.5h-3.90zM790.7 178.1h3.90v35.5h-3.90zM794.6 193.3h3.90v22.2h-3.90zM798.4 182.7h3.90v28.8h-3.90zM802.3 192.3h3.90v17.4h-3.90zM806.2 184.6h3.90v45.2h-3.90zM810.1 177.2h3.90v38.6h-3.90zM814.0 172.0h3.90v35.4h-3.90zM817.9 181.1h3.90v39.9h-3.90zM833.5 187.4h3.90v15.2h-3.90zM837.4 183.8h3.90v30.8h-3.90zM845.2 184.1h3.90v24.0h-3.90zM849.1 181.2h3.90v31.7h-3.90zM860.8 176.1h3.90v39.7h-3.90zM872.5 186.5h3.90v30.1h-3.90zM884.2 184.2h3.90v29.4h-3.90zM903.7 174.8h3.90v33.6h-3.90zM907.6 184.5h3.90v25.3h-3.90zM911.5 184.5h3.90v23.3h-3.90zM915.4 180.9h3.90v26.3h-3.90zM934.9 186.3h3.90v23.3h-3.90zM938.8 174.7h3.90v46.3h-3.90zM942.7 186.6h3.90v27.5h-3.90zM954.4 177.8h3.90v21.4h-3.90zM958.3 183.8h3.90v27.0h-3.90zM962.2 175.1h3.90v44.3h-3.90zM966.1 184.9h3.90v38.2h-3.90zM970.0 183.9h3.90v22.0h-3.90zM977.8 191.9h3.90v11.2h-3.90zM981.7 183.3h3.90v21.6h-3.90zM985.6 180.2h3.90v34.7h-3.90zM989.5 181.2h3.90v33.1h-3.90zM993.4 176.8h3.90v39.0h-3.90zM1001.2 182.7h3.90v28.5h-3.90zM1005.1 184.7h3.90v27.2h-3.90zM1009.0 175.1h3.90v36.3h-3.90zM1012.9 184.9h3.90v39.2h-3.90zM1024.6 182.9h3.90v21.0h-3.90zM1032.4 188.0h3.90v32.4h-3.90zM1040.2 179.5h3.90v30.1h-3.90zM1044.1 186.8h3.90v22.5h-3.90zM1051.9 190.1h3.90v26.0h-3.90zM1055.8 185.6h3.90v26.7h-3.90zM1063.6 175.3h3.90v44.3h-3.90zM1071.4 175.6h3.90v36.7h-3.90zM1075.3 182.8h3.90v19.6h-3.90zM1079.2 182.8h3.90v33.3h-3.90zM1083.0 183.3h3.90v41.6h-3.90zM1086.9 180.8h3.90v27.5h-3.90zM1094.7 183.9h3.90v34.2h-3.90zM1098.6 183.3h3.90v42.9h-3.90zM1114.2 182.2h3.90v33.3h-3.90zM1118.1 177.0h3.90v47.3h-3.90zM1122.0 190.9h3.90v29.7h-3.90zM1145.4 200.9h3.90v20.8h-3.90zM1153.2 193.7h3.90v26.8h-3.90zM1161.0 189.8h3.90v37.4h-3.90zM1164.9 200.3h3.90v27.9h-3.90zM1168.8 203.1h3.90v18.7h-3.90zM1172.7 200.7h3.90v26.6h-3.90zM1184.4 199.8h3.90v36.2h-3.90zM1203.9 211.0h3.90v30.2h-3.90zM1207.8 198.6h3.90v45.5h-3.90zM1211.7 195.9h3.90v36.6h-3.90zM1215.6 203.6h3.90v29.3h-3.90zM1219.5 201.9h3.90v42.3h-3.90zM1223.4 203.0h3.90v29.4h-3.90zM1235.1 203.3h3.90v38.9h-3.90zM1242.9 211.3h3.90v26.8h-3.90zM1246.8 207.7h3.90v24.7h-3.90zM1250.7 203.6h3.90v39.7h-3.90zM1254.6 203.9h3.90v43.4h-3.90zM1258.5 221.8h3.90v24.5h-3.90zM1266.3 208.4h3.90v40.8h-3.90zM1270.2 204.1h3.90v50.7h-3.90zM1278.0 208.8h3.90v38.2h-3.90zM1281.9 207.5h3.90v43.7h-3.90zM1293.6 221.9h3.90v12.5h-3.90zM1305.3 224.0h3.90v23.4h-3.90zM1309.2 218.4h3.90v44.6h-3.90zM1313.1 228.4h3.90v15.6h-3.90zM1332.6 217.0h3.90v31.0h-3.90zM1340.4 229.5h3.90v20.9h-3.90zM1352.1 227.8h3.90v17.3h-3.90zM1371.5 226.2h3.90v31.3h-3.90zM1383.2 228.3h3.90v51.2h-3.90zM1391.0 221.9h3.90v32.4h-3.90zM1398.8 233.9h3.90v22.7h-3.90zM1402.7 224.4h3.90v32.1h-3.90zM1406.6 215.4h3.90v69.3h-3.90zM1410.5 227.8h3.90v52.5h-3.90zM1414.4 228.4h3.90v47.7h-3.90zM1418.3 210.0h3.90v67.2h-3.90zM1437.8 213.9h3.90v54.3h-3.90zM1441.7 221.0h3.90v44.5h-3.90zM1445.6 214.4h3.90v85.4h-3.90zM1449.5 216.7h3.90v45.3h-3.90zM1453.4 235.3h3.90v60.6h-3.90zM1457.3 211.4h3.90v79.2h-3.90zM1461.2 222.1h3.90v41.6h-3.90zM1465.1 235.1h3.90v54.8h-3.90zM1469.0 221.7h3.90v27.2h-3.90zM1472.9 227.4h3.90v46.4h-3.90zM1476.8 216.4h3.90v47.6h-3.90zM1484.6 231.6h3.90v40.7h-3.90zM1488.5 237.2h3.90v39.5h-3.90zM1492.4 228.3h3.90v59.1h-3.90zM1500.2 233.4h3.90v49.0h-3.90z" fill="rgb(240,20,215)" fill-opacity="0.1"/>
<path d="M85.0 231.3h3.90v48.0h-3.90zM100.6 237.7h3.90v35.6h-3.90zM104.5 240.4h3.90v48.3h-3.90zM112.3 248.0h3.90v37.2h-3.90zM116.2 251.6h3.90v42.8h-3.90zM120.1 234.4h3.90v59.7h-3.90zM127.9 240.2h3.90v55.4h-3.90zM131.8 242.5h3.90v43.2h-3.90zM139.6 253.4h3.90v29.8h-3.90zM143.5 236.4h3.90v57.6h-3.90zM147.4 238.2h3.90v48.3h-3.90zM151.3 244.3h3.90v31.7h-3.90zM163.0 232.6h3.90v45.6h-3.90zM166.9 246.7h3.90v19.4h-3.90zM170.8 250.7h3.90v38.9h-3.90zM194.2 245.8h3.90v18.9h-3.90zM213.7 236.8h3.90v29.9h-3.90zM221.5 234.5h3.90v54.5h-3.90zM225.4 252.3h3.90v35.9h-3.90zM229.2 232.3h3.90v34.2h-3.90zM233.1 257.4h3.90v13.5h-3.90zM240.9 234.4h3.90v28.7h-3.90zM244.8 254.3h3.90v39.9h-3.90zM260.4 223.8h3.90v39.7h-3.90zM264.3 250.3h3.90v44.8h-3.90zM268.2 238.1h3.90v30.5h-3.90zM279.9 229.9h3.90v51.9h-3.90zM283.8 244.1h3.90v22.4h-3.90zM287.7 235.7h3.90v44.7h-3.90zM303.3 239.3h3.90v31.2h-3.90zM307.2 237.2h3.90v22.1h-3.90zM311.1 244.4h3.90v36.0h-3.90zM318.9 232.3h3.90v46.3h-3.90zM326.7 225.9h3.90v38.5h-3.90zM330.6 232.3h3.90v29.3h-3.90zM334.5 224.3h3.90v43.1h-3.90zM342.3 222.9h3.90v44.6h-3.90zM350.1 220.2h3.90v57.4h-3.90zM357.9 219.1h3.90v44.1h-3.90zM361.8 232.0h3.90v28.4h-3.90zM373.5 222.5h3.90v35.0h-3.90zM381.3 233.7h3.90v25.1h-3.90zM393.0 234.3h3.90v24.1h-3.90zM396.9 232.6h3.90v34.1h-3.90zM400.8 218.3h3.90v38.6h-3.90zM404.7 237.3h3.90v27.4h-3.90zM408.6 220.3h3.90v45.1h-3.90zM412.5 247.1h3.90v8.3h-3.90zM428.1 228.0h3.90v35.2h-3.90zM443.7 220.5h3.90v40.1h-3.90zM447.6 219.1h3.90v37.0h-3.90zM451.5 215.7h3.90v54.0h-3.90zM455.4 214.9h3.90v44.5h-3.90zM459.3 227.2h3.90v38.2h-3.90zM463.2 209.9h3.90v52.8h-3.90zM467.1 217.0h3.90v45.7h-3.90zM478.8 224.8h3.90v40.0h-3.90zM494.4 222.5h3.90v35.2h-3.90zM498.3 210.7h3.90v34.2h-3.90zM506.1 210.0h3.90v50.5h-3.90zM517.7 224.0h3.90v41.7h-3.90zM521.6 214.3h3.90v38.1h-3.90zM529.4 213.5h3.90v35.8h-3.90zM537.2 214.9h3.90v42.7h-3.90zM545.0 213.2h3.90v36.1h-3.90zM552.8 199.6h3.90v58.1h-3.90zM564.5 199.8h3.90v56.9h-3.90zM572.3 214.0h3.90v18.3h-3.90zM584.0 213.7h3.90v33.3h-3.90zM587.9 197.6h3.90v52.2h-3.90zM591.8 199.5h3.90v46.7h-3.90zM595.7 204.5h3.90v34.7h-3.90zM599.6 191.2h3.90v52.2h-3.90zM611.3 199.7h3.90v44.3h-3.90zM619.1 201.4h3.90v35.8h-3.90zM623.0 201.1h3.90v54.3h-3.90zM630.8 202.7h3.90v35.0h-3.90zM638.6 195.7h3.90v40.3h-3.90zM642.5 200.5h3.90v37.0h-3.90zM654.2 191.1h3.90v44.6h-3.90zM662.0 193.3h3.90v43.0h-3.90zM669.8 200.2h3.90v19.8h-3.90zM673.7 191.7h3.90v33.0h-3.90zM677.6 193.9h3.90v35.6h-3.90zM689.3 185.7h3.90v45.9h-3.90zM693.2 194.3h3.90v28.0h-3.90zM697.1 195.9h3.90v25.5h-3.90zM704.9 192.8h3.90v22.0h-3.90zM708.8 190.1h3.90v23.2h-3.90zM716.6 193.4h3.90v30.9h-3.90zM724.4 190.3h3.90v27.6h-3.90zM728.3 193.4h3.90v19.2h-3.90zM732.2 189.8h3.90v27.8h-3.90zM736.1 186.9h3.90v33.1h-3.90zM740.0 195.3h3.90v26.1h-3.90zM743.9 188.9h3.90v16.3h-3.90zM751.7 187.7h3.90v30.3h-3.90zM755.6 189.1h3.90v26.9h-3.90zM759.5 194.2h3.90v22.9h-3.90zM767.3 189.4h3.90v30.4h-3.90zM775.1 196.5h3.90v27.6h-3.90zM782.9 183.7h3.90v17.1h-3.90zM794.6 187.0h3.90v25.5h-3.90zM814.0 190.7h3.90v14.9h-3.90zM825.7 184.3h3.90v26.0h-3.90zM833.5 182.4h3.90v27.5h-3.90zM841.3 187.3h3.90v25.9h-3.90zM845.2 182.6h3.90v22.7h-3.90zM853.0 186.9h3.90v27.1h-3.90zM864.7 176.6h3.90v30.6h-3.90zM868.6 174.9h3.90v42.5h-3.90zM872.5 183.3h3.90v24.8h-3.90zM888.1 182.4h3.90v33.4h-3.90zM892.0 180.2h3.90v32.0h-3.90zM899.8 183.0h3.90v30.7h-3.90zM903.7 177.8h3.90v34.7h-3.90zM907.6 189.9h3.90v17.3h-3.90zM911.5 190.0h3.90v19.1h-3.90zM919.3 181.7h3.90v33.5h-3.90zM927.1 186.3h3.90v21.2h-3.90zM931.0 179.5h3.90v17.3h-3.90zM938.8 184.9h3.90v16.5h-3.90zM942.7 193.4h3.90v16.9h-3.90zM946.6 179.9h3.90v28.3h-3.90zM958.3 181.2h3.90v27.8h-3.90zM962.2 175.3h3.90v40.8h-3.90zM970.0 185.5h3.90v27.6h-3.90zM973.9 188.1h3.90v22.2h-3.90zM977.8 176.9h3.90v32.5h-3.90zM981.7 182.3h3.90v28.5h-3.90zM985.6 185.0h3.90v28.3h-3.90zM989.5 180.2h3.90v24.3h-3.90zM993.4 181.0h3.90v26.3h-3.90zM997.3 181.5h3.90v21.0h-3.90zM1001.2 183.0h3.90v23.9h-3.90zM1005.1 188.1h3.90v22.4h-3.90zM1012.9 184.0h3.90v24.7h-3.90zM1016.8 179.2h3.90v28.8h-3.90zM1024.6 177.1h3.90v27.5h-3.90zM1028.5 187.5h3.90v25.1h-3.90zM1032.4 189.2h3.90v16.7h-3.90zM1040.2 181.4h3.90v15.3h-3.90zM1048.0 181.9h3.90v32.4h-3.90zM1059.7 178.2h3.90v28.4h-3.90zM1079.2 181.7h3.90v23.3h-3.90zM1083.0 183.1h3.90v39.3h-3.90zM1086.9 183.7h3.90v33.7h-3.90zM1094.7 190.9h3.90v23.4h-3.90zM1110.3 190.4h3.90v27.6h-3.90zM1122.0 189.9h3.90v35.5h-3.90zM1129.8 197.6h3.90v21.7h-3.90zM1141.5 195.0h3.90v27.8h-3.90zM1145.4 198.6h3.90v20.7h-3.90zM1153.2 200.0h3.90v28.4h-3.90zM1157.1 195.0h3.90v38.0h-3.90zM1161.0 199.1h3.90v32.3h-3.90zM1168.8 210.1h3.90v32.3h-3.90zM1172.7 198.8h3.90v34.1h-3.90zM1176.6 201.0h3.90v26.7h-3.90zM1188.3 204.1h3.90v21.5h-3.90zM1192.2 203.6h3.90v24.5h-3.90zM1196.1 197.6h3.90v29.9h-3.90zM1203.9 205.6h3.90v24.1h-3.90zM1207.8 201.8h3.90v32.8h-3.90zM1211.7 205.5h3.90v30.8h-3.90zM1219.5 214.1h3.90v7.1h-3.90zM1227.3 204.4h3.90v32.9h-3.90zM1231.2 207.9h3.90v30.9h-3.90zM1235.1 216.3h3.90v17.7h-3.90zM1239.0 210.6h3.90v17.8h-3.90zM1242.9 203.7h3.90v21.7h-3.90zM1246.8 210.5h3.90v19.4h-3.90zM1250.7 202.1h3.90v39.6h-3.90zM1254.6 209.9h3.90v25.5h-3.90zM1266.3 213.8h3.90v29.9h-3.90zM1274.1 213.5h3.90v26.1h-3.90zM1278.0 215.9h3.90v26.9h-3.90zM1281.9 210.4h3.90v28.5h-3.90zM1285.8 209.5h3.90v25.7h-3.90zM1289.7 214.2h3.90v30.4h-3.90zM1301.4 218.4h3.90v33.4h-3.90zM1305.3 225.3h3.90v30.1h-3.90zM1309.2 220.1h3.90v29.8h-3.90zM1313.1 217.3h3.90v30.4h-3.90zM1317.0 215.6h3.90v41.9h-3.90zM1336.5 213.1h3.90v26.8h-3.90zM1340.4 229.6h3.90v17.5h-3.90zM1348.2 226.1h3.90v36.0h-3.90zM1352.1 216.3h3.90v32.8h-3.90zM1356.0 226.0h3.90v43.0h-3.90zM1359.9 227.3h3.90v31.2h-3.90zM1363.8 211.4h3.90v41.1h-3.90zM1375.4 222.7h3.90v44.0h-3.90zM1379.3 216.6h3.90v38.6h-3.90zM1402.7 237.0h3.90v11.9h-3.90zM1414.4 238.1h3.90v23.8h-3.90zM1418.3 227.3h3.90v19.9h-3.90zM1422.2 239.6h3.90v24.5h-3.90zM1426.1 239.5h3.90v7.3h-3.90zM1433.9 226.3h3.90v36.9h-3.90zM1437.8 234.9h3.90v42.3h-3.90zM1453.4 222.1h3.90v68.6h-3.90zM1457.3 241.4h3.90v18.2h-3.90zM1461.2 238.1h3.90v11.2h-3.90zM1465.1 230.4h3.90v36.0h-3.90zM1472.9 221.6h3.90v38.0h-3.90zM1480.7 227.3h3.90v42.3h-3.90zM1484.6 232.7h3.90v22.7h-3.90zM1488.5 236.5h3.90v26.0h-3.90zM1492.4 225.4h3.90v61.1h-3.90zM1496.3 247.3h3.90v47.4h-3.90z" fill="rgb(240,20,215)" fill-opacity="0.1"/>
<path d="M85.0 247.4h3.90v16.8h-3.90zM92.8 254.2h3.90v42.4h-3.90zM108.4 247.6h3.90v13.9h-3.90zM112.3 244.9h3.90v39.0h-3.90zM116.2 260.7h3.90v12.1h-3.90zM120.1 257.4h3.90v18.9h-3.90zM124.0 235.6h3.90v59.0h-3.90zM131.8 251.8h3.90v46.7h-3.90zM135.7 249.5h3.90v41.3h-3.90zM139.6 258.7h3.90v11.4h-3.90zM151.3 260.7h3.90v30.7h-3.90zM166.9 233.9h3.90v31.6h-3.90zM170.8 241.1h3.90v32.9h-3.90zM174.7 243.6h3.90v30.0h-3.90zM178.6 246.5h3.90v10.7h-3.90zM182.5 258.4h3.90v8.1h-3.90zM186.4 252.8h3.90v21.4h-3.90zM190.3 238.1h3.90v43.2h-3.90zM194.2 256.3h3.90v32.1h-3.90zM198.1 239.3h3.90v38.9h-3.90zM202.0 234.8h3.90v62.4h-3.90zM205.9 247.3h3.90v32.5h-3.90zM209.8 239.5h3.90v31.7h-3.90zM217.6 233.1h3.90v63.2h-3.90zM221.5 237.9h3.90v48.7h-3.90zM233.1 256.2h3.90v4.0h-3.90zM237.0 234.8h3.90v59.1h-3.90zM240.9 250.7h3.90v28.1h-3.90zM248.7 240.5h3.90v32.0h-3.90zM252.6 242.2h3.90v28.4h-3.90zM256.5 244.8h3.90v40.4h-3.90zM264.3 234.1h3.90v44.4h-3.90zM272.1 256.2h3.90v4.0h-3.90zM279.9 247.2h3.90v32.8h-3.90zM283.8 250.8h3.90v26.9h-3.90zM299.4 242.4h3.90v30.8h-3.90zM303.3 237.0h3.90v49.6h-3.90zM311.1 238.8h3.90v42.5h-3.90zM334.5 235.6h3.90v29.1h-3.90zM338.4 236.2h3.90v37.4h-3.90zM350.1 235.7h3.90v28.3h-3.90zM354.0 235.5h3.90v24.5h-3.90zM361.8 231.7h3.90v31.1h-3.90zM369.6 229.1h3.90v36.3h-3.90zM373.5 227.8h3.90v41.4h-3.90zM377.4 233.1h3.90v40.0h-3.90zM381.3 229.5h3.90v25.6h-3.90zM385.2 233.3h3.90v30.5h-3.90zM389.1 226.5h3.90v37.9h-3.90zM393.0 231.4h3.90v21.2h-3.90zM396.9 232.5h3.90v29.4h-3.90zM400.8 238.9h3.90v29.9h-3.90zM416.4 239.7h3.90v15.5h-3.90zM424.2 231.3h3.90v40.9h-3.90zM428.1 226.3h3.90v21.6h-3.90zM435.9 220.8h3.90v35.4h-3.90zM443.7 238.8h3.90v29.4h-3.90zM451.5 227.9h3.90v34.2h-3.90zM455.4 215.0h3.90v42.7h-3.90zM459.3 217.8h3.90v33.2h-3.90zM467.1 221.4h3.90v40.1h-3.90zM471.0 209.0h3.90v18.1h-3.90zM474.9 218.2h3.90v32.7h-3.90zM486.6 221.5h3.90v34.5h-3.90zM490.5 222.0h3.90v45.3h-3.90zM494.4 231.6h3.90v13.1h-3.90zM498.3 229.5h3.90v29.3h-3.90zM502.2 229.8h3.90v21.8h-3.90zM510.0 223.3h3.90v29.4h-3.90zM513.8 220.1h3.90v31.0h-3.90zM521.6 212.2h3.90v16.9h-3.90zM529.4 215.2h3.90v38.8h-3.90zM533.3 219.4h3.90v30.2h-3.90zM537.2 210.6h3.90v47.9h-3.90zM541.1 218.0h3.90v24.2h-3.90zM545.0 210.6h3.90v32.4h-3.90zM548.9 210.4h3.90v31.5h-3.90zM552.8 214.7h3.90v16.5h-3.90zM560.6 206.5h3.90v40.8h-3.90zM564.5 209.0h3.90v40.5h-3.90zM568.4 204.1h3.90v35.8h-3.90zM576.2 215.2h3.90v25.2h-3.90zM591.8 204.0h3.90v37.8h-3.90zM599.6 196.7h3.90v45.0h-3.90zM607.4 206.2h3.90v33.1h-3.90zM611.3 202.7h3.90v36.9h-3.90zM615.2 199.2h3.90v33.4h-3.90zM619.1 216.3h3.90v15.2h-3.90zM623.0 199.5h3.90v44.2h-3.90zM626.9 205.1h3.90v38.6h-3.90zM630.8 195.3h3.90v38.2h-3.90zM634.7 208.9h3.90v25.3h-3.90zM638.6 202.4h3.90v29.0h-3.90zM642.5 201.3h3.90v15.9h-3.90zM650.3 200.3h3.90v35.9h-3.90zM658.1 204.7h3.90v18.0h-3.90zM662.0 198.3h3.90v32.9h-3.90zM669.8 198.0h3.90v23.9h-3.90zM677.6 205.1h3.90v22.0h-3.90zM681.5 203.8h3.90v27.9h-3.90zM701.0 197.7h3.90v18.4h-3.90zM716.6 199.3h3.90v14.6h-3.90zM720.5 196.2h3.90v27.1h-3.90zM732.2 204.6h3.90v11.6h-3.90zM740.0 195.0h3.90v11.1h-3.90zM743.9 199.3h3.90v26.4h-3.90zM755.6 196.4h3.90v26.6h-3.90zM763.4 188.5h3.90v29.0h-3.90zM775.1 181.8h3.90v19.7h-3.90zM779.0 193.4h3.90v21.3h-3.90zM790.7 192.0h3.90v27.7h-3.90zM794.6 185.4h3.90v16.3h-3.90zM802.3 190.7h3.90v15.5h-3.90zM806.2 188.8h3.90v23.5h-3.90zM810.1 194.5h3.90v16.0h-3.90zM817.9 186.9h3.90v19.7h-3.90zM821.8 191.0h3.90v10.7h-3.90zM825.7 186.0h3.90v30.1h-3.90zM833.5 191.0h3.90v14.7h-3.90zM837.4 188.1h3.90v27.6h-3.90zM841.3 186.0h3.90v16.0h-3.90zM860.8 191.8h3.90v16.1h-3.90zM864.7 184.0h3.90v15.3h-3.90zM884.2 195.1h3.90v13.4h-3.90zM888.1 182.0h3.90v26.3h-3.90zM911.5 185.7h3.90v23.5h-3.90zM927.1 181.2h3.90v30.9h-3.90zM938.8 186.0h3.90v21.7h-3.90zM942.7 191.1h3.90v4.0h-3.90zM946.6 187.0h3.90v21.0h-3.90zM962.2 183.2h3.90v15.4h-3.90zM970.0 193.1h3.90v9.7h-3.90zM973.9 174.8h3.90v28.1h-3.90zM977.8 188.0h3.90v18.8h-3.90zM981.7 187.3h3.90v20.3h-3.90zM985.6 185.9h3.90v18.8h-3.90zM989.5 187.8h3.90v13.3h-3.90zM993.4 190.1h3.90v16.3h-3.90zM997.3 189.1h3.90v8.8h-3.90zM1001.2 183.8h3.90v18.9h-3.90zM1005.1 195.1h3.90v15.7h-3.90zM1009.0 179.8h3.90v23.0h-3.90zM1016.8 185.9h3.90v20.9h-3.90zM1032.4 190.2h3.90v12.4h-3.90zM1036.3 187.1h3.90v29.6h-3.90zM1040.2 189.4h3.90v32.3h-3.90zM1059.7 183.3h3.90v24.0h-3.90zM1063.6 192.0h3.90v15.7h-3.90zM1075.3 193.6h3.90v19.0h-3.90zM1079.2 186.3h3.90v24.1h-3.90zM1083.0 193.0h3.90v16.7h-3.90zM1090.8 187.9h3.90v24.8h-3.90zM1094.7 197.1h3.90v12.0h-3.90zM1098.6 195.3h3.90v14.5h-3.90zM1102.5 187.7h3.90v29.6h-3.90zM1106.4 190.6h3.90v15.1h-3.90zM1110.3 183.7h3.90v19.2h-3.90zM1133.7 198.2h3.90v26.4h-3.90zM1141.5 190.3h3.90v18.5h-3.90zM1153.2 194.9h3.90v23.0h-3.90zM1157.1 194.4h3.90v29.9h-3.90zM1161.0 201.7h3.90v16.3h-3.90zM1164.9 196.8h3.90v27.6h-3.90zM1168.8 210.1h3.90v14.7h-3.90zM1180.5 205.3h3.90v24.2h-3.90zM1184.4 206.8h3.90v27.7h-3.90zM1188.3 214.8h3.90v6.8h-3.90zM1196.1 217.5h3.90v4.0h-3.90zM1207.8 209.5h3.90v34.2h-3.90zM1215.6 208.8h3.90v18.1h-3.90zM1219.5 198.3h3.90v29.7h-3.90zM1223.4 212.5h3.90v17.7h-3.90zM1227.3 209.1h3.90v28.7h-3.90zM1235.1 214.4h3.90v27.9h-3.90zM1246.8 211.1h3.90v9.4h-3.90zM1254.6 227.5h3.90v13.3h-3.90zM1258.5 207.2h3.90v28.2h-3.90zM1262.4 214.3h3.90v24.2h-3.90zM1266.3 217.5h3.90v16.3h-3.90zM1270.2 222.0h3.90v17.3h-3.90zM1278.0 218.0h3.90v22.5h-3.90zM1285.8 226.5h3.90v25.0h-3.90zM1297.5 225.0h3.90v19.7h-3.90zM1301.4 202.4h3.90v49.2h-3.90zM1305.3 212.7h3.90v38.6h-3.90zM1309.2 209.7h3.90v26.6h-3.90zM1317.0 216.2h3.90v32.3h-3.90zM1320.9 223.0h3.90v30.8h-3.90zM1324.8 227.8h3.90v29.2h-3.90zM1328.7 227.6h3.90v22.2h-3.90zM1336.5 219.7h3.90v35.8h-3.90zM1340.4 222.5h3.90v26.3h-3.90zM1348.2 231.8h3.90v22.9h-3.90zM1356.0 221.3h3.90v23.9h-3.90zM1359.9 227.6h3.90v11.9h-3.90zM1367.6 232.5h3.90v14.3h-3.90zM1371.5 222.4h3.90v40.9h-3.90zM1375.4 233.8h3.90v24.1h-3.90zM1383.2 218.9h3.90v38.3h-3.90zM1394.9 230.2h3.90v31.4h-3.90zM1398.8 234.7h3.90v39.4h-3.90zM1402.7 225.7h3.90v54.5h-3.90zM1406.6 225.1h3.90v59.1h-3.90zM1418.3 230.6h3.90v38.1h-3.90zM1426.1 230.9h3.90v35.7h-3.90zM1430.0 226.1h3.90v45.7h-3.90zM1437.8 227.8h3.90v41.6h-3.90zM1441.7 229.2h3.90v53.3h-3.90zM1461.2 236.4h3.90v16.6h-3.90zM1465.1 223.9h3.90v32.9h-3.90zM1469.0 236.2h3.90v52.6h-3.90zM1476.8 245.6h3.90v23.7h-3.90zM1480.7 231.9h3.90v18.0h-3.90zM1488.5 230.6h3.90v26.9h-3.90zM1496.3 230.3h3.90v45.5h-3.90zM1504.1 256.5h3.90v37.8h-3.90z" fill="rgb(240,20,215)" fill-opacity="0.1"/>
<path d="M85.0 228.9h3.90v42.1h-3.90zM88.9 256.8h3.90v8.3h-3.90zM92.8 253.8h3.90v7.2h-3.90zM100.6 242.5h3.90v28.4h-3.90zM112.3 239.5h3.90v48.2h-3.90zM116.2 246.1h3.90v39.7h-3.90zM127.9 245.6h3.90v28.4h-3.90zM131.8 256.2h3.90v48.3h-3.90zM143.5 263.0h3.90v18.2h-3.90zM151.3 255.3h3.90v40.1h-3.90zM155.2 249.5h3.90v37.0h-3.90zM159.1 244.0h3.90v42.0h-3.90zM163.0 243.3h3.90v35.0h-3.90zM170.8 259.0h3.90v4.0h-3.90zM174.7 261.9h3.90v12.1h-3.90zM178.6 241.8h3.90v36.3h-3.90zM182.5 251.6h3.90v21.8h-3.90zM186.4 247.5h3.90v20.6h-3.90zM190.3 249.4h3.90v15.9h-3.90zM194.2 247.4h3.90v29.1h-3.90zM198.1 249.0h3.90v28.6h-3.90zM202.0 244.0h3.90v21.8h-3.90zM205.9 250.8h3.90v27.1h-3.90zM209.8 257.2h3.90v18.0h-3.90zM217.6 260.4h3.90v17.1h-3.90zM225.4 252.4h3.90v22.8h-3.90zM229.2 256.2h3.90v27.1h-3.90zM233.1 249.1h3.90v11.9h-3.90zM240.9 255.5h3.90v5.1h-3.90zM244.8 249.2h3.90v20.1h-3.90zM252.6 246.9h3.90v19.0h-3.90zM256.5 260.5h3.90v20.8h-3.90zM260.4 237.1h3.90v33.0h-3.90zM268.2 246.6h3.90v48.5h-3.90zM272.1 247.4h3.90v35.3h-3.90zM279.9 244.9h3.90v40.2h-3.90zM283.8 252.4h3.90v18.6h-3.90zM287.7 245.5h3.90v36.1h-3.90zM291.6 241.2h3.90v19.0h-3.90zM299.4 253.3h3.90v16.6h-3.90zM315.0 244.5h3.90v20.5h-3.90zM326.7 253.2h3.90v17.4h-3.90zM342.3 253.4h3.90v17.7h-3.90zM346.2 242.6h3.90v34.9h-3.90zM350.1 241.8h3.90v29.6h-3.90zM357.9 240.2h3.90v18.4h-3.90zM361.8 236.1h3.90v21.3h-3.90zM365.7 236.1h3.90v36.4h-3.90zM369.6 237.3h3.90v43.2h-3.90zM377.4 235.0h3.90v18.8h-3.90zM381.3 235.0h3.90v20.7h-3.90zM385.2 239.7h3.90v25.8h-3.90zM404.7 237.0h3.90v14.9h-3.90zM412.5 233.2h3.90v18.5h-3.90zM420.3 242.9h3.90v14.7h-3.90zM439.8 234.0h3.90v15.0h-3.90zM443.7 230.6h3.90v20.7h-3.90zM447.6 232.7h3.90v11.3h-3.90zM451.5 220.1h3.90v30.0h-3.90zM455.4 217.4h3.90v26.2h-3.90zM459.3 228.5h3.90v25.6h-3.90zM463.2 227.8h3.90v27.2h-3.90zM474.9 231.3h3.90v12.6h-3.90zM478.8 226.1h3.90v29.4h-3.90zM486.6 235.7h3.90v18.7h-3.90zM490.5 208.2h3.90v44.3h-3.90zM498.3 220.2h3.90v30.9h-3.90zM502.2 220.7h3.90v23.8h-3.90zM506.1 213.5h3.90v28.2h-3.90zM510.0 221.3h3.90v36.2h-3.90zM513.8 215.8h3.90v28.9h-3.90zM517.7 225.5h3.90v18.1h-3.90zM521.6 232.9h3.90v22.3h-3.90zM525.5 217.8h3.90v18.4h-3.90zM529.4 226.2h3.90v26.5h-3.90zM533.3 217.6h3.90v23.6h-3.90zM537.2 214.4h3.90v14.0h-3.90zM541.1 207.3h3.90v25.1h-3.90zM545.0 225.6h3.90v7.7h-3.90zM548.9 218.3h3.90v13.1h-3.90zM552.8 222.1h3.90v11.2h-3.90zM556.7 201.8h3.90v35.1h-3.90zM560.6 213.4h3.90v33.2h-3.90zM564.5 216.8h3.90v21.0h-3.90zM576.2 205.5h3.90v34.1h-3.90zM584.0 209.6h3.90v19.9h-3.90zM587.9 204.3h3.90v34.6h-3.90zM595.7 207.0h3.90v34.3h-3.90zM599.6 194.7h3.90v29.9h-3.90zM607.4 204.0h3.90v26.4h-3.90zM615.2 207.9h3.90v24.1h-3.90zM619.1 211.2h3.90v21.9h-3.90zM626.9 211.3h3.90v19.9h-3.90zM630.8 205.9h3.90v27.1h-3.90zM634.7 208.3h3.90v23.0h-3.90zM642.5 203.9h3.90v15.7h-3.90zM646.4 199.0h3.90v34.7h-3.90zM650.3 207.2h3.90v29.0h-3.90zM658.1 206.1h3.90v24.8h-3.90zM662.0 202.9h3.90v15.9h-3.90zM665.9 202.2h3.90v24.6h-3.90zM669.8 195.3h3.90v31.0h-3.90zM685.4 196.6h3.90v26.5h-3.90zM693.2 205.2h3.90v14.6h-3.90zM697.1 197.4h3.90v15.5h-3.90zM704.9 203.8h3.90v4.0h-3.90zM712.7 200.1h3.90v7.0h-3.90zM716.6 195.2h3.90v15.3h-3.90zM724.4 199.1h3.90v12.9h-3.90zM728.3 200.5h3.90v17.1h-3.90zM732.2 198.1h3.90v12.3h-3.90zM740.0 195.5h3.90v19.1h-3.90zM743.9 201.2h3.90v12.3h-3.90zM763.4 196.6h3.90v9.7h-3.90zM771.2 187.1h3.90v23.8h-3.90zM775.1 187.1h3.90v20.4h-3.90zM779.0 191.1h3.90v10.0h-3.90zM782.9 194.7h3.90v23.0h-3.90zM790.7 192.5h3.90v14.6h-3.90zM798.4 197.8h3.90v4.1h-3.90zM802.3 186.3h3.90v28.6h-3.90zM806.2 188.0h3.90v24.1h-3.90zM810.1 187.0h3.90v25.5h-3.90zM814.0 193.5h3.90v6.5h-3.90zM817.9 184.3h3.90v30.2h-3.90zM821.8 195.9h3.90v9.8h-3.90zM825.7 189.2h3.90v15.3h-3.90zM829.6 191.1h3.90v14.9h-3.90zM833.5 189.9h3.90v15.4h-3.90zM837.4 182.9h3.90v20.8h-3.90zM853.0 191.6h3.90v14.1h-3.90zM856.9 189.9h3.90v32.3h-3.90zM864.7 184.7h3.90v22.1h-3.90zM868.6 186.0h3.90v14.9h-3.90zM872.5 192.1h3.90v20.4h-3.90zM876.4 188.6h3.90v14.2h-3.90zM880.3 183.2h3.90v25.4h-3.90zM884.2 196.2h3.90v20.5h-3.90zM892.0 188.7h3.90v21.8h-3.90zM895.9 184.1h3.90v22.9h-3.90zM899.8 189.7h3.90v14.6h-3.90zM903.7 197.1h3.90v9.4h-3.90zM911.5 189.5h3.90v11.9h-3.90zM923.2 193.2h3.90v20.7h-3.90zM942.7 184.3h3.90v15.2h-3.90zM946.6 182.0h3.90v25.5h-3.90zM962.2 192.2h3.90v14.1h-3.90zM966.1 186.1h3.90v19.8h-3.90zM970.0 188.7h3.90v12.1h-3.90zM981.7 187.6h3.90v18.6h-3.90zM997.3 190.2h3.90v12.9h-3.90zM1005.1 183.4h3.90v20.6h-3.90zM1012.9 185.5h3.90v14.0h-3.90zM1016.8 195.9h3.90v7.7h-3.90zM1024.6 190.2h3.90v16.4h-3.90zM1032.4 188.2h3.90v18.2h-3.90zM1040.2 188.3h3.90v26.7h-3.90zM1048.0 181.7h3.90v15.4h-3.90zM1055.8 195.2h3.90v10.2h-3.90zM1067.5 180.6h3.90v21.4h-3.90zM1071.4 187.8h3.90v13.0h-3.90zM1075.3 181.5h3.90v38.7h-3.90zM1079.2 189.5h3.90v13.9h-3.90zM1086.9 182.0h3.90v31.0h-3.90zM1094.7 190.5h3.90v21.8h-3.90zM1098.6 192.0h3.90v12.5h-3.90zM1106.4 195.5h3.90v15.4h-3.90zM1110.3 194.8h3.90v10.1h-3.90zM1114.2 190.7h3.90v25.3h-3.90zM1122.0 195.8h3.90v5.4h-3.90zM1125.9 195.7h3.90v27.8h-3.90zM1133.7 196.1h3.90v13.4h-3.90zM1137.6 194.6h3.90v27.0h-3.90zM1141.5 197.4h3.90v22.4h-3.90zM1149.3 203.3h3.90v5.0h-3.90zM1161.0 200.0h3.90v15.9h-3.90zM1164.9 205.5h3.90v18.7h-3.90zM1180.5 210.6h3.90v13.5h-3.90zM1192.2 208.8h3.90v14.7h-3.90zM1196.1 213.6h3.90v17.6h-3.90zM1203.9 209.9h3.90v17.6h-3.90zM1215.6 213.5h3.90v19.2h-3.90zM1219.5 205.6h3.90v13.7h-3.90zM1223.4 219.3h3.90v10.1h-3.90zM1227.3 207.5h3.90v29.4h-3.90zM1235.1 209.7h3.90v14.2h-3.90zM1239.0 213.8h3.90v18.6h-3.90zM1242.9 211.1h3.90v20.4h-3.90zM1246.8 213.1h3.90v21.4h-3.90zM1250.7 226.7h3.90v11.2h-3.90zM1262.4 214.9h3.90v21.4h-3.90zM1274.1 213.4h3.90v16.1h-3.90zM1278.0 214.9h3.90v36.7h-3.90zM1281.9 209.5h3.90v33.6h-3.90zM1309.2 216.8h3.90v29.9h-3.90zM1313.1 220.8h3.90v26.8h-3.90zM1320.9 220.2h3.90v23.6h-3.90zM1328.7 231.5h3.90v4.0h-3.90zM1332.6 225.3h3.90v16.2h-3.90zM1336.5 227.1h3.90v20.0h-3.90zM1348.2 221.3h3.90v25.8h-3.90zM1352.1 229.2h3.90v11.9h-3.90zM1359.9 221.9h3.90v23.6h-3.90zM1367.6 220.1h3.90v26.2h-3.90zM1371.5 235.1h3.90v7.8h-3.90zM1383.2 231.5h3.90v4.0h-3.90zM1394.9 245.0h3.90v14.8h-3.90zM1414.4 240.0h3.90v12.3h-3.90zM1422.2 227.2h3.90v41.5h-3.90zM1426.1 225.8h3.90v53.5h-3.90zM1437.8 224.6h3.90v65.2h-3.90zM1449.5 211.0h3.90v63.4h-3.90zM1453.4 227.3h3.90v48.8h-3.90zM1461.2 234.0h3.90v33.2h-3.90zM1472.9 242.3h3.90v11.9h-3.90zM1484.6 238.1h3.90v31.9h-3.90zM1488.5 245.2h3.90v25.1h-3.90zM1500.2 249.8h3.90v13.4h-3.90zM1504.1 228.3h3.90v39.0h-3.90z" fill="rgb(240,20,215)" fill-opacity="0.1"/>
<path d="M85.0 252.0h3.90v15.4h-3.90zM88.9 256.3h3.90v35.3h-3.90zM92.8 237.2h3.90v32.3h-3.90zM100.6 239.7h3.90v32.2h-3.90zM104.5 265.2h3.90v4.0h-3.90zM112.3 252.6h3.90v23.3h-3.90zM116.2 236.6h3.90v44.1h-3.90zM127.9 277.0h3.90v4.0h-3.90zM131.8 248.0h3.90v32.2h-3.90zM135.7 258.6h3.90v22.7h-3.90zM143.5 264.7h3.90v4.0h-3.90zM151.3 256.1h3.90v22.2h-3.90zM155.2 263.3h3.90v12.4h-3.90zM159.1 269.7h3.90v12.9h-3.90zM170.8 280.8h3.90v4.0h-3.90zM174.7 278.7h3.90v4.0h-3.90zM178.6 248.9h3.90v21.1h-3.90zM190.3 255.0h3.90v34.6h-3.90zM194.2 257.1h3.90v12.3h-3.90zM202.0 242.4h3.90v33.7h-3.90zM205.9 264.5h3.90v4.0h-3.90zM213.7 250.5h3.90v20.4h-3.90zM217.6 247.4h3.90v8.8h-3.90zM221.5 241.2h3.90v29.5h-3.90zM225.4 266.5h3.90v5.3h-3.90zM229.2 255.4h3.90v23.1h-3.90zM233.1 245.6h3.90v6.7h-3.90zM237.0 244.8h3.90v17.1h-3.90zM240.9 259.4h3.90v4.0h-3.90zM248.7 248.9h3.90v8.1h-3.90zM252.6 252.0h3.90v19.8h-3.90zM256.5 249.1h3.90v29.1h-3.90zM260.4 259.6h3.90v4.0h-3.90zM264.3 252.5h3.90v7.9h-3.90zM283.8 252.2h3.90v13.2h-3.90zM287.7 247.1h3.90v26.6h-3.90zM291.6 238.0h3.90v10.0h-3.90zM295.5 233.1h3.90v36.7h-3.90zM299.4 254.0h3.90v17.8h-3.90zM303.3 254.2h3.90v9.9h-3.90zM307.2 235.7h3.90v42.0h-3.90zM322.8 232.1h3.90v31.2h-3.90zM326.7 245.1h3.90v26.5h-3.90zM330.6 240.4h3.90v36.1h-3.90zM334.5 241.9h3.90v14.1h-3.90zM338.4 240.4h3.90v23.9h-3.90zM342.3 236.9h3.90v14.6h-3.90zM354.0 243.1h3.90v30.7h-3.90zM357.9 245.4h3.90v7.2h-3.90zM361.8 230.2h3.90v26.7h-3.90zM369.6 229.7h3.90v21.9h-3.90zM373.5 233.8h3.90v39.0h-3.90zM381.3 244.2h3.90v7.6h-3.90zM412.5 244.2h3.90v4.0h-3.90zM416.4 250.1h3.90v4.0h-3.90zM447.6 219.4h3.90v32.2h-3.90zM459.3 236.3h3.90v4.0h-3.90zM467.1 231.3h3.90v29.2h-3.90zM471.0 236.5h3.90v23.6h-3.90zM474.9 235.0h3.90v12.1h-3.90zM478.8 233.2h3.90v7.8h-3.90zM490.5 233.2h3.90v22.6h-3.90zM498.3 236.2h3.90v4.1h-3.90zM506.1 228.5h3.90v7.6h-3.90zM510.0 230.5h3.90v17.7h-3.90zM513.8 230.3h3.90v16.6h-3.90zM537.2 226.1h3.90v4.0h-3.90zM541.1 220.6h3.90v18.1h-3.90zM545.0 214.0h3.90v37.6h-3.90zM548.9 232.5h3.90v4.0h-3.90zM552.8 209.2h3.90v30.5h-3.90zM560.6 218.3h3.90v20.5h-3.90zM564.5 208.8h3.90v23.7h-3.90zM568.4 213.4h3.90v21.2h-3.90zM580.1 215.5h3.90v17.8h-3.90zM584.0 222.2h3.90v5.5h-3.90zM587.9 214.7h3.90v12.4h-3.90zM595.7 208.0h3.90v15.0h-3.90zM599.6 214.2h3.90v22.5h-3.90zM619.1 215.0h3.90v14.8h-3.90zM623.0 203.6h3.90v16.6h-3.90zM638.6 212.4h3.90v21.9h-3.90zM642.5 212.3h3.90v20.8h-3.90zM646.4 202.5h3.90v24.0h-3.90zM650.3 213.8h3.90v7.0h-3.90zM654.2 210.4h3.90v16.0h-3.90zM658.1 208.2h3.90v11.1h-3.90zM662.0 213.3h3.90v4.0h-3.90zM681.5 191.0h3.90v27.7h-3.90zM685.4 207.8h3.90v4.0h-3.90zM693.2 208.5h3.90v6.5h-3.90zM701.0 203.6h3.90v21.9h-3.90zM704.9 201.8h3.90v21.1h-3.90zM716.6 197.7h3.90v19.0h-3.90zM728.3 200.3h3.90v15.2h-3.90zM732.2 200.8h3.90v12.1h-3.90zM740.0 196.7h3.90v15.1h-3.90zM743.9 199.1h3.90v12.7h-3.90zM747.8 191.9h3.90v19.2h-3.90zM751.7 199.0h3.90v22.8h-3.90zM759.5 203.3h3.90v4.0h-3.90zM767.3 198.6h3.90v22.0h-3.90zM775.1 195.5h3.90v16.0h-3.90zM779.0 201.0h3.90v6.3h-3.90zM782.9 198.5h3.90v4.0h-3.90zM786.8 191.0h3.90v16.5h-3.90zM790.7 194.5h3.90v11.5h-3.90zM794.6 198.1h3.90v9.7h-3.90zM798.4 194.3h3.90v11.9h-3.90zM810.1 190.2h3.90v16.0h-3.90zM814.0 183.9h3.90v18.9h-3.90zM817.9 190.3h3.90v13.9h-3.90zM821.8 191.5h3.90v20.0h-3.90zM825.7 190.1h3.90v28.2h-3.90zM841.3 186.8h3.90v19.7h-3.90zM849.1 196.4h3.90v4.0h-3.90zM853.0 195.7h3.90v4.0h-3.90zM864.7 188.5h3.90v14.0h-3.90zM868.6 193.6h3.90v4.0h-3.90zM872.5 193.9h3.90v7.1h-3.90zM876.4 196.3h3.90v11.2h-3.90zM895.9 194.8h3.90v15.7h-3.90zM899.8 191.3h3.90v8.3h-3.90zM903.7 192.7h3.90v13.1h-3.90zM907.6 189.9h3.90v20.1h-3.90zM923.2 188.7h3.90v20.2h-3.90zM934.9 187.2h3.90v10.0h-3.90zM942.7 193.9h3.90v10.5h-3.90zM950.5 202.1h3.90v4.0h-3.90zM954.4 196.9h3.90v15.4h-3.90zM958.3 191.2h3.90v13.9h-3.90zM962.2 194.8h3.90v4.0h-3.90zM966.1 189.6h3.90v8.1h-3.90zM973.9 193.0h3.90v7.1h-3.90zM977.8 194.1h3.90v11.3h-3.90zM993.4 195.5h3.90v4.7h-3.90zM1001.2 186.9h3.90v13.0h-3.90zM1009.0 197.6h3.90v9.1h-3.90zM1012.9 190.4h3.90v22.1h-3.90zM1024.6 195.2h3.90v7.5h-3.90zM1036.3 190.2h3.90v20.3h-3.90zM1044.1 188.2h3.90v30.1h-3.90zM1051.9 196.7h3.90v4.0h-3.90zM1055.8 188.4h3.90v17.7h-3.90zM1059.7 192.3h3.90v12.8h-3.90zM1063.6 192.1h3.90v15.2h-3.90zM1067.5 194.9h3.90v14.6h-3.90zM1071.4 195.4h3.90v14.2h-3.90zM1079.2 190.0h3.90v18.3h-3.90zM1083.0 193.5h3.90v14.5h-3.90zM1086.9 188.4h3.90v24.6h-3.90zM1090.8 193.9h3.90v7.1h-3.90zM1098.6 196.7h3.90v13.9h-3.90zM1102.5 185.5h3.90v21.2h-3.90zM1106.4 184.5h3.90v13.6h-3.90zM1114.2 191.3h3.90v7.4h-3.90zM1125.9 202.2h3.90v4.0h-3.90zM1137.6 201.3h3.90v11.3h-3.90zM1145.4 201.7h3.90v15.0h-3.90zM1149.3 200.5h3.90v11.0h-3.90zM1161.0 205.7h3.90v17.8h-3.90zM1164.9 201.2h3.90v14.4h-3.90zM1172.7 203.5h3.90v19.3h-3.90zM1176.6 217.7h3.90v7.6h-3.90zM1180.5 217.3h3.90v4.0h-3.90zM1184.4 223.7h3.90v4.0h-3.90zM1188.3 233.7h3.90v4.0h-3.90zM1196.1 202.5h3.90v20.7h-3.90zM1200.0 214.9h3.90v12.0h-3.90zM1207.8 217.8h3.90v5.4h-3.90zM1211.7 219.3h3.90v4.4h-3.90zM1215.6 210.7h3.90v8.6h-3.90zM1223.4 211.1h3.90v15.3h-3.90zM1227.3 218.4h3.90v19.2h-3.90zM1231.2 218.8h3.90v10.7h-3.90zM1235.1 212.5h3.90v4.6h-3.90zM1239.0 209.3h3.90v16.6h-3.90zM1242.9 216.8h3.90v13.0h-3.90zM1246.8 216.3h3.90v10.8h-3.90zM1250.7 223.5h3.90v5.8h-3.90zM1254.6 217.0h3.90v12.8h-3.90zM1258.5 211.2h3.90v18.0h-3.90zM1262.4 217.1h3.90v17.4h-3.90zM1266.3 211.9h3.90v24.8h-3.90zM1270.2 220.1h3.90v4.0h-3.90zM1278.0 225.0h3.90v10.4h-3.90zM1281.9 222.1h3.90v6.6h-3.90zM1285.8 223.1h3.90v12.1h-3.90zM1289.7 226.8h3.90v4.6h-3.90zM1293.6 229.9h3.90v4.0h-3.90zM1297.5 233.3h3.90v4.0h-3.90zM1301.4 220.4h3.90v24.4h-3.90zM1305.3 229.7h3.90v10.7h-3.90zM1309.2 233.2h3.90v4.0h-3.90zM1324.8 230.2h3.90v4.0h-3.90zM1328.7 227.0h3.90v23.2h-3.90zM1344.3 219.3h3.90v14.5h-3.90zM1348.2 235.2h3.90v11.2h-3.90zM1352.1 228.7h3.90v18.8h-3.90zM1356.0 216.9h3.90v24.0h-3.90zM1367.6 237.0h3.90v15.1h-3.90zM1371.5 226.0h3.90v24.3h-3.90zM1387.1 236.9h3.90v23.5h-3.90zM1394.9 241.3h3.90v13.8h-3.90zM1398.8 235.3h3.90v31.1h-3.90zM1406.6 245.2h3.90v17.5h-3.90zM1418.3 234.2h3.90v35.9h-3.90zM1422.2 238.3h3.90v33.1h-3.90zM1426.1 244.8h3.90v4.6h-3.90zM1430.0 253.5h3.90v18.6h-3.90zM1437.8 250.9h3.90v5.7h-3.90zM1441.7 237.2h3.90v25.7h-3.90zM1445.6 228.3h3.90v27.8h-3.90zM1449.5 253.4h3.90v14.3h-3.90zM1453.4 229.6h3.90v18.7h-3.90zM1457.3 254.0h3.90v4.0h-3.90zM1465.1 238.1h3.90v26.4h-3.90zM1476.8 247.6h3.90v4.0h-3.90zM1484.6 257.1h3.90v4.0h-3.90zM1488.5 242.7h3.90v6.3h-3.90zM1496.3 251.9h3.90v22.3h-3.90zM1500.2 232.3h3.90v49.5h-3.90zM1504.1 242.9h3.90v30.4h-3.90z" fill="rgb(240,20,215)" fill-opacity="0.1"/>
</g>
<rect x="85.0" y="341.4" width="3.90" height="19" fill="url(#gR2)"/><rect x="85.0" y="341.4" width="3.90" height="33" fill="url(#gR2)"/><rect x="85.0" y="341.4" width="3.90" height="38" fill="url(#gR2)"/><rect x="88.9" y="341.4" width="3.90" height="42" fill="url(#gR2)"/><rect x="92.8" y="341.4" width="3.90" height="14" fill="url(#gR2)"/><rect x="92.8" y="341.4" width="3.90" height="104" fill="url(#gR2)"/><rect x="96.7" y="341.4" width="3.90" height="54" fill="url(#gR2)"/><rect x="96.7" y="341.4" width="3.90" height="13" fill="url(#gR2)"/><rect x="96.7" y="341.4" width="3.90" height="134" fill="url(#gR2)"/><rect x="100.6" y="341.4" width="3.90" height="77" fill="url(#gR2)"/><rect x="100.6" y="341.4" width="3.90" height="20" fill="url(#gR2)"/><rect x="100.6" y="341.4" width="3.90" height="17" fill="url(#gR2)"/><rect x="100.6" y="341.4" width="3.90" height="47" fill="url(#gR2)"/><rect x="100.6" y="341.4" width="3.90" height="110" fill="url(#gR2)"/><rect x="100.6" y="341.4" width="3.90" height="84" fill="url(#gR2)"/><rect x="104.5" y="341.4" width="3.90" height="36" fill="url(#gR2)"/><rect x="104.5" y="341.4" width="3.90" height="29" fill="url(#gR2)"/><rect x="104.5" y="341.4" width="3.90" height="54" fill="url(#gR2)"/><rect x="108.4" y="341.4" width="3.90" height="13" fill="url(#gR2)"/><rect x="108.4" y="341.4" width="3.90" height="48" fill="url(#gR2)"/><rect x="112.3" y="341.4" width="3.90" height="17" fill="url(#gR2)"/><rect x="116.2" y="341.4" width="3.90" height="62" fill="url(#gR2)"/><rect x="116.2" y="341.4" width="3.90" height="41" fill="url(#gR2)"/><rect x="116.2" y="341.4" width="3.90" height="68" fill="url(#gR2)"/><rect x="116.2" y="341.4" width="3.90" height="20" fill="url(#gR2)"/><rect x="116.2" y="341.4" width="3.90" height="57" fill="url(#gR2)"/><rect x="120.1" y="341.4" width="3.90" height="29" fill="url(#gR2)"/><rect x="120.1" y="341.4" width="3.90" height="14" fill="url(#gR2)"/><rect x="124.0" y="341.4" width="3.90" height="20" fill="url(#gR2)"/><rect x="124.0" y="341.4" width="3.90" height="95" fill="url(#gR2)"/><rect x="124.0" y="341.4" width="3.90" height="53" fill="url(#gR2)"/><rect x="127.9" y="341.4" width="3.90" height="31" fill="url(#gR2)"/><rect x="131.8" y="341.4" width="3.90" height="77" fill="url(#gR2)"/><rect x="131.8" y="341.4" width="3.90" height="17" fill="url(#gR2)"/><rect x="131.8" y="341.4" width="3.90" height="29" fill="url(#gR2)"/><rect x="135.7" y="341.4" width="3.90" height="61" fill="url(#gR2)"/><rect x="135.7" y="341.4" width="3.90" height="34" fill="url(#gR2)"/><rect x="139.6" y="341.4" width="3.90" height="32" fill="url(#gR2)"/><rect x="139.6" y="341.4" width="3.90" height="15" fill="url(#gR2)"/><rect x="143.5" y="341.4" width="3.90" height="13" fill="url(#gR2)"/><rect x="143.5" y="341.4" width="3.90" height="61" fill="url(#gR2)"/><rect x="147.4" y="341.4" width="3.90" height="16" fill="url(#gR2)"/><rect x="147.4" y="341.4" width="3.90" height="51" fill="url(#gR2)"/><rect x="151.3" y="341.4" width="3.90" height="17" fill="url(#gR2)"/><rect x="151.3" y="341.4" width="3.90" height="90" fill="url(#gR2)"/><rect x="155.2" y="341.4" width="3.90" height="33" fill="url(#gR2)"/><rect x="155.2" y="341.4" width="3.90" height="70" fill="url(#gR2)"/><rect x="155.2" y="341.4" width="3.90" height="111" fill="url(#gR2)"/><rect x="163.0" y="341.4" width="3.90" height="95" fill="url(#gR2)"/><rect x="163.0" y="341.4" width="3.90" height="140" fill="url(#gR2)"/><rect x="163.0" y="341.4" width="3.90" height="62" fill="url(#gR2)"/><rect x="163.0" y="341.4" width="3.90" height="84" fill="url(#gR2)"/><rect x="166.9" y="341.4" width="3.90" height="14" fill="url(#gR2)"/><rect x="166.9" y="341.4" width="3.90" height="19" fill="url(#gR2)"/><rect x="170.8" y="341.4" width="3.90" height="50" fill="url(#gR2)"/><rect x="174.7" y="341.4" width="3.90" height="20" fill="url(#gR2)"/><rect x="178.6" y="341.4" width="3.90" height="132" fill="url(#gR2)"/><rect x="178.6" y="341.4" width="3.90" height="190" fill="url(#gR2)"/><rect x="178.6" y="341.4" width="3.90" height="25" fill="url(#gR2)"/><rect x="182.5" y="341.4" width="3.90" height="64" fill="url(#gR2)"/><rect x="182.5" y="341.4" width="3.90" height="61" fill="url(#gR2)"/><rect x="182.5" y="341.4" width="3.90" height="76" fill="url(#gR2)"/><rect x="186.4" y="341.4" width="3.90" height="43" fill="url(#gR2)"/><rect x="190.3" y="341.4" width="3.90" height="58" fill="url(#gR2)"/><rect x="190.3" y="341.4" width="3.90" height="72" fill="url(#gR2)"/><rect x="190.3" y="341.4" width="3.90" height="27" fill="url(#gR2)"/><rect x="194.2" y="341.4" width="3.90" height="152" fill="url(#gR2)"/><rect x="198.1" y="341.4" width="3.90" height="90" fill="url(#gR2)"/><rect x="198.1" y="341.4" width="3.90" height="74" fill="url(#gR2)"/><rect x="198.1" y="341.4" width="3.90" height="17" fill="url(#gR2)"/><rect x="202.0" y="341.4" width="3.90" height="86" fill="url(#gR2)"/><rect x="202.0" y="341.4" width="3.90" height="33" fill="url(#gR2)"/><rect x="202.0" y="341.4" width="3.90" height="47" fill="url(#gR2)"/><rect x="205.9" y="341.4" width="3.90" height="185" fill="url(#gR2)"/><rect x="205.9" y="341.4" width="3.90" height="25" fill="url(#gR2)"/><rect x="209.8" y="341.4" width="3.90" height="17" fill="url(#gR2)"/><rect x="209.8" y="341.4" width="3.90" height="106" fill="url(#gR2)"/><rect x="209.8" y="341.4" width="3.90" height="48" fill="url(#gR2)"/><rect x="209.8" y="341.4" width="3.90" height="44" fill="url(#gR2)"/><rect x="213.7" y="341.4" width="3.90" height="129" fill="url(#gR2)"/><rect x="213.7" y="341.4" width="3.90" height="72" fill="url(#gR2)"/><rect x="213.7" y="341.4" width="3.90" height="204" fill="url(#gR2)"/><rect x="217.6" y="341.4" width="3.90" height="12" fill="url(#gR2)"/><rect x="221.5" y="341.4" width="3.90" height="197" fill="url(#gR2)"/><rect x="221.5" y="341.4" width="3.90" height="53" fill="url(#gR2)"/><rect x="225.4" y="341.4" width="3.90" height="212" fill="url(#gR2)"/><rect x="225.4" y="341.4" width="3.90" height="92" fill="url(#gR2)"/><rect x="225.4" y="341.4" width="3.90" height="33" fill="url(#gR2)"/><rect x="229.2" y="341.4" width="3.90" height="49" fill="url(#gR2)"/><rect x="229.2" y="341.4" width="3.90" height="43" fill="url(#gR2)"/><rect x="229.2" y="341.4" width="3.90" height="12" fill="url(#gR2)"/><rect x="229.2" y="341.4" width="3.90" height="20" fill="url(#gR2)"/><rect x="229.2" y="341.4" width="3.90" height="20" fill="url(#gR2)"/><rect x="233.1" y="341.4" width="3.90" height="14" fill="url(#gR2)"/><rect x="233.1" y="341.4" width="3.90" height="68" fill="url(#gR2)"/><rect x="237.0" y="341.4" width="3.90" height="24" fill="url(#gR2)"/><rect x="237.0" y="341.4" width="3.90" height="267" fill="url(#gR2)"/><rect x="237.0" y="341.4" width="3.90" height="28" fill="url(#gR2)"/><rect x="237.0" y="341.4" width="3.90" height="57" fill="url(#gR2)"/><rect x="237.0" y="341.4" width="3.90" height="46" fill="url(#gR2)"/><rect x="240.9" y="341.4" width="3.90" height="81" fill="url(#gR2)"/><rect x="240.9" y="341.4" width="3.90" height="40" fill="url(#gR2)"/><rect x="240.9" y="341.4" width="3.90" height="46" fill="url(#gR2)"/><rect x="240.9" y="341.4" width="3.90" height="34" fill="url(#gR2)"/><rect x="240.9" y="341.4" width="3.90" height="45" fill="url(#gR2)"/><rect x="240.9" y="341.4" width="3.90" height="227" fill="url(#gR2)"/><rect x="244.8" y="341.4" width="3.90" height="33" fill="url(#gR2)"/><rect x="248.7" y="341.4" width="3.90" height="45" fill="url(#gR2)"/><rect x="248.7" y="341.4" width="3.90" height="53" fill="url(#gR2)"/><rect x="256.5" y="341.4" width="3.90" height="21" fill="url(#gR2)"/><rect x="256.5" y="341.4" width="3.90" height="226" fill="url(#gR2)"/><rect x="256.5" y="341.4" width="3.90" height="39" fill="url(#gR2)"/><rect x="256.5" y="341.4" width="3.90" height="46" fill="url(#gR2)"/><rect x="260.4" y="341.4" width="3.90" height="102" fill="url(#gR2)"/><rect x="260.4" y="341.4" width="3.90" height="62" fill="url(#gR2)"/><rect x="260.4" y="341.4" width="3.90" height="17" fill="url(#gR2)"/><rect x="260.4" y="341.4" width="3.90" height="78" fill="url(#gR2)"/><rect x="264.3" y="341.4" width="3.90" height="61" fill="url(#gR2)"/><rect x="264.3" y="341.4" width="3.90" height="83" fill="url(#gR2)"/><rect x="264.3" y="341.4" width="3.90" height="46" fill="url(#gR2)"/><rect x="268.2" y="341.4" width="3.90" height="91" fill="url(#gR2)"/><rect x="268.2" y="341.4" width="3.90" height="42" fill="url(#gR2)"/><rect x="268.2" y="341.4" width="3.90" height="17" fill="url(#gR2)"/><rect x="268.2" y="341.4" width="3.90" height="108" fill="url(#gR2)"/><rect x="276.0" y="341.4" width="3.90" height="48" fill="url(#gR2)"/><rect x="279.9" y="341.4" width="3.90" height="20" fill="url(#gR2)"/><rect x="279.9" y="341.4" width="3.90" height="55" fill="url(#gR2)"/><rect x="279.9" y="341.4" width="3.90" height="26" fill="url(#gR2)"/><rect x="279.9" y="341.4" width="3.90" height="92" fill="url(#gR2)"/><rect x="279.9" y="341.4" width="3.90" height="22" fill="url(#gR2)"/><rect x="283.8" y="341.4" width="3.90" height="18" fill="url(#gR2)"/><rect x="283.8" y="341.4" width="3.90" height="74" fill="url(#gR2)"/><rect x="287.7" y="341.4" width="3.90" height="15" fill="url(#gR2)"/><rect x="287.7" y="341.4" width="3.90" height="20" fill="url(#gR2)"/><rect x="287.7" y="341.4" width="3.90" height="34" fill="url(#gR2)"/><rect x="291.6" y="341.4" width="3.90" height="104" fill="url(#gR2)"/><rect x="291.6" y="341.4" width="3.90" height="147" fill="url(#gR2)"/><rect x="291.6" y="341.4" width="3.90" height="18" fill="url(#gR2)"/><rect x="295.5" y="341.4" width="3.90" height="40" fill="url(#gR2)"/><rect x="295.5" y="341.4" width="3.90" height="61" fill="url(#gR2)"/><rect x="295.5" y="341.4" width="3.90" height="80" fill="url(#gR2)"/><rect x="295.5" y="341.4" width="3.90" height="142" fill="url(#gR2)"/><rect x="299.4" y="341.4" width="3.90" height="57" fill="url(#gR2)"/><rect x="299.4" y="341.4" width="3.90" height="13" fill="url(#gR2)"/><rect x="299.4" y="341.4" width="3.90" height="71" fill="url(#gR2)"/><rect x="311.1" y="341.4" width="3.90" height="38" fill="url(#gR2)"/><rect x="311.1" y="341.4" width="3.90" height="23" fill="url(#gR2)"/><rect x="311.1" y="341.4" width="3.90" height="57" fill="url(#gR2)"/><rect x="311.1" y="341.4" width="3.90" height="45" fill="url(#gR2)"/><rect x="311.1" y="341.4" width="3.90" height="44" fill="url(#gR2)"/><rect x="315.0" y="341.4" width="3.90" height="18" fill="url(#gR2)"/><rect x="315.0" y="341.4" width="3.90" height="41" fill="url(#gR2)"/><rect x="315.0" y="341.4" width="3.90" height="86" fill="url(#gR2)"/><rect x="315.0" y="341.4" width="3.90" height="78" fill="url(#gR2)"/><rect x="315.0" y="341.4" width="3.90" height="104" fill="url(#gR2)"/><rect x="315.0" y="341.4" width="3.90" height="59" fill="url(#gR2)"/><rect x="315.0" y="341.4" width="3.90" height="19" fill="url(#gR2)"/><rect x="318.9" y="341.4" width="3.90" height="20" fill="url(#gR2)"/><rect x="322.8" y="341.4" width="3.90" height="123" fill="url(#gR2)"/><rect x="322.8" y="341.4" width="3.90" height="70" fill="url(#gR2)"/><rect x="322.8" y="341.4" width="3.90" height="33" fill="url(#gR2)"/><rect x="322.8" y="341.4" width="3.90" height="50" fill="url(#gR2)"/><rect x="326.7" y="341.4" width="3.90" height="93" fill="url(#gR2)"/><rect x="326.7" y="341.4" width="3.90" height="150" fill="url(#gR2)"/><rect x="330.6" y="341.4" width="3.90" height="29" fill="url(#gR2)"/><rect x="330.6" y="341.4" width="3.90" height="51" fill="url(#gR2)"/><rect x="330.6" y="341.4" width="3.90" height="89" fill="url(#gR2)"/><rect x="330.6" y="341.4" width="3.90" height="72" fill="url(#gR2)"/><rect x="334.5" y="341.4" width="3.90" height="19" fill="url(#gR2)"/><rect x="334.5" y="341.4" width="3.90" height="52" fill="url(#gR2)"/><rect x="334.5" y="341.4" width="3.90" height="28" fill="url(#gR2)"/><rect x="338.4" y="341.4" width="3.90" height="14" fill="url(#gR2)"/><rect x="338.4" y="341.4" width="3.90" height="207" fill="url(#gR2)"/><rect x="338.4" y="341.4" width="3.90" height="46" fill="url(#gR2)"/><rect x="342.3" y="341.4" width="3.90" height="57" fill="url(#gR2)"/><rect x="342.3" y="341.4" width="3.90" height="90" fill="url(#gR2)"/><rect x="342.3" y="341.4" width="3.90" height="85" fill="url(#gR2)"/><rect x="342.3" y="341.4" width="3.90" height="13" fill="url(#gR2)"/><rect x="342.3" y="341.4" width="3.90" height="55" fill="url(#gR2)"/><rect x="342.3" y="341.4" width="3.90" height="59" fill="url(#gR2)"/><rect x="346.2" y="341.4" width="3.90" height="45" fill="url(#gR2)"/><rect x="346.2" y="341.4" width="3.90" height="201" fill="url(#gR2)"/><rect x="350.1" y="341.4" width="3.90" height="183" fill="url(#gR2)"/><rect x="350.1" y="341.4" width="3.90" height="20" fill="url(#gR2)"/><rect x="354.0" y="341.4" width="3.90" height="25" fill="url(#gR2)"/><rect x="354.0" y="341.4" width="3.90" height="37" fill="url(#gR2)"/><rect x="357.9" y="341.4" width="3.90" height="101" fill="url(#gR2)"/><rect x="357.9" y="341.4" width="3.90" height="130" fill="url(#gR2)"/><rect x="361.8" y="341.4" width="3.90" height="33" fill="url(#gR2)"/><rect x="361.8" y="341.4" width="3.90" height="12" fill="url(#gR2)"/><rect x="361.8" y="341.4" width="3.90" height="20" fill="url(#gR2)"/><rect x="365.7" y="341.4" width="3.90" height="65" fill="url(#gR2)"/><rect x="365.7" y="341.4" width="3.90" height="57" fill="url(#gR2)"/><rect x="369.6" y="341.4" width="3.90" height="73" fill="url(#gR2)"/><rect x="369.6" y="341.4" width="3.90" height="29" fill="url(#gR2)"/><rect x="369.6" y="341.4" width="3.90" height="76" fill="url(#gR2)"/><rect x="369.6" y="341.4" width="3.90" height="83" fill="url(#gR2)"/><rect x="373.5" y="341.4" width="3.90" height="117" fill="url(#gR2)"/><rect x="373.5" y="341.4" width="3.90" height="33" fill="url(#gR2)"/><rect x="377.4" y="341.4" width="3.90" height="238" fill="url(#gR2)"/><rect x="377.4" y="341.4" width="3.90" height="267" fill="url(#gR2)"/><rect x="377.4" y="341.4" width="3.90" height="35" fill="url(#gR2)"/><rect x="381.3" y="341.4" width="3.90" height="33" fill="url(#gR2)"/><rect x="385.2" y="341.4" width="3.90" height="94" fill="url(#gR2)"/><rect x="385.2" y="341.4" width="3.90" height="56" fill="url(#gR2)"/><rect x="389.1" y="341.4" width="3.90" height="141" fill="url(#gR2)"/><rect x="389.1" y="341.4" width="3.90" height="110" fill="url(#gR2)"/><rect x="389.1" y="341.4" width="3.90" height="59" fill="url(#gR2)"/><rect x="393.0" y="341.4" width="3.90" height="12" fill="url(#gR2)"/><rect x="396.9" y="341.4" width="3.90" height="65" fill="url(#gR2)"/><rect x="396.9" y="341.4" width="3.90" height="89" fill="url(#gR2)"/><rect x="396.9" y="341.4" width="3.90" height="17" fill="url(#gR2)"/><rect x="396.9" y="341.4" width="3.90" height="171" fill="url(#gR2)"/><rect x="400.8" y="341.4" width="3.90" height="16" fill="url(#gR2)"/><rect x="400.8" y="341.4" width="3.90" height="58" fill="url(#gR2)"/><rect x="400.8" y="341.4" width="3.90" height="200" fill="url(#gR2)"/><rect x="400.8" y="341.4" width="3.90" height="34" fill="url(#gR2)"/><rect x="404.7" y="341.4" width="3.90" height="112" fill="url(#gR2)"/><rect x="404.7" y="341.4" width="3.90" height="64" fill="url(#gR2)"/><rect x="408.6" y="341.4" width="3.90" height="51" fill="url(#gR2)"/><rect x="408.6" y="341.4" width="3.90" height="92" fill="url(#gR2)"/><rect x="412.5" y="341.4" width="3.90" height="117" fill="url(#gR2)"/><rect x="412.5" y="341.4" width="3.90" height="98" fill="url(#gR2)"/><rect x="412.5" y="341.4" width="3.90" height="106" fill="url(#gR2)"/><rect x="416.4" y="341.4" width="3.90" height="125" fill="url(#gR2)"/><rect x="420.3" y="341.4" width="3.90" height="267" fill="url(#gR2)"/><rect x="420.3" y="341.4" width="3.90" height="14" fill="url(#gR2)"/><rect x="424.2" y="341.4" width="3.90" height="48" fill="url(#gR2)"/><rect x="424.2" y="341.4" width="3.90" height="55" fill="url(#gR2)"/><rect x="424.2" y="341.4" width="3.90" height="120" fill="url(#gR2)"/><rect x="424.2" y="341.4" width="3.90" height="23" fill="url(#gR2)"/><rect x="428.1" y="341.4" width="3.90" height="69" fill="url(#gR2)"/><rect x="432.0" y="341.4" width="3.90" height="169" fill="url(#gR2)"/><rect x="432.0" y="341.4" width="3.90" height="90" fill="url(#gR2)"/><rect x="432.0" y="341.4" width="3.90" height="20" fill="url(#gR2)"/><rect x="432.0" y="341.4" width="3.90" height="85" fill="url(#gR2)"/><rect x="435.9" y="341.4" width="3.90" height="19" fill="url(#gR2)"/><rect x="435.9" y="341.4" width="3.90" height="58" fill="url(#gR2)"/><rect x="435.9" y="341.4" width="3.90" height="17" fill="url(#gR2)"/><rect x="435.9" y="341.4" width="3.90" height="58" fill="url(#gR2)"/><rect x="443.7" y="341.4" width="3.90" height="55" fill="url(#gR2)"/><rect x="447.6" y="341.4" width="3.90" height="15" fill="url(#gR2)"/><rect x="447.6" y="341.4" width="3.90" height="14" fill="url(#gR2)"/><rect x="451.5" y="341.4" width="3.90" height="37" fill="url(#gR2)"/><rect x="451.5" y="341.4" width="3.90" height="39" fill="url(#gR2)"/><rect x="451.5" y="341.4" width="3.90" height="64" fill="url(#gR2)"/><rect x="451.5" y="341.4" width="3.90" height="26" fill="url(#gR2)"/><rect x="451.5" y="341.4" width="3.90" height="19" fill="url(#gR2)"/><rect x="455.4" y="341.4" width="3.90" height="20" fill="url(#gR2)"/><rect x="459.3" y="341.4" width="3.90" height="62" fill="url(#gR2)"/><rect x="459.3" y="341.4" width="3.90" height="145" fill="url(#gR2)"/><rect x="459.3" y="341.4" width="3.90" height="18" fill="url(#gR2)"/><rect x="459.3" y="341.4" width="3.90" height="24" fill="url(#gR2)"/><rect x="459.3" y="341.4" width="3.90" height="66" fill="url(#gR2)"/><rect x="463.2" y="341.4" width="3.90" height="101" fill="url(#gR2)"/><rect x="467.1" y="341.4" width="3.90" height="49" fill="url(#gR2)"/><rect x="467.1" y="341.4" width="3.90" height="160" fill="url(#gR2)"/><rect x="467.1" y="341.4" width="3.90" height="142" fill="url(#gR2)"/><rect x="474.9" y="341.4" width="3.90" height="182" fill="url(#gR2)"/><rect x="474.9" y="341.4" width="3.90" height="148" fill="url(#gR2)"/><rect x="482.7" y="341.4" width="3.90" height="59" fill="url(#gR2)"/><rect x="482.7" y="341.4" width="3.90" height="41" fill="url(#gR2)"/><rect x="486.6" y="341.4" width="3.90" height="33" fill="url(#gR2)"/><rect x="490.5" y="341.4" width="3.90" height="180" fill="url(#gR2)"/><rect x="490.5" y="341.4" width="3.90" height="85" fill="url(#gR2)"/><rect x="494.4" y="341.4" width="3.90" height="97" fill="url(#gR2)"/><rect x="494.4" y="341.4" width="3.90" height="42" fill="url(#gR2)"/><rect x="498.3" y="341.4" width="3.90" height="19" fill="url(#gR2)"/><rect x="498.3" y="341.4" width="3.90" height="40" fill="url(#gR2)"/><rect x="498.3" y="341.4" width="3.90" height="190" fill="url(#gR2)"/><rect x="502.2" y="341.4" width="3.90" height="48" fill="url(#gR2)"/><rect x="502.2" y="341.4" width="3.90" height="65" fill="url(#gR2)"/><rect x="506.1" y="341.4" width="3.90" height="44" fill="url(#gR2)"/><rect x="510.0" y="341.4" width="3.90" height="94" fill="url(#gR2)"/><rect x="510.0" y="341.4" width="3.90" height="36" fill="url(#gR2)"/><rect x="510.0" y="341.4" width="3.90" height="23" fill="url(#gR2)"/><rect x="513.8" y="341.4" width="3.90" height="33" fill="url(#gR2)"/><rect x="513.8" y="341.4" width="3.90" height="14" fill="url(#gR2)"/><rect x="517.7" y="341.4" width="3.90" height="21" fill="url(#gR2)"/><rect x="517.7" y="341.4" width="3.90" height="131" fill="url(#gR2)"/><rect x="517.7" y="341.4" width="3.90" height="29" fill="url(#gR2)"/><rect x="517.7" y="341.4" width="3.90" height="34" fill="url(#gR2)"/><rect x="521.6" y="341.4" width="3.90" height="32" fill="url(#gR2)"/><rect x="521.6" y="341.4" width="3.90" height="25" fill="url(#gR2)"/><rect x="521.6" y="341.4" width="3.90" height="19" fill="url(#gR2)"/><rect x="521.6" y="341.4" width="3.90" height="30" fill="url(#gR2)"/><rect x="525.5" y="341.4" width="3.90" height="31" fill="url(#gR2)"/><rect x="525.5" y="341.4" width="3.90" height="20" fill="url(#gR2)"/><rect x="525.5" y="341.4" width="3.90" height="107" fill="url(#gR2)"/><rect x="529.4" y="341.4" width="3.90" height="12" fill="url(#gR2)"/><rect x="529.4" y="341.4" width="3.90" height="75" fill="url(#gR2)"/><rect x="529.4" y="341.4" width="3.90" height="42" fill="url(#gR2)"/><rect x="529.4" y="341.4" width="3.90" height="70" fill="url(#gR2)"/><rect x="529.4" y="341.4" width="3.90" height="34" fill="url(#gR2)"/><rect x="533.3" y="341.4" width="3.90" height="20" fill="url(#gR2)"/><rect x="537.2" y="341.4" width="3.90" height="59" fill="url(#gR2)"/><rect x="537.2" y="341.4" width="3.90" height="201" fill="url(#gR2)"/><rect x="537.2" y="341.4" width="3.90" height="89" fill="url(#gR2)"/><rect x="537.2" y="341.4" width="3.90" height="32" fill="url(#gR2)"/><rect x="537.2" y="341.4" width="3.90" height="47" fill="url(#gR2)"/><rect x="541.1" y="341.4" width="3.90" height="20" fill="url(#gR2)"/><rect x="541.1" y="341.4" width="3.90" height="27" fill="url(#gR2)"/><rect x="541.1" y="341.4" width="3.90" height="69" fill="url(#gR2)"/><rect x="541.1" y="341.4" width="3.90" height="91" fill="url(#gR2)"/><rect x="541.1" y="341.4" width="3.90" height="45" fill="url(#gR2)"/><rect x="545.0" y="341.4" width="3.90" height="42" fill="url(#gR2)"/><rect x="545.0" y="341.4" width="3.90" height="173" fill="url(#gR2)"/><rect x="548.9" y="341.4" width="3.90" height="51" fill="url(#gR2)"/><rect x="552.8" y="341.4" width="3.90" height="96" fill="url(#gR2)"/><rect x="556.7" y="341.4" width="3.90" height="82" fill="url(#gR2)"/><rect x="556.7" y="341.4" width="3.90" height="13" fill="url(#gR2)"/><rect x="556.7" y="341.4" width="3.90" height="143" fill="url(#gR2)"/><rect x="556.7" y="341.4" width="3.90" height="217" fill="url(#gR2)"/><rect x="560.6" y="341.4" width="3.90" height="26" fill="url(#gR2)"/><rect x="564.5" y="341.4" width="3.90" height="17" fill="url(#gR2)"/><rect x="564.5" y="341.4" width="3.90" height="93" fill="url(#gR2)"/><rect x="564.5" y="341.4" width="3.90" height="49" fill="url(#gR2)"/><rect x="564.5" y="341.4" width="3.90" height="267" fill="url(#gR2)"/><rect x="564.5" y="341.4" width="3.90" height="50" fill="url(#gR2)"/><rect x="564.5" y="341.4" width="3.90" height="41" fill="url(#gR2)"/><rect x="568.4" y="341.4" width="3.90" height="267" fill="url(#gR2)"/><rect x="568.4" y="341.4" width="3.90" height="206" fill="url(#gR2)"/><rect x="572.3" y="341.4" width="3.90" height="16" fill="url(#gR2)"/><rect x="572.3" y="341.4" width="3.90" height="29" fill="url(#gR2)"/><rect x="572.3" y="341.4" width="3.90" height="192" fill="url(#gR2)"/><rect x="576.2" y="341.4" width="3.90" height="112" fill="url(#gR2)"/><rect x="576.2" y="341.4" width="3.90" height="267" fill="url(#gR2)"/><rect x="580.1" y="341.4" width="3.90" height="85" fill="url(#gR2)"/><rect x="580.1" y="341.4" width="3.90" height="23" fill="url(#gR2)"/><rect x="580.1" y="341.4" width="3.90" height="17" fill="url(#gR2)"/><rect x="580.1" y="341.4" width="3.90" height="131" fill="url(#gR2)"/><rect x="584.0" y="341.4" width="3.90" height="79" fill="url(#gR2)"/><rect x="584.0" y="341.4" width="3.90" height="31" fill="url(#gR2)"/><rect x="587.9" y="341.4" width="3.90" height="213" fill="url(#gR2)"/><rect x="587.9" y="341.4" width="3.90" height="79" fill="url(#gR2)"/><rect x="587.9" y="341.4" width="3.90" height="86" fill="url(#gR2)"/><rect x="591.8" y="341.4" width="3.90" height="26" fill="url(#gR2)"/><rect x="591.8" y="341.4" width="3.90" height="17" fill="url(#gR2)"/><rect x="595.7" y="341.4" width="3.90" height="46" fill="url(#gR2)"/><rect x="595.7" y="341.4" width="3.90" height="105" fill="url(#gR2)"/><rect x="595.7" y="341.4" width="3.90" height="67" fill="url(#gR2)"/><rect x="599.6" y="341.4" width="3.90" height="71" fill="url(#gR2)"/><rect x="599.6" y="341.4" width="3.90" height="50" fill="url(#gR2)"/><rect x="599.6" y="341.4" width="3.90" height="25" fill="url(#gR2)"/><rect x="599.6" y="341.4" width="3.90" height="223" fill="url(#gR2)"/><rect x="599.6" y="341.4" width="3.90" height="20" fill="url(#gR2)"/><rect x="603.5" y="341.4" width="3.90" height="13" fill="url(#gR2)"/><rect x="603.5" y="341.4" width="3.90" height="204" fill="url(#gR2)"/><rect x="607.4" y="341.4" width="3.90" height="54" fill="url(#gR2)"/><rect x="607.4" y="341.4" width="3.90" height="23" fill="url(#gR2)"/><rect x="611.3" y="341.4" width="3.90" height="19" fill="url(#gR2)"/><rect x="611.3" y="341.4" width="3.90" height="78" fill="url(#gR2)"/><rect x="615.2" y="341.4" width="3.90" height="207" fill="url(#gR2)"/><rect x="615.2" y="341.4" width="3.90" height="42" fill="url(#gR2)"/><rect x="615.2" y="341.4" width="3.90" height="38" fill="url(#gR2)"/><rect x="619.1" y="341.4" width="3.90" height="80" fill="url(#gR2)"/><rect x="619.1" y="341.4" width="3.90" height="52" fill="url(#gR2)"/><rect x="619.1" y="341.4" width="3.90" height="19" fill="url(#gR2)"/><rect x="619.1" y="341.4" width="3.90" height="123" fill="url(#gR2)"/><rect x="623.0" y="341.4" width="3.90" height="24" fill="url(#gR2)"/><rect x="623.0" y="341.4" width="3.90" height="13" fill="url(#gR2)"/><rect x="623.0" y="341.4" width="3.90" height="109" fill="url(#gR2)"/><rect x="623.0" y="341.4" width="3.90" height="14" fill="url(#gR2)"/><rect x="623.0" y="341.4" width="3.90" height="102" fill="url(#gR2)"/><rect x="623.0" y="341.4" width="3.90" height="40" fill="url(#gR2)"/><rect x="626.9" y="341.4" width="3.90" height="84" fill="url(#gR2)"/><rect x="626.9" y="341.4" width="3.90" height="235" fill="url(#gR2)"/><rect x="626.9" y="341.4" width="3.90" height="40" fill="url(#gR2)"/><rect x="626.9" y="341.4" width="3.90" height="23" fill="url(#gR2)"/><rect x="630.8" y="341.4" width="3.90" height="22" fill="url(#gR2)"/><rect x="630.8" y="341.4" width="3.90" height="105" fill="url(#gR2)"/><rect x="630.8" y="341.4" width="3.90" height="115" fill="url(#gR2)"/><rect x="630.8" y="341.4" width="3.90" height="71" fill="url(#gR2)"/><rect x="634.7" y="341.4" width="3.90" height="122" fill="url(#gR2)"/><rect x="634.7" y="341.4" width="3.90" height="26" fill="url(#gR2)"/><rect x="638.6" y="341.4" width="3.90" height="13" fill="url(#gR2)"/><rect x="642.5" y="341.4" width="3.90" height="12" fill="url(#gR2)"/><rect x="642.5" y="341.4" width="3.90" height="31" fill="url(#gR2)"/><rect x="642.5" y="341.4" width="3.90" height="50" fill="url(#gR2)"/><rect x="642.5" y="341.4" width="3.90" height="21" fill="url(#gR2)"/><rect x="642.5" y="341.4" width="3.90" height="261" fill="url(#gR2)"/><rect x="646.4" y="341.4" width="3.90" height="47" fill="url(#gR2)"/><rect x="650.3" y="341.4" width="3.90" height="60" fill="url(#gR2)"/><rect x="650.3" y="341.4" width="3.90" height="39" fill="url(#gR2)"/><rect x="650.3" y="341.4" width="3.90" height="169" fill="url(#gR2)"/><rect x="650.3" y="341.4" width="3.90" height="77" fill="url(#gR2)"/><rect x="650.3" y="341.4" width="3.90" height="103" fill="url(#gR2)"/><rect x="654.2" y="341.4" width="3.90" height="68" fill="url(#gR2)"/><rect x="654.2" y="341.4" width="3.90" height="84" fill="url(#gR2)"/><rect x="654.2" y="341.4" width="3.90" height="36" fill="url(#gR2)"/><rect x="658.1" y="341.4" width="3.90" height="29" fill="url(#gR2)"/><rect x="658.1" y="341.4" width="3.90" height="156" fill="url(#gR2)"/><rect x="658.1" y="341.4" width="3.90" height="75" fill="url(#gR2)"/><rect x="658.1" y="341.4" width="3.90" height="14" fill="url(#gR2)"/><rect x="662.0" y="341.4" width="3.90" height="92" fill="url(#gR2)"/><rect x="665.9" y="341.4" width="3.90" height="193" fill="url(#gR2)"/><rect x="665.9" y="341.4" width="3.90" height="223" fill="url(#gR2)"/><rect x="665.9" y="341.4" width="3.90" height="30" fill="url(#gR2)"/><rect x="665.9" y="341.4" width="3.90" height="107" fill="url(#gR2)"/><rect x="665.9" y="341.4" width="3.90" height="125" fill="url(#gR2)"/><rect x="669.8" y="341.4" width="3.90" height="28" fill="url(#gR2)"/><rect x="669.8" y="341.4" width="3.90" height="84" fill="url(#gR2)"/><rect x="673.7" y="341.4" width="3.90" height="245" fill="url(#gR2)"/><rect x="673.7" y="341.4" width="3.90" height="226" fill="url(#gR2)"/><rect x="673.7" y="341.4" width="3.90" height="39" fill="url(#gR2)"/><rect x="673.7" y="341.4" width="3.90" height="129" fill="url(#gR2)"/><rect x="673.7" y="341.4" width="3.90" height="33" fill="url(#gR2)"/><rect x="677.6" y="341.4" width="3.90" height="119" fill="url(#gR2)"/><rect x="681.5" y="341.4" width="3.90" height="69" fill="url(#gR2)"/><rect x="685.4" y="341.4" width="3.90" height="33" fill="url(#gR2)"/><rect x="685.4" y="341.4" width="3.90" height="78" fill="url(#gR2)"/><rect x="685.4" y="341.4" width="3.90" height="212" fill="url(#gR2)"/><rect x="689.3" y="341.4" width="3.90" height="18" fill="url(#gR2)"/><rect x="689.3" y="341.4" width="3.90" height="71" fill="url(#gR2)"/><rect x="689.3" y="341.4" width="3.90" height="73" fill="url(#gR2)"/><rect x="689.3" y="341.4" width="3.90" height="65" fill="url(#gR2)"/><rect x="689.3" y="341.4" width="3.90" height="59" fill="url(#gR2)"/><rect x="693.2" y="341.4" width="3.90" height="106" fill="url(#gR2)"/><rect x="697.1" y="341.4" width="3.90" height="24" fill="url(#gR2)"/><rect x="697.1" y="341.4" width="3.90" height="15" fill="url(#gR2)"/><rect x="697.1" y="341.4" width="3.90" height="119" fill="url(#gR2)"/><rect x="701.0" y="341.4" width="3.90" height="148" fill="url(#gR2)"/><rect x="704.9" y="341.4" width="3.90" height="114" fill="url(#gR2)"/><rect x="704.9" y="341.4" width="3.90" height="246" fill="url(#gR2)"/><rect x="704.9" y="341.4" width="3.90" height="71" fill="url(#gR2)"/><rect x="704.9" y="341.4" width="3.90" height="83" fill="url(#gR2)"/><rect x="704.9" y="341.4" width="3.90" height="138" fill="url(#gR2)"/><rect x="708.8" y="341.4" width="3.90" height="27" fill="url(#gR2)"/><rect x="708.8" y="341.4" width="3.90" height="189" fill="url(#gR2)"/><rect x="708.8" y="341.4" width="3.90" height="29" fill="url(#gR2)"/><rect x="708.8" y="341.4" width="3.90" height="78" fill="url(#gR2)"/><rect x="708.8" y="341.4" width="3.90" height="215" fill="url(#gR2)"/><rect x="708.8" y="341.4" width="3.90" height="128" fill="url(#gR2)"/><rect x="712.7" y="341.4" width="3.90" height="70" fill="url(#gR2)"/><rect x="712.7" y="341.4" width="3.90" height="108" fill="url(#gR2)"/><rect x="712.7" y="341.4" width="3.90" height="16" fill="url(#gR2)"/><rect x="716.6" y="341.4" width="3.90" height="19" fill="url(#gR2)"/><rect x="716.6" y="341.4" width="3.90" height="108" fill="url(#gR2)"/><rect x="716.6" y="341.4" width="3.90" height="71" fill="url(#gR2)"/><rect x="716.6" y="341.4" width="3.90" height="66" fill="url(#gR2)"/><rect x="716.6" y="341.4" width="3.90" height="137" fill="url(#gR2)"/><rect x="716.6" y="341.4" width="3.90" height="49" fill="url(#gR2)"/><rect x="716.6" y="341.4" width="3.90" height="66" fill="url(#gR2)"/><rect x="720.5" y="341.4" width="3.90" height="38" fill="url(#gR2)"/><rect x="720.5" y="341.4" width="3.90" height="233" fill="url(#gR2)"/><rect x="720.5" y="341.4" width="3.90" height="37" fill="url(#gR2)"/><rect x="720.5" y="341.4" width="3.90" height="28" fill="url(#gR2)"/><rect x="720.5" y="341.4" width="3.90" height="35" fill="url(#gR2)"/><rect x="720.5" y="341.4" width="3.90" height="55" fill="url(#gR2)"/><rect x="720.5" y="341.4" width="3.90" height="64" fill="url(#gR2)"/><rect x="724.4" y="341.4" width="3.90" height="176" fill="url(#gR2)"/><rect x="724.4" y="341.4" width="3.90" height="85" fill="url(#gR2)"/><rect x="724.4" y="341.4" width="3.90" height="55" fill="url(#gR2)"/><rect x="724.4" y="341.4" width="3.90" height="240" fill="url(#gR2)"/><rect x="724.4" y="341.4" width="3.90" height="267" fill="url(#gR2)"/><rect x="724.4" y="341.4" width="3.90" height="23" fill="url(#gR2)"/><rect x="728.3" y="341.4" width="3.90" height="71" fill="url(#gR2)"/><rect x="732.2" y="341.4" width="3.90" height="107" fill="url(#gR2)"/><rect x="736.1" y="341.4" width="3.90" height="71" fill="url(#gR2)"/><rect x="740.0" y="341.4" width="3.90" height="215" fill="url(#gR2)"/><rect x="740.0" y="341.4" width="3.90" height="198" fill="url(#gR2)"/><rect x="740.0" y="341.4" width="3.90" height="88" fill="url(#gR2)"/><rect x="743.9" y="341.4" width="3.90" height="169" fill="url(#gR2)"/><rect x="743.9" y="341.4" width="3.90" height="177" fill="url(#gR2)"/><rect x="743.9" y="341.4" width="3.90" height="17" fill="url(#gR2)"/><rect x="743.9" y="341.4" width="3.90" height="14" fill="url(#gR2)"/><rect x="743.9" y="341.4" width="3.90" height="52" fill="url(#gR2)"/><rect x="747.8" y="341.4" width="3.90" height="108" fill="url(#gR2)"/><rect x="747.8" y="341.4" width="3.90" height="28" fill="url(#gR2)"/><rect x="747.8" y="341.4" width="3.90" height="174" fill="url(#gR2)"/><rect x="747.8" y="341.4" width="3.90" height="211" fill="url(#gR2)"/><rect x="747.8" y="341.4" width="3.90" height="137" fill="url(#gR2)"/><rect x="751.7" y="341.4" width="3.90" height="55" fill="url(#gR2)"/><rect x="751.7" y="341.4" width="3.90" height="48" fill="url(#gR2)"/><rect x="751.7" y="341.4" width="3.90" height="80" fill="url(#gR2)"/><rect x="751.7" y="341.4" width="3.90" height="52" fill="url(#gR2)"/><rect x="751.7" y="341.4" width="3.90" height="37" fill="url(#gR2)"/><rect x="751.7" y="341.4" width="3.90" height="88" fill="url(#gR2)"/><rect x="755.6" y="341.4" width="3.90" height="126" fill="url(#gR2)"/><rect x="755.6" y="341.4" width="3.90" height="161" fill="url(#gR2)"/><rect x="755.6" y="341.4" width="3.90" height="63" fill="url(#gR2)"/><rect x="755.6" y="341.4" width="3.90" height="79" fill="url(#gR2)"/><rect x="755.6" y="341.4" width="3.90" height="216" fill="url(#gR2)"/><rect x="759.5" y="341.4" width="3.90" height="77" fill="url(#gR2)"/><rect x="759.5" y="341.4" width="3.90" height="153" fill="url(#gR2)"/><rect x="763.4" y="341.4" width="3.90" height="99" fill="url(#gR2)"/><rect x="763.4" y="341.4" width="3.90" height="208" fill="url(#gR2)"/><rect x="763.4" y="341.4" width="3.90" height="22" fill="url(#gR2)"/><rect x="767.3" y="341.4" width="3.90" height="98" fill="url(#gR2)"/><rect x="767.3" y="341.4" width="3.90" height="20" fill="url(#gR2)"/><rect x="767.3" y="341.4" width="3.90" height="138" fill="url(#gR2)"/><rect x="767.3" y="341.4" width="3.90" height="38" fill="url(#gR2)"/><rect x="767.3" y="341.4" width="3.90" height="31" fill="url(#gR2)"/><rect x="771.2" y="341.4" width="3.90" height="206" fill="url(#gR2)"/><rect x="775.1" y="341.4" width="3.90" height="49" fill="url(#gR2)"/><rect x="775.1" y="341.4" width="3.90" height="104" fill="url(#gR2)"/><rect x="775.1" y="341.4" width="3.90" height="60" fill="url(#gR2)"/><rect x="779.0" y="341.4" width="3.90" height="61" fill="url(#gR2)"/><rect x="779.0" y="341.4" width="3.90" height="247" fill="url(#gR2)"/><rect x="779.0" y="341.4" width="3.90" height="106" fill="url(#gR2)"/><rect x="779.0" y="341.4" width="3.90" height="24" fill="url(#gR2)"/><rect x="779.0" y="341.4" width="3.90" height="107" fill="url(#gR2)"/><rect x="779.0" y="341.4" width="3.90" height="14" fill="url(#gR2)"/><rect x="779.0" y="341.4" width="3.90" height="141" fill="url(#gR2)"/><rect x="782.9" y="341.4" width="3.90" height="119" fill="url(#gR2)"/><rect x="782.9" y="341.4" width="3.90" height="267" fill="url(#gR2)"/><rect x="782.9" y="341.4" width="3.90" height="59" fill="url(#gR2)"/><rect x="782.9" y="341.4" width="3.90" height="66" fill="url(#gR2)"/><rect x="782.9" y="341.4" width="3.90" height="20" fill="url(#gR2)"/><rect x="782.9" y="341.4" width="3.90" height="32" fill="url(#gR2)"/><rect x="782.9" y="341.4" width="3.90" height="169" fill="url(#gR2)"/><rect x="786.8" y="341.4" width="3.90" height="119" fill="url(#gR2)"/><rect x="786.8" y="341.4" width="3.90" height="15" fill="url(#gR2)"/><rect x="786.8" y="341.4" width="3.90" height="19" fill="url(#gR2)"/><rect x="786.8" y="341.4" width="3.90" height="99" fill="url(#gR2)"/><rect x="786.8" y="341.4" width="3.90" height="21" fill="url(#gR2)"/><rect x="786.8" y="341.4" width="3.90" height="116" fill="url(#gR2)"/><rect x="786.8" y="341.4" width="3.90" height="32" fill="url(#gR2)"/><rect x="786.8" y="341.4" width="3.90" height="19" fill="url(#gR2)"/><rect x="786.8" y="341.4" width="3.90" height="267" fill="url(#gR2)"/><rect x="790.7" y="341.4" width="3.90" height="56" fill="url(#gR2)"/><rect x="794.6" y="341.4" width="3.90" height="32" fill="url(#gR2)"/><rect x="794.6" y="341.4" width="3.90" height="85" fill="url(#gR2)"/><rect x="798.4" y="341.4" width="3.90" height="22" fill="url(#gR2)"/><rect x="798.4" y="341.4" width="3.90" height="90" fill="url(#gR2)"/><rect x="802.3" y="341.4" width="3.90" height="45" fill="url(#gR2)"/><rect x="806.2" y="341.4" width="3.90" height="267" fill="url(#gR2)"/><rect x="806.2" y="341.4" width="3.90" height="185" fill="url(#gR2)"/><rect x="806.2" y="341.4" width="3.90" height="14" fill="url(#gR2)"/><rect x="806.2" y="341.4" width="3.90" height="96" fill="url(#gR2)"/><rect x="810.1" y="341.4" width="3.90" height="267" fill="url(#gR2)"/><rect x="810.1" y="341.4" width="3.90" height="46" fill="url(#gR2)"/><rect x="810.1" y="341.4" width="3.90" height="32" fill="url(#gR2)"/><rect x="810.1" y="341.4" width="3.90" height="80" fill="url(#gR2)"/><rect x="810.1" y="341.4" width="3.90" height="195" fill="url(#gR2)"/><rect x="814.0" y="341.4" width="3.90" height="43" fill="url(#gR2)"/><rect x="814.0" y="341.4" width="3.90" height="93" fill="url(#gR2)"/><rect x="814.0" y="341.4" width="3.90" height="32" fill="url(#gR2)"/><rect x="814.0" y="341.4" width="3.90" height="14" fill="url(#gR2)"/><rect x="817.9" y="341.4" width="3.90" height="153" fill="url(#gR2)"/><rect x="817.9" y="341.4" width="3.90" height="48" fill="url(#gR2)"/><rect x="821.8" y="341.4" width="3.90" height="267" fill="url(#gR2)"/><rect x="821.8" y="341.4" width="3.90" height="124" fill="url(#gR2)"/><rect x="825.7" y="341.4" width="3.90" height="23" fill="url(#gR2)"/><rect x="829.6" y="341.4" width="3.90" height="41" fill="url(#gR2)"/><rect x="829.6" y="341.4" width="3.90" height="36" fill="url(#gR2)"/><rect x="829.6" y="341.4" width="3.90" height="53" fill="url(#gR2)"/><rect x="829.6" y="341.4" width="3.90" height="150" fill="url(#gR2)"/><rect x="833.5" y="341.4" width="3.90" height="70" fill="url(#gR2)"/><rect x="833.5" y="341.4" width="3.90" height="41" fill="url(#gR2)"/><rect x="837.4" y="341.4" width="3.90" height="236" fill="url(#gR2)"/><rect x="837.4" y="341.4" width="3.90" height="25" fill="url(#gR2)"/><rect x="841.3" y="341.4" width="3.90" height="85" fill="url(#gR2)"/><rect x="841.3" y="341.4" width="3.90" height="138" fill="url(#gR2)"/><rect x="849.1" y="341.4" width="3.90" height="49" fill="url(#gR2)"/><rect x="849.1" y="341.4" width="3.90" height="68" fill="url(#gR2)"/><rect x="849.1" y="341.4" width="3.90" height="105" fill="url(#gR2)"/><rect x="853.0" y="341.4" width="3.90" height="84" fill="url(#gR2)"/><rect x="856.9" y="341.4" width="3.90" height="50" fill="url(#gR2)"/><rect x="856.9" y="341.4" width="3.90" height="22" fill="url(#gR2)"/><rect x="856.9" y="341.4" width="3.90" height="158" fill="url(#gR2)"/><rect x="860.8" y="341.4" width="3.90" height="86" fill="url(#gR2)"/><rect x="860.8" y="341.4" width="3.90" height="44" fill="url(#gR2)"/><rect x="860.8" y="341.4" width="3.90" height="108" fill="url(#gR2)"/><rect x="864.7" y="341.4" width="3.90" height="16" fill="url(#gR2)"/><rect x="864.7" y="341.4" width="3.90" height="81" fill="url(#gR2)"/><rect x="864.7" y="341.4" width="3.90" height="20" fill="url(#gR2)"/><rect x="864.7" y="341.4" width="3.90" height="182" fill="url(#gR2)"/><rect x="864.7" y="341.4" width="3.90" height="36" fill="url(#gR2)"/><rect x="868.6" y="341.4" width="3.90" height="20" fill="url(#gR2)"/><rect x="868.6" y="341.4" width="3.90" height="28" fill="url(#gR2)"/><rect x="868.6" y="341.4" width="3.90" height="116" fill="url(#gR2)"/><rect x="872.5" y="341.4" width="3.90" height="29" fill="url(#gR2)"/><rect x="872.5" y="341.4" width="3.90" height="25" fill="url(#gR2)"/><rect x="872.5" y="341.4" width="3.90" height="72" fill="url(#gR2)"/><rect x="876.4" y="341.4" width="3.90" height="159" fill="url(#gR2)"/><rect x="880.3" y="341.4" width="3.90" height="61" fill="url(#gR2)"/><rect x="880.3" y="341.4" width="3.90" height="70" fill="url(#gR2)"/><rect x="880.3" y="341.4" width="3.90" height="141" fill="url(#gR2)"/><rect x="880.3" y="341.4" width="3.90" height="66" fill="url(#gR2)"/><rect x="880.3" y="341.4" width="3.90" height="31" fill="url(#gR2)"/><rect x="884.2" y="341.4" width="3.90" height="151" fill="url(#gR2)"/><rect x="884.2" y="341.4" width="3.90" height="78" fill="url(#gR2)"/><rect x="884.2" y="341.4" width="3.90" height="16" fill="url(#gR2)"/><rect x="888.1" y="341.4" width="3.90" height="267" fill="url(#gR2)"/><rect x="888.1" y="341.4" width="3.90" height="31" fill="url(#gR2)"/><rect x="888.1" y="341.4" width="3.90" height="146" fill="url(#gR2)"/><rect x="888.1" y="341.4" width="3.90" height="20" fill="url(#gR2)"/><rect x="892.0" y="341.4" width="3.90" height="31" fill="url(#gR2)"/><rect x="892.0" y="341.4" width="3.90" height="135" fill="url(#gR2)"/><rect x="892.0" y="341.4" width="3.90" height="40" fill="url(#gR2)"/><rect x="895.9" y="341.4" width="3.90" height="113" fill="url(#gR2)"/><rect x="895.9" y="341.4" width="3.90" height="38" fill="url(#gR2)"/><rect x="895.9" y="341.4" width="3.90" height="23" fill="url(#gR2)"/><rect x="899.8" y="341.4" width="3.90" height="55" fill="url(#gR2)"/><rect x="899.8" y="341.4" width="3.90" height="173" fill="url(#gR2)"/><rect x="899.8" y="341.4" width="3.90" height="44" fill="url(#gR2)"/><rect x="899.8" y="341.4" width="3.90" height="214" fill="url(#gR2)"/><rect x="903.7" y="341.4" width="3.90" height="107" fill="url(#gR2)"/><rect x="903.7" y="341.4" width="3.90" height="54" fill="url(#gR2)"/><rect x="903.7" y="341.4" width="3.90" height="29" fill="url(#gR2)"/><rect x="903.7" y="341.4" width="3.90" height="56" fill="url(#gR2)"/><rect x="907.6" y="341.4" width="3.90" height="110" fill="url(#gR2)"/><rect x="907.6" y="341.4" width="3.90" height="34" fill="url(#gR2)"/><rect x="907.6" y="341.4" width="3.90" height="108" fill="url(#gR2)"/><rect x="907.6" y="341.4" width="3.90" height="17" fill="url(#gR2)"/><rect x="907.6" y="341.4" width="3.90" height="24" fill="url(#gR2)"/><rect x="907.6" y="341.4" width="3.90" height="58" fill="url(#gR2)"/><rect x="911.5" y="341.4" width="3.90" height="174" fill="url(#gR2)"/><rect x="911.5" y="341.4" width="3.90" height="16" fill="url(#gR2)"/><rect x="911.5" y="341.4" width="3.90" height="55" fill="url(#gR2)"/><rect x="915.4" y="341.4" width="3.90" height="45" fill="url(#gR2)"/><rect x="915.4" y="341.4" width="3.90" height="180" fill="url(#gR2)"/><rect x="915.4" y="341.4" width="3.90" height="36" fill="url(#gR2)"/><rect x="915.4" y="341.4" width="3.90" height="24" fill="url(#gR2)"/><rect x="915.4" y="341.4" width="3.90" height="61" fill="url(#gR2)"/><rect x="919.3" y="341.4" width="3.90" height="44" fill="url(#gR2)"/><rect x="919.3" y="341.4" width="3.90" height="93" fill="url(#gR2)"/><rect x="923.2" y="341.4" width="3.90" height="177" fill="url(#gR2)"/><rect x="923.2" y="341.4" width="3.90" height="267" fill="url(#gR2)"/><rect x="927.1" y="341.4" width="3.90" height="76" fill="url(#gR2)"/><rect x="927.1" y="341.4" width="3.90" height="162" fill="url(#gR2)"/><rect x="927.1" y="341.4" width="3.90" height="267" fill="url(#gR2)"/><rect x="931.0" y="341.4" width="3.90" height="267" fill="url(#gR2)"/><rect x="931.0" y="341.4" width="3.90" height="16" fill="url(#gR2)"/><rect x="934.9" y="341.4" width="3.90" height="127" fill="url(#gR2)"/><rect x="934.9" y="341.4" width="3.90" height="42" fill="url(#gR2)"/><rect x="934.9" y="341.4" width="3.90" height="179" fill="url(#gR2)"/><rect x="934.9" y="341.4" width="3.90" height="44" fill="url(#gR2)"/><rect x="934.9" y="341.4" width="3.90" height="56" fill="url(#gR2)"/><rect x="934.9" y="341.4" width="3.90" height="82" fill="url(#gR2)"/><rect x="934.9" y="341.4" width="3.90" height="89" fill="url(#gR2)"/><rect x="938.8" y="341.4" width="3.90" height="67" fill="url(#gR2)"/><rect x="938.8" y="341.4" width="3.90" height="267" fill="url(#gR2)"/><rect x="938.8" y="341.4" width="3.90" height="48" fill="url(#gR2)"/><rect x="938.8" y="341.4" width="3.90" height="44" fill="url(#gR2)"/><rect x="938.8" y="341.4" width="3.90" height="173" fill="url(#gR2)"/><rect x="938.8" y="341.4" width="3.90" height="267" fill="url(#gR2)"/><rect x="938.8" y="341.4" width="3.90" height="97" fill="url(#gR2)"/><rect x="938.8" y="341.4" width="3.90" height="140" fill="url(#gR2)"/><rect x="942.7" y="341.4" width="3.90" height="130" fill="url(#gR2)"/><rect x="942.7" y="341.4" width="3.90" height="162" fill="url(#gR2)"/><rect x="946.6" y="341.4" width="3.90" height="148" fill="url(#gR2)"/><rect x="946.6" y="341.4" width="3.90" height="156" fill="url(#gR2)"/><rect x="946.6" y="341.4" width="3.90" height="35" fill="url(#gR2)"/><rect x="946.6" y="341.4" width="3.90" height="44" fill="url(#gR2)"/><rect x="950.5" y="341.4" width="3.90" height="13" fill="url(#gR2)"/><rect x="950.5" y="341.4" width="3.90" height="56" fill="url(#gR2)"/><rect x="954.4" y="341.4" width="3.90" height="267" fill="url(#gR2)"/><rect x="954.4" y="341.4" width="3.90" height="253" fill="url(#gR2)"/><rect x="954.4" y="341.4" width="3.90" height="20" fill="url(#gR2)"/><rect x="954.4" y="341.4" width="3.90" height="48" fill="url(#gR2)"/><rect x="958.3" y="341.4" width="3.90" height="97" fill="url(#gR2)"/><rect x="958.3" y="341.4" width="3.90" height="172" fill="url(#gR2)"/><rect x="958.3" y="341.4" width="3.90" height="39" fill="url(#gR2)"/><rect x="958.3" y="341.4" width="3.90" height="21" fill="url(#gR2)"/><rect x="958.3" y="341.4" width="3.90" height="131" fill="url(#gR2)"/><rect x="958.3" y="341.4" width="3.90" height="18" fill="url(#gR2)"/><rect x="958.3" y="341.4" width="3.90" height="171" fill="url(#gR2)"/><rect x="962.2" y="341.4" width="3.90" height="162" fill="url(#gR2)"/><rect x="962.2" y="341.4" width="3.90" height="58" fill="url(#gR2)"/><rect x="962.2" y="341.4" width="3.90" height="45" fill="url(#gR2)"/><rect x="962.2" y="341.4" width="3.90" height="40" fill="url(#gR2)"/><rect x="966.1" y="341.4" width="3.90" height="154" fill="url(#gR2)"/><rect x="966.1" y="341.4" width="3.90" height="53" fill="url(#gR2)"/><rect x="966.1" y="341.4" width="3.90" height="34" fill="url(#gR2)"/><rect x="966.1" y="341.4" width="3.90" height="97" fill="url(#gR2)"/><rect x="970.0" y="341.4" width="3.90" height="79" fill="url(#gR2)"/><rect x="970.0" y="341.4" width="3.90" height="49" fill="url(#gR2)"/><rect x="970.0" y="341.4" width="3.90" height="60" fill="url(#gR2)"/><rect x="970.0" y="341.4" width="3.90" height="121" fill="url(#gR2)"/><rect x="970.0" y="341.4" width="3.90" height="148" fill="url(#gR2)"/><rect x="970.0" y="341.4" width="3.90" height="143" fill="url(#gR2)"/><rect x="970.0" y="341.4" width="3.90" height="247" fill="url(#gR2)"/><rect x="973.9" y="341.4" width="3.90" height="79" fill="url(#gR2)"/><rect x="973.9" y="341.4" width="3.90" height="65" fill="url(#gR2)"/><rect x="973.9" y="341.4" width="3.90" height="52" fill="url(#gR2)"/><rect x="973.9" y="341.4" width="3.90" height="267" fill="url(#gR2)"/><rect x="973.9" y="341.4" width="3.90" height="191" fill="url(#gR2)"/><rect x="977.8" y="341.4" width="3.90" height="54" fill="url(#gR2)"/><rect x="977.8" y="341.4" width="3.90" height="98" fill="url(#gR2)"/><rect x="977.8" y="341.4" width="3.90" height="267" fill="url(#gR2)"/><rect x="981.7" y="341.4" width="3.90" height="125" fill="url(#gR2)"/><rect x="981.7" y="341.4" width="3.90" height="27" fill="url(#gR2)"/><rect x="981.7" y="341.4" width="3.90" height="98" fill="url(#gR2)"/><rect x="981.7" y="341.4" width="3.90" height="25" fill="url(#gR2)"/><rect x="989.5" y="341.4" width="3.90" height="267" fill="url(#gR2)"/><rect x="989.5" y="341.4" width="3.90" height="103" fill="url(#gR2)"/><rect x="989.5" y="341.4" width="3.90" height="267" fill="url(#gR2)"/><rect x="989.5" y="341.4" width="3.90" height="129" fill="url(#gR2)"/><rect x="989.5" y="341.4" width="3.90" height="107" fill="url(#gR2)"/><rect x="989.5" y="341.4" width="3.90" height="35" fill="url(#gR2)"/><rect x="989.5" y="341.4" width="3.90" height="89" fill="url(#gR2)"/><rect x="989.5" y="341.4" width="3.90" height="39" fill="url(#gR2)"/><rect x="993.4" y="341.4" width="3.90" height="123" fill="url(#gR2)"/><rect x="993.4" y="341.4" width="3.90" height="17" fill="url(#gR2)"/><rect x="993.4" y="341.4" width="3.90" height="267" fill="url(#gR2)"/><rect x="997.3" y="341.4" width="3.90" height="239" fill="url(#gR2)"/><rect x="997.3" y="341.4" width="3.90" height="101" fill="url(#gR2)"/><rect x="997.3" y="341.4" width="3.90" height="25" fill="url(#gR2)"/><rect x="1001.2" y="341.4" width="3.90" height="27" fill="url(#gR2)"/><rect x="1001.2" y="341.4" width="3.90" height="43" fill="url(#gR2)"/><rect x="1001.2" y="341.4" width="3.90" height="34" fill="url(#gR2)"/><rect x="1001.2" y="341.4" width="3.90" height="211" fill="url(#gR2)"/><rect x="1005.1" y="341.4" width="3.90" height="105" fill="url(#gR2)"/><rect x="1005.1" y="341.4" width="3.90" height="243" fill="url(#gR2)"/><rect x="1005.1" y="341.4" width="3.90" height="258" fill="url(#gR2)"/><rect x="1005.1" y="341.4" width="3.90" height="61" fill="url(#gR2)"/><rect x="1009.0" y="341.4" width="3.90" height="45" fill="url(#gR2)"/><rect x="1009.0" y="341.4" width="3.90" height="252" fill="url(#gR2)"/><rect x="1012.9" y="341.4" width="3.90" height="58" fill="url(#gR2)"/><rect x="1012.9" y="341.4" width="3.90" height="61" fill="url(#gR2)"/><rect x="1012.9" y="341.4" width="3.90" height="156" fill="url(#gR2)"/><rect x="1012.9" y="341.4" width="3.90" height="85" fill="url(#gR2)"/><rect x="1016.8" y="341.4" width="3.90" height="36" fill="url(#gR2)"/><rect x="1016.8" y="341.4" width="3.90" height="86" fill="url(#gR2)"/><rect x="1020.7" y="341.4" width="3.90" height="62" fill="url(#gR2)"/><rect x="1024.6" y="341.4" width="3.90" height="44" fill="url(#gR2)"/><rect x="1024.6" y="341.4" width="3.90" height="25" fill="url(#gR2)"/><rect x="1024.6" y="341.4" width="3.90" height="75" fill="url(#gR2)"/><rect x="1024.6" y="341.4" width="3.90" height="22" fill="url(#gR2)"/><rect x="1028.5" y="341.4" width="3.90" height="134" fill="url(#gR2)"/><rect x="1032.4" y="341.4" width="3.90" height="36" fill="url(#gR2)"/><rect x="1032.4" y="341.4" width="3.90" height="57" fill="url(#gR2)"/><rect x="1032.4" y="341.4" width="3.90" height="29" fill="url(#gR2)"/><rect x="1032.4" y="341.4" width="3.90" height="97" fill="url(#gR2)"/><rect x="1032.4" y="341.4" width="3.90" height="147" fill="url(#gR2)"/><rect x="1036.3" y="341.4" width="3.90" height="55" fill="url(#gR2)"/><rect x="1040.2" y="341.4" width="3.90" height="135" fill="url(#gR2)"/><rect x="1040.2" y="341.4" width="3.90" height="267" fill="url(#gR2)"/><rect x="1040.2" y="341.4" width="3.90" height="44" fill="url(#gR2)"/><rect x="1040.2" y="341.4" width="3.90" height="112" fill="url(#gR2)"/><rect x="1044.1" y="341.4" width="3.90" height="72" fill="url(#gR2)"/><rect x="1044.1" y="341.4" width="3.90" height="177" fill="url(#gR2)"/><rect x="1044.1" y="341.4" width="3.90" height="112" fill="url(#gR2)"/><rect x="1044.1" y="341.4" width="3.90" height="12" fill="url(#gR2)"/><rect x="1048.0" y="341.4" width="3.90" height="64" fill="url(#gR2)"/><rect x="1048.0" y="341.4" width="3.90" height="26" fill="url(#gR2)"/><rect x="1051.9" y="341.4" width="3.90" height="28" fill="url(#gR2)"/><rect x="1051.9" y="341.4" width="3.90" height="32" fill="url(#gR2)"/><rect x="1051.9" y="341.4" width="3.90" height="39" fill="url(#gR2)"/><rect x="1051.9" y="341.4" width="3.90" height="174" fill="url(#gR2)"/><rect x="1055.8" y="341.4" width="3.90" height="103" fill="url(#gR2)"/><rect x="1055.8" y="341.4" width="3.90" height="83" fill="url(#gR2)"/><rect x="1055.8" y="341.4" width="3.90" height="139" fill="url(#gR2)"/><rect x="1059.7" y="341.4" width="3.90" height="20" fill="url(#gR2)"/><rect x="1059.7" y="341.4" width="3.90" height="56" fill="url(#gR2)"/><rect x="1059.7" y="341.4" width="3.90" height="32" fill="url(#gR2)"/><rect x="1059.7" y="341.4" width="3.90" height="122" fill="url(#gR2)"/><rect x="1059.7" y="341.4" width="3.90" height="36" fill="url(#gR2)"/><rect x="1063.6" y="341.4" width="3.90" height="102" fill="url(#gR2)"/><rect x="1067.5" y="341.4" width="3.90" height="138" fill="url(#gR2)"/><rect x="1067.5" y="341.4" width="3.90" height="67" fill="url(#gR2)"/><rect x="1067.5" y="341.4" width="3.90" height="121" fill="url(#gR2)"/><rect x="1067.5" y="341.4" width="3.90" height="74" fill="url(#gR2)"/><rect x="1071.4" y="341.4" width="3.90" height="33" fill="url(#gR2)"/><rect x="1075.3" y="341.4" width="3.90" height="32" fill="url(#gR2)"/><rect x="1075.3" y="341.4" width="3.90" height="27" fill="url(#gR2)"/><rect x="1075.3" y="341.4" width="3.90" height="32" fill="url(#gR2)"/><rect x="1075.3" y="341.4" width="3.90" height="31" fill="url(#gR2)"/><rect x="1075.3" y="341.4" width="3.90" height="52" fill="url(#gR2)"/><rect x="1079.2" y="341.4" width="3.90" height="64" fill="url(#gR2)"/><rect x="1079.2" y="341.4" width="3.90" height="94" fill="url(#gR2)"/><rect x="1079.2" y="341.4" width="3.90" height="37" fill="url(#gR2)"/><rect x="1083.0" y="341.4" width="3.90" height="16" fill="url(#gR2)"/><rect x="1083.0" y="341.4" width="3.90" height="24" fill="url(#gR2)"/><rect x="1083.0" y="341.4" width="3.90" height="58" fill="url(#gR2)"/><rect x="1086.9" y="341.4" width="3.90" height="64" fill="url(#gR2)"/><rect x="1086.9" y="341.4" width="3.90" height="74" fill="url(#gR2)"/><rect x="1086.9" y="341.4" width="3.90" height="60" fill="url(#gR2)"/><rect x="1086.9" y="341.4" width="3.90" height="21" fill="url(#gR2)"/><rect x="1086.9" y="341.4" width="3.90" height="142" fill="url(#gR2)"/><rect x="1090.8" y="341.4" width="3.90" height="12" fill="url(#gR2)"/><rect x="1090.8" y="341.4" width="3.90" height="71" fill="url(#gR2)"/><rect x="1090.8" y="341.4" width="3.90" height="57" fill="url(#gR2)"/><rect x="1094.7" y="341.4" width="3.90" height="70" fill="url(#gR2)"/><rect x="1094.7" y="341.4" width="3.90" height="47" fill="url(#gR2)"/><rect x="1094.7" y="341.4" width="3.90" height="94" fill="url(#gR2)"/><rect x="1094.7" y="341.4" width="3.90" height="45" fill="url(#gR2)"/><rect x="1102.5" y="341.4" width="3.90" height="175" fill="url(#gR2)"/><rect x="1102.5" y="341.4" width="3.90" height="19" fill="url(#gR2)"/><rect x="1102.5" y="341.4" width="3.90" height="17" fill="url(#gR2)"/><rect x="1106.4" y="341.4" width="3.90" height="26" fill="url(#gR2)"/><rect x="1106.4" y="341.4" width="3.90" height="26" fill="url(#gR2)"/><rect x="1106.4" y="341.4" width="3.90" height="50" fill="url(#gR2)"/><rect x="1106.4" y="341.4" width="3.90" height="21" fill="url(#gR2)"/><rect x="1110.3" y="341.4" width="3.90" height="265" fill="url(#gR2)"/><rect x="1110.3" y="341.4" width="3.90" height="94" fill="url(#gR2)"/><rect x="1114.2" y="341.4" width="3.90" height="60" fill="url(#gR2)"/><rect x="1114.2" y="341.4" width="3.90" height="80" fill="url(#gR2)"/><rect x="1114.2" y="341.4" width="3.90" height="60" fill="url(#gR2)"/><rect x="1114.2" y="341.4" width="3.90" height="113" fill="url(#gR2)"/><rect x="1122.0" y="341.4" width="3.90" height="64" fill="url(#gR2)"/><rect x="1122.0" y="341.4" width="3.90" height="72" fill="url(#gR2)"/><rect x="1122.0" y="341.4" width="3.90" height="178" fill="url(#gR2)"/><rect x="1122.0" y="341.4" width="3.90" height="204" fill="url(#gR2)"/><rect x="1122.0" y="341.4" width="3.90" height="18" fill="url(#gR2)"/><rect x="1122.0" y="341.4" width="3.90" height="39" fill="url(#gR2)"/><rect x="1125.9" y="341.4" width="3.90" height="15" fill="url(#gR2)"/><rect x="1125.9" y="341.4" width="3.90" height="73" fill="url(#gR2)"/><rect x="1125.9" y="341.4" width="3.90" height="50" fill="url(#gR2)"/><rect x="1125.9" y="341.4" width="3.90" height="46" fill="url(#gR2)"/><rect x="1125.9" y="341.4" width="3.90" height="14" fill="url(#gR2)"/><rect x="1129.8" y="341.4" width="3.90" height="31" fill="url(#gR2)"/><rect x="1129.8" y="341.4" width="3.90" height="14" fill="url(#gR2)"/><rect x="1129.8" y="341.4" width="3.90" height="68" fill="url(#gR2)"/><rect x="1133.7" y="341.4" width="3.90" height="101" fill="url(#gR2)"/><rect x="1133.7" y="341.4" width="3.90" height="221" fill="url(#gR2)"/><rect x="1137.6" y="341.4" width="3.90" height="34" fill="url(#gR2)"/><rect x="1137.6" y="341.4" width="3.90" height="15" fill="url(#gR2)"/><rect x="1137.6" y="341.4" width="3.90" height="171" fill="url(#gR2)"/><rect x="1141.5" y="341.4" width="3.90" height="55" fill="url(#gR2)"/><rect x="1145.4" y="341.4" width="3.90" height="31" fill="url(#gR2)"/><rect x="1145.4" y="341.4" width="3.90" height="115" fill="url(#gR2)"/><rect x="1145.4" y="341.4" width="3.90" height="27" fill="url(#gR2)"/><rect x="1149.3" y="341.4" width="3.90" height="20" fill="url(#gR2)"/><rect x="1149.3" y="341.4" width="3.90" height="210" fill="url(#gR2)"/><rect x="1153.2" y="341.4" width="3.90" height="19" fill="url(#gR2)"/><rect x="1153.2" y="341.4" width="3.90" height="36" fill="url(#gR2)"/><rect x="1153.2" y="341.4" width="3.90" height="44" fill="url(#gR2)"/><rect x="1153.2" y="341.4" width="3.90" height="27" fill="url(#gR2)"/><rect x="1153.2" y="341.4" width="3.90" height="130" fill="url(#gR2)"/><rect x="1157.1" y="341.4" width="3.90" height="92" fill="url(#gR2)"/><rect x="1157.1" y="341.4" width="3.90" height="16" fill="url(#gR2)"/><rect x="1157.1" y="341.4" width="3.90" height="108" fill="url(#gR2)"/><rect x="1157.1" y="341.4" width="3.90" height="39" fill="url(#gR2)"/><rect x="1161.0" y="341.4" width="3.90" height="163" fill="url(#gR2)"/><rect x="1161.0" y="341.4" width="3.90" height="40" fill="url(#gR2)"/><rect x="1161.0" y="341.4" width="3.90" height="89" fill="url(#gR2)"/><rect x="1161.0" y="341.4" width="3.90" height="207" fill="url(#gR2)"/><rect x="1164.9" y="341.4" width="3.90" height="85" fill="url(#gR2)"/><rect x="1164.9" y="341.4" width="3.90" height="57" fill="url(#gR2)"/><rect x="1164.9" y="341.4" width="3.90" height="34" fill="url(#gR2)"/><rect x="1164.9" y="341.4" width="3.90" height="53" fill="url(#gR2)"/><rect x="1168.8" y="341.4" width="3.90" height="13" fill="url(#gR2)"/><rect x="1168.8" y="341.4" width="3.90" height="36" fill="url(#gR2)"/><rect x="1172.7" y="341.4" width="3.90" height="28" fill="url(#gR2)"/><rect x="1172.7" y="341.4" width="3.90" height="52" fill="url(#gR2)"/><rect x="1172.7" y="341.4" width="3.90" height="25" fill="url(#gR2)"/><rect x="1172.7" y="341.4" width="3.90" height="168" fill="url(#gR2)"/><rect x="1176.6" y="341.4" width="3.90" height="33" fill="url(#gR2)"/><rect x="1180.5" y="341.4" width="3.90" height="50" fill="url(#gR2)"/><rect x="1184.4" y="341.4" width="3.90" height="40" fill="url(#gR2)"/><rect x="1184.4" y="341.4" width="3.90" height="40" fill="url(#gR2)"/><rect x="1184.4" y="341.4" width="3.90" height="46" fill="url(#gR2)"/><rect x="1188.3" y="341.4" width="3.90" height="88" fill="url(#gR2)"/><rect x="1188.3" y="341.4" width="3.90" height="21" fill="url(#gR2)"/><rect x="1192.2" y="341.4" width="3.90" height="13" fill="url(#gR2)"/><rect x="1196.1" y="341.4" width="3.90" height="39" fill="url(#gR2)"/><rect x="1196.1" y="341.4" width="3.90" height="108" fill="url(#gR2)"/><rect x="1200.0" y="341.4" width="3.90" height="78" fill="url(#gR2)"/><rect x="1203.9" y="341.4" width="3.90" height="75" fill="url(#gR2)"/><rect x="1203.9" y="341.4" width="3.90" height="143" fill="url(#gR2)"/><rect x="1207.8" y="341.4" width="3.90" height="77" fill="url(#gR2)"/><rect x="1207.8" y="341.4" width="3.90" height="73" fill="url(#gR2)"/><rect x="1207.8" y="341.4" width="3.90" height="85" fill="url(#gR2)"/><rect x="1207.8" y="341.4" width="3.90" height="23" fill="url(#gR2)"/><rect x="1211.7" y="341.4" width="3.90" height="61" fill="url(#gR2)"/><rect x="1211.7" y="341.4" width="3.90" height="59" fill="url(#gR2)"/><rect x="1215.6" y="341.4" width="3.90" height="97" fill="url(#gR2)"/><rect x="1219.5" y="341.4" width="3.90" height="71" fill="url(#gR2)"/><rect x="1227.3" y="341.4" width="3.90" height="69" fill="url(#gR2)"/><rect x="1227.3" y="341.4" width="3.90" height="20" fill="url(#gR2)"/><rect x="1231.2" y="341.4" width="3.90" height="22" fill="url(#gR2)"/><rect x="1231.2" y="341.4" width="3.90" height="23" fill="url(#gR2)"/><rect x="1231.2" y="341.4" width="3.90" height="105" fill="url(#gR2)"/><rect x="1231.2" y="341.4" width="3.90" height="20" fill="url(#gR2)"/><rect x="1235.1" y="341.4" width="3.90" height="165" fill="url(#gR2)"/><rect x="1235.1" y="341.4" width="3.90" height="116" fill="url(#gR2)"/><rect x="1239.0" y="341.4" width="3.90" height="36" fill="url(#gR2)"/><rect x="1239.0" y="341.4" width="3.90" height="31" fill="url(#gR2)"/><rect x="1242.9" y="341.4" width="3.90" height="34" fill="url(#gR2)"/><rect x="1242.9" y="341.4" width="3.90" height="13" fill="url(#gR2)"/><rect x="1242.9" y="341.4" width="3.90" height="25" fill="url(#gR2)"/><rect x="1242.9" y="341.4" width="3.90" height="76" fill="url(#gR2)"/><rect x="1250.7" y="341.4" width="3.90" height="124" fill="url(#gR2)"/><rect x="1254.6" y="341.4" width="3.90" height="27" fill="url(#gR2)"/><rect x="1254.6" y="341.4" width="3.90" height="13" fill="url(#gR2)"/><rect x="1254.6" y="341.4" width="3.90" height="16" fill="url(#gR2)"/><rect x="1254.6" y="341.4" width="3.90" height="65" fill="url(#gR2)"/><rect x="1254.6" y="341.4" width="3.90" height="14" fill="url(#gR2)"/><rect x="1258.5" y="341.4" width="3.90" height="80" fill="url(#gR2)"/><rect x="1258.5" y="341.4" width="3.90" height="22" fill="url(#gR2)"/><rect x="1262.4" y="341.4" width="3.90" height="28" fill="url(#gR2)"/><rect x="1266.3" y="341.4" width="3.90" height="22" fill="url(#gR2)"/><rect x="1266.3" y="341.4" width="3.90" height="27" fill="url(#gR2)"/><rect x="1266.3" y="341.4" width="3.90" height="99" fill="url(#gR2)"/><rect x="1270.2" y="341.4" width="3.90" height="16" fill="url(#gR2)"/><rect x="1274.1" y="341.4" width="3.90" height="69" fill="url(#gR2)"/><rect x="1281.9" y="341.4" width="3.90" height="58" fill="url(#gR2)"/><rect x="1281.9" y="341.4" width="3.90" height="93" fill="url(#gR2)"/><rect x="1281.9" y="341.4" width="3.90" height="35" fill="url(#gR2)"/><rect x="1285.8" y="341.4" width="3.90" height="54" fill="url(#gR2)"/><rect x="1285.8" y="341.4" width="3.90" height="21" fill="url(#gR2)"/><rect x="1289.7" y="341.4" width="3.90" height="27" fill="url(#gR2)"/><rect x="1289.7" y="341.4" width="3.90" height="32" fill="url(#gR2)"/><rect x="1293.6" y="341.4" width="3.90" height="115" fill="url(#gR2)"/><rect x="1293.6" y="341.4" width="3.90" height="71" fill="url(#gR2)"/><rect x="1297.5" y="341.4" width="3.90" height="267" fill="url(#gR2)"/><rect x="1301.4" y="341.4" width="3.90" height="76" fill="url(#gR2)"/><rect x="1305.3" y="341.4" width="3.90" height="16" fill="url(#gR2)"/><rect x="1305.3" y="341.4" width="3.90" height="21" fill="url(#gR2)"/><rect x="1309.2" y="341.4" width="3.90" height="68" fill="url(#gR2)"/><rect x="1309.2" y="341.4" width="3.90" height="78" fill="url(#gR2)"/><rect x="1309.2" y="341.4" width="3.90" height="90" fill="url(#gR2)"/><rect x="1309.2" y="341.4" width="3.90" height="60" fill="url(#gR2)"/><rect x="1313.1" y="341.4" width="3.90" height="23" fill="url(#gR2)"/><rect x="1313.1" y="341.4" width="3.90" height="78" fill="url(#gR2)"/><rect x="1317.0" y="341.4" width="3.90" height="45" fill="url(#gR2)"/><rect x="1320.9" y="341.4" width="3.90" height="110" fill="url(#gR2)"/><rect x="1320.9" y="341.4" width="3.90" height="56" fill="url(#gR2)"/><rect x="1320.9" y="341.4" width="3.90" height="23" fill="url(#gR2)"/><rect x="1324.8" y="341.4" width="3.90" height="30" fill="url(#gR2)"/><rect x="1324.8" y="341.4" width="3.90" height="38" fill="url(#gR2)"/><rect x="1324.8" y="341.4" width="3.90" height="15" fill="url(#gR2)"/><rect x="1328.7" y="341.4" width="3.90" height="210" fill="url(#gR2)"/><rect x="1328.7" y="341.4" width="3.90" height="57" fill="url(#gR2)"/><rect x="1332.6" y="341.4" width="3.90" height="24" fill="url(#gR2)"/><rect x="1336.5" y="341.4" width="3.90" height="86" fill="url(#gR2)"/><rect x="1336.5" y="341.4" width="3.90" height="103" fill="url(#gR2)"/><rect x="1340.4" y="341.4" width="3.90" height="22" fill="url(#gR2)"/><rect x="1340.4" y="341.4" width="3.90" height="44" fill="url(#gR2)"/><rect x="1340.4" y="341.4" width="3.90" height="87" fill="url(#gR2)"/><rect x="1340.4" y="341.4" width="3.90" height="25" fill="url(#gR2)"/><rect x="1340.4" y="341.4" width="3.90" height="23" fill="url(#gR2)"/><rect x="1344.3" y="341.4" width="3.90" height="47" fill="url(#gR2)"/><rect x="1344.3" y="341.4" width="3.90" height="55" fill="url(#gR2)"/><rect x="1352.1" y="341.4" width="3.90" height="15" fill="url(#gR2)"/><rect x="1352.1" y="341.4" width="3.90" height="43" fill="url(#gR2)"/><rect x="1352.1" y="341.4" width="3.90" height="18" fill="url(#gR2)"/><rect x="1356.0" y="341.4" width="3.90" height="45" fill="url(#gR2)"/><rect x="1359.9" y="341.4" width="3.90" height="52" fill="url(#gR2)"/><rect x="1359.9" y="341.4" width="3.90" height="111" fill="url(#gR2)"/><rect x="1359.9" y="341.4" width="3.90" height="44" fill="url(#gR2)"/><rect x="1363.8" y="341.4" width="3.90" height="48" fill="url(#gR2)"/><rect x="1363.8" y="341.4" width="3.90" height="66" fill="url(#gR2)"/><rect x="1363.8" y="341.4" width="3.90" height="19" fill="url(#gR2)"/><rect x="1367.6" y="341.4" width="3.90" height="21" fill="url(#gR2)"/><rect x="1367.6" y="341.4" width="3.90" height="24" fill="url(#gR2)"/><rect x="1367.6" y="341.4" width="3.90" height="13" fill="url(#gR2)"/><rect x="1371.5" y="341.4" width="3.90" height="76" fill="url(#gR2)"/><rect x="1371.5" y="341.4" width="3.90" height="27" fill="url(#gR2)"/><rect x="1371.5" y="341.4" width="3.90" height="49" fill="url(#gR2)"/><rect x="1375.4" y="341.4" width="3.90" height="117" fill="url(#gR2)"/><rect x="1375.4" y="341.4" width="3.90" height="119" fill="url(#gR2)"/><rect x="1379.3" y="341.4" width="3.90" height="161" fill="url(#gR2)"/><rect x="1379.3" y="341.4" width="3.90" height="24" fill="url(#gR2)"/><rect x="1379.3" y="341.4" width="3.90" height="50" fill="url(#gR2)"/><rect x="1383.2" y="341.4" width="3.90" height="38" fill="url(#gR2)"/><rect x="1383.2" y="341.4" width="3.90" height="65" fill="url(#gR2)"/><rect x="1383.2" y="341.4" width="3.90" height="24" fill="url(#gR2)"/><rect x="1383.2" y="341.4" width="3.90" height="24" fill="url(#gR2)"/><rect x="1387.1" y="341.4" width="3.90" height="202" fill="url(#gR2)"/><rect x="1387.1" y="341.4" width="3.90" height="61" fill="url(#gR2)"/><rect x="1391.0" y="341.4" width="3.90" height="31" fill="url(#gR2)"/><rect x="1391.0" y="341.4" width="3.90" height="86" fill="url(#gR2)"/><rect x="1391.0" y="341.4" width="3.90" height="29" fill="url(#gR2)"/><rect x="1394.9" y="341.4" width="3.90" height="85" fill="url(#gR2)"/><rect x="1394.9" y="341.4" width="3.90" height="55" fill="url(#gR2)"/><rect x="1398.8" y="341.4" width="3.90" height="121" fill="url(#gR2)"/><rect x="1398.8" y="341.4" width="3.90" height="20" fill="url(#gR2)"/><rect x="1402.7" y="341.4" width="3.90" height="59" fill="url(#gR2)"/><rect x="1402.7" y="341.4" width="3.90" height="13" fill="url(#gR2)"/><rect x="1410.5" y="341.4" width="3.90" height="15" fill="url(#gR2)"/><rect x="1414.4" y="341.4" width="3.90" height="20" fill="url(#gR2)"/><rect x="1414.4" y="341.4" width="3.90" height="12" fill="url(#gR2)"/><rect x="1414.4" y="341.4" width="3.90" height="14" fill="url(#gR2)"/><rect x="1414.4" y="341.4" width="3.90" height="16" fill="url(#gR2)"/><rect x="1422.2" y="341.4" width="3.90" height="12" fill="url(#gR2)"/><rect x="1422.2" y="341.4" width="3.90" height="41" fill="url(#gR2)"/><rect x="1426.1" y="341.4" width="3.90" height="64" fill="url(#gR2)"/><rect x="1426.1" y="341.4" width="3.90" height="37" fill="url(#gR2)"/><rect x="1426.1" y="341.4" width="3.90" height="20" fill="url(#gR2)"/><rect x="1430.0" y="341.4" width="3.90" height="19" fill="url(#gR2)"/><rect x="1430.0" y="341.4" width="3.90" height="82" fill="url(#gR2)"/><rect x="1430.0" y="341.4" width="3.90" height="156" fill="url(#gR2)"/><rect x="1430.0" y="341.4" width="3.90" height="15" fill="url(#gR2)"/><rect x="1430.0" y="341.4" width="3.90" height="115" fill="url(#gR2)"/><rect x="1433.9" y="341.4" width="3.90" height="90" fill="url(#gR2)"/><rect x="1437.8" y="341.4" width="3.90" height="81" fill="url(#gR2)"/><rect x="1437.8" y="341.4" width="3.90" height="51" fill="url(#gR2)"/><rect x="1441.7" y="341.4" width="3.90" height="39" fill="url(#gR2)"/><rect x="1449.5" y="341.4" width="3.90" height="14" fill="url(#gR2)"/><rect x="1453.4" y="341.4" width="3.90" height="28" fill="url(#gR2)"/><rect x="1453.4" y="341.4" width="3.90" height="70" fill="url(#gR2)"/><rect x="1453.4" y="341.4" width="3.90" height="27" fill="url(#gR2)"/><rect x="1457.3" y="341.4" width="3.90" height="41" fill="url(#gR2)"/><rect x="1457.3" y="341.4" width="3.90" height="21" fill="url(#gR2)"/><rect x="1461.2" y="341.4" width="3.90" height="49" fill="url(#gR2)"/><rect x="1465.1" y="341.4" width="3.90" height="86" fill="url(#gR2)"/><rect x="1469.0" y="341.4" width="3.90" height="19" fill="url(#gR2)"/><rect x="1469.0" y="341.4" width="3.90" height="35" fill="url(#gR2)"/><rect x="1469.0" y="341.4" width="3.90" height="53" fill="url(#gR2)"/><rect x="1472.9" y="341.4" width="3.90" height="87" fill="url(#gR2)"/><rect x="1472.9" y="341.4" width="3.90" height="35" fill="url(#gR2)"/><rect x="1472.9" y="341.4" width="3.90" height="40" fill="url(#gR2)"/><rect x="1472.9" y="341.4" width="3.90" height="154" fill="url(#gR2)"/><rect x="1476.8" y="341.4" width="3.90" height="25" fill="url(#gR2)"/><rect x="1484.6" y="341.4" width="3.90" height="28" fill="url(#gR2)"/><rect x="1484.6" y="341.4" width="3.90" height="87" fill="url(#gR2)"/><rect x="1488.5" y="341.4" width="3.90" height="56" fill="url(#gR2)"/><rect x="1496.3" y="341.4" width="3.90" height="34" fill="url(#gR2)"/><rect x="1500.2" y="341.4" width="3.90" height="15" fill="url(#gR2)"/><rect x="1500.2" y="341.4" width="3.90" height="29" fill="url(#gR2)"/><rect x="1500.2" y="341.4" width="3.90" height="15" fill="url(#gR2)"/><rect x="1500.2" y="341.4" width="3.90" height="19" fill="url(#gR2)"/><rect x="1504.1" y="341.4" width="3.90" height="13" fill="url(#gR2)"/><rect x="1504.1" y="341.4" width="3.90" height="88" fill="url(#gR2)"/><rect x="1504.1" y="341.4" width="3.90" height="57" fill="url(#gR2)"/><rect x="1504.1" y="341.4" width="3.90" height="125" fill="url(#gR2)"/>
<rect x="85.0" y="341.4" width="1423.0" height="40" fill="url(#gRb)"/>
</g>
<line x1="85.0" y1="581.3" x2="1508.0" y2="581.3" stroke="rgba(255,255,255,0.22)" stroke-width="1"/>
<line x1="85.0" y1="554.7" x2="1508.0" y2="554.7" stroke="rgba(255,255,255,0.22)" stroke-width="1"/>
<line x1="85.0" y1="528.0" x2="1508.0" y2="528.0" stroke="rgba(255,255,255,0.22)" stroke-width="1"/>
<line x1="85.0" y1="501.4" x2="1508.0" y2="501.4" stroke="rgba(255,255,255,0.22)" stroke-width="1"/>
<line x1="85.0" y1="474.7" x2="1508.0" y2="474.7" stroke="rgba(255,255,255,0.22)" stroke-width="1"/>
<line x1="85.0" y1="448.0" x2="1508.0" y2="448.0" stroke="rgba(255,255,255,0.22)" stroke-width="1"/>
<line x1="85.0" y1="421.4" x2="1508.0" y2="421.4" stroke="rgba(255,255,255,0.22)" stroke-width="1"/>
<line x1="85.0" y1="394.7" x2="1508.0" y2="394.7" stroke="rgba(255,255,255,0.22)" stroke-width="1"/>
<line x1="85.0" y1="368.1" x2="1508.0" y2="368.1" stroke="rgba(255,255,255,0.22)" stroke-width="1"/>
<line x1="85.0" y1="314.7" x2="1508.0" y2="314.7" stroke="rgba(255,255,255,0.22)" stroke-width="1"/>
<line x1="85.0" y1="288.1" x2="1508.0" y2="288.1" stroke="rgba(255,255,255,0.22)" stroke-width="1"/>
<line x1="85.0" y1="261.4" x2="1508.0" y2="261.4" stroke="rgba(255,255,255,0.22)" stroke-width="1"/>
<line x1="85.0" y1="234.8" x2="1508.0" y2="234.8" stroke="rgba(255,255,255,0.22)" stroke-width="1"/>
<line x1="85.0" y1="208.1" x2="1508.0" y2="208.1" stroke="rgba(255,255,255,0.22)" stroke-width="1"/>
<line x1="85.0" y1="181.4" x2="1508.0" y2="181.4" stroke="rgba(255,255,255,0.22)" stroke-width="1"/>
<line x1="85.0" y1="154.8" x2="1508.0" y2="154.8" stroke="rgba(255,255,255,0.22)" stroke-width="1"/>
<line x1="85.0" y1="128.1" x2="1508.0" y2="128.1" stroke="rgba(255,255,255,0.22)" stroke-width="1"/>
<line x1="85.0" y1="101.5" x2="1508.0" y2="101.5" stroke="rgba(255,255,255,0.22)" stroke-width="1"/>
<line x1="205.9" y1="74.8" x2="205.9" y2="613.0" stroke="rgba(255,255,255,0.36)" stroke-width="1.2"/>
<line x1="315.0" y1="74.8" x2="315.0" y2="613.0" stroke="rgba(255,255,255,0.36)" stroke-width="1.2"/>
<line x1="435.9" y1="74.8" x2="435.9" y2="613.0" stroke="rgba(255,255,255,0.36)" stroke-width="1.2"/>
<line x1="552.8" y1="74.8" x2="552.8" y2="613.0" stroke="rgba(255,255,255,0.36)" stroke-width="1.2"/>
<line x1="673.7" y1="74.8" x2="673.7" y2="613.0" stroke="rgba(255,255,255,0.36)" stroke-width="1.2"/>
<line x1="790.7" y1="74.8" x2="790.7" y2="613.0" stroke="rgba(255,255,255,0.36)" stroke-width="1.2"/>
<line x1="911.5" y1="74.8" x2="911.5" y2="613.0" stroke="rgba(255,255,255,0.36)" stroke-width="1.2"/>
<line x1="1032.4" y1="74.8" x2="1032.4" y2="613.0" stroke="rgba(255,255,255,0.36)" stroke-width="1.2"/>
<line x1="1149.3" y1="74.8" x2="1149.3" y2="613.0" stroke="rgba(255,255,255,0.36)" stroke-width="1.2"/>
<line x1="1270.2" y1="74.8" x2="1270.2" y2="613.0" stroke="rgba(255,255,255,0.36)" stroke-width="1.2"/>
<line x1="1387.1" y1="74.8" x2="1387.1" y2="613.0" stroke="rgba(255,255,255,0.36)" stroke-width="1.2"/>
<path d="M85.0,222.8 L92.8,222.7 L100.6,222.6 L108.4,222.4 L116.2,222.2 L124.0,222.1 L131.8,221.8 L139.6,221.6 L147.4,221.4 L155.2,221.1 L163.0,220.8 L170.8,220.5 L178.6,220.2 L186.4,219.9 L194.2,219.5 L202.0,219.2 L209.8,218.8 L217.6,218.4 L225.4,218.0 L233.1,217.5 L240.9,217.1 L248.7,216.7 L256.5,216.2 L264.3,215.7 L272.1,215.2 L279.9,214.7 L287.7,214.2 L295.5,213.7 L303.3,213.2 L311.1,212.7 L318.9,212.1 L326.7,211.6 L334.5,211.0 L342.3,210.5 L350.1,209.9 L357.9,209.3 L365.7,208.7 L373.5,208.2 L381.3,207.6 L389.1,207.0 L396.9,206.4 L404.7,205.8 L412.5,205.3 L420.3,204.7 L428.1,204.1 L435.9,203.5 L443.7,203.0 L451.5,202.4 L459.3,201.8 L467.1,201.3 L474.9,200.7 L482.7,200.2 L490.5,199.6 L498.3,199.1 L506.1,198.6 L513.8,198.1 L521.6,197.6 L529.4,197.1 L537.2,196.6 L545.0,196.1 L552.8,195.7 L560.6,195.2 L568.4,194.8 L576.2,194.3 L584.0,193.9 L591.8,193.6 L599.6,193.2 L607.4,192.8 L615.2,192.5 L623.0,192.1 L630.8,191.8 L638.6,191.5 L646.4,191.3 L654.2,191.0 L662.0,190.7 L669.8,190.5 L677.6,190.3 L685.4,190.1 L693.2,190.0 L701.0,189.8 L708.8,189.7 L716.6,189.6 L724.4,189.5 L732.2,189.4 L740.0,189.4 L747.8,189.3 L755.6,189.3 L763.4,189.3 L771.2,189.4 L779.0,189.4 L786.8,189.5 L794.6,189.6 L802.3,189.7 L810.1,189.8 L817.9,190.0 L825.7,190.1 L833.5,190.3 L841.3,190.5 L849.1,190.7 L856.9,191.0 L864.7,191.3 L872.5,191.5 L880.3,191.8 L888.1,192.1 L895.9,192.5 L903.7,192.8 L911.5,193.2 L919.3,193.6 L927.1,193.9 L934.9,194.3 L942.7,194.8 L950.5,195.2 L958.3,195.7 L966.1,196.1 L973.9,196.6 L981.7,197.1 L989.5,197.6 L997.3,198.1 L1005.1,198.6 L1012.9,199.1 L1020.7,199.6 L1028.5,200.2 L1036.3,200.7 L1044.1,201.3 L1051.9,201.8 L1059.7,202.4 L1067.5,203.0 L1075.3,203.5 L1083.0,204.1 L1090.8,204.7 L1098.6,205.3 L1106.4,205.8 L1114.2,206.4 L1122.0,207.0 L1129.8,207.6 L1137.6,208.2 L1145.4,208.7 L1153.2,209.3 L1161.0,209.9 L1168.8,210.5 L1176.6,211.0 L1184.4,211.6 L1192.2,212.1 L1200.0,212.7 L1207.8,213.2 L1215.6,213.7 L1223.4,214.2 L1231.2,214.7 L1239.0,215.2 L1246.8,215.7 L1254.6,216.2 L1262.4,216.7 L1270.2,217.1 L1278.0,217.5 L1285.8,218.0 L1293.6,218.4 L1301.4,218.8 L1309.2,219.2 L1317.0,219.5 L1324.8,219.9 L1332.6,220.2 L1340.4,220.5 L1348.2,220.8 L1356.0,221.1 L1363.8,221.4 L1371.5,221.6 L1379.3,221.8 L1387.1,222.1 L1394.9,222.2 L1402.7,222.4 L1410.5,222.6 L1418.3,222.7 L1426.1,222.8 L1433.9,222.9 L1441.7,223.0 L1449.5,223.0 L1457.3,223.1 L1465.1,223.1 L1472.9,223.1 L1480.7,223.1 L1488.5,223.0 L1496.3,223.0 L1504.1,222.9" fill="none" stroke="#20e020" stroke-width="1.7"/>
<path d="M85.0,265.2 L92.8,265.2 L100.6,265.2 L108.4,265.2 L116.2,265.2 L124.0,265.2 L131.8,265.2 L139.6,265.2 L147.4,265.2 L155.2,265.2 L163.0,265.1 L170.8,264.9 L178.6,264.8 L186.4,264.6 L194.2,264.3 L202.0,264.1 L209.8,263.8 L217.6,263.6 L225.4,263.4 L233.1,263.2 L240.9,263.1 L248.7,263.0 L256.5,262.9 L264.3,262.9 L272.1,262.5 L279.9,261.8 L287.7,260.9 L295.5,259.7 L303.3,258.3 L311.1,256.7 L318.9,255.1 L326.7,253.5 L334.5,252.0 L342.3,250.6 L350.1,249.4 L357.9,248.6 L365.7,248.0 L373.5,247.7 L381.3,247.6 L389.1,247.2 L396.9,246.4 L404.7,245.3 L412.5,244.0 L420.3,242.5 L428.1,240.8 L435.9,239.1 L443.7,237.4 L451.5,235.7 L459.3,234.3 L467.1,233.0 L474.9,232.0 L482.7,231.3 L490.5,230.9 L498.3,230.9 L506.1,230.5 L513.8,229.8 L521.6,228.7 L529.4,227.4 L537.2,225.8 L545.0,224.1 L552.8,222.3 L560.6,220.5 L568.4,218.8 L576.2,217.2 L584.0,215.8 L591.8,214.7 L599.6,213.9 L607.4,213.4 L615.2,213.3 L623.0,213.1 L630.8,212.7 L638.6,212.2 L646.4,211.4 L654.2,210.5 L662.0,209.5 L669.8,208.4 L677.6,207.3 L685.4,206.3 L693.2,205.3 L701.0,204.4 L708.8,203.7 L716.6,203.1 L724.4,202.8 L732.2,202.7 L740.0,202.6 L747.8,202.5 L755.6,202.2 L763.4,201.9 L771.2,201.4 L779.0,201.0 L786.8,200.4 L794.6,199.9 L802.3,199.4 L810.1,198.9 L817.9,198.4 L825.7,198.1 L833.5,197.8 L841.3,197.6 L849.1,197.5 L856.9,197.5 L864.7,197.6 L872.5,197.7 L880.3,197.8 L888.1,198.0 L895.9,198.2 L903.7,198.4 L911.5,198.6 L919.3,198.9 L927.1,199.1 L934.9,199.3 L942.7,199.5 L950.5,199.6 L958.3,199.7 L966.1,199.8 L973.9,199.8 L981.7,199.9 L989.5,200.0 L997.3,200.3 L1005.1,200.6 L1012.9,201.0 L1020.7,201.4 L1028.5,201.9 L1036.3,202.3 L1044.1,202.8 L1051.9,203.2 L1059.7,203.6 L1067.5,203.9 L1075.3,204.1 L1083.0,204.3 L1090.8,204.3 L1098.6,204.5 L1106.4,205.0 L1114.2,205.8 L1122.0,206.9 L1129.8,208.2 L1137.6,209.7 L1145.4,211.4 L1153.2,213.0 L1161.0,214.7 L1168.8,216.2 L1176.6,217.6 L1184.4,218.8 L1192.2,219.6 L1200.0,220.2 L1207.8,220.5 L1215.6,220.6 L1223.4,221.0 L1231.2,221.7 L1239.0,222.6 L1246.8,223.8 L1254.6,225.2 L1262.4,226.7 L1270.2,228.2 L1278.0,229.8 L1285.8,231.3 L1293.6,232.6 L1301.4,233.7 L1309.2,234.6 L1317.0,235.2 L1324.8,235.6 L1332.6,235.6 L1340.4,236.0 L1348.2,236.7 L1356.0,237.8 L1363.8,239.1 L1371.5,240.7 L1379.3,242.4 L1387.1,244.2 L1394.9,246.0 L1402.7,247.7 L1410.5,249.3 L1418.3,250.7 L1426.1,251.8 L1433.9,252.6 L1441.7,253.1 L1449.5,253.2 L1457.3,253.2 L1465.1,253.2 L1472.9,253.2 L1480.7,253.2 L1488.5,253.2 L1496.3,253.2 L1504.1,253.2" fill="none" stroke="#ff70ff" stroke-width="1.6"/>
<path d="M85.0,260.8 L92.8,260.8 L100.6,260.8 L108.4,260.8 L116.2,260.8 L124.0,260.8 L131.8,260.8 L139.6,260.8 L147.4,260.8 L155.2,260.9 L163.0,261.2 L170.8,261.6 L178.6,262.1 L186.4,262.7 L194.2,263.4 L202.0,264.2 L209.8,264.9 L217.6,265.6 L225.4,266.2 L233.1,266.8 L240.9,267.2 L248.7,267.5 L256.5,267.7 L264.3,267.6 L272.1,267.1 L279.9,266.1 L287.7,264.6 L295.5,262.8 L303.3,260.6 L311.1,258.2 L318.9,255.8 L326.7,253.3 L334.5,251.0 L342.3,248.9 L350.1,247.2 L357.9,245.8 L365.7,244.9 L373.5,244.5 L381.3,244.5 L389.1,244.3 L396.9,244.0 L404.7,243.6 L412.5,243.1 L420.3,242.5 L428.1,241.9 L435.9,241.3 L443.7,240.6 L451.5,240.0 L459.3,239.5 L467.1,239.0 L474.9,238.6 L482.7,238.3 L490.5,238.2 L498.3,238.2 L506.1,238.3 L513.8,238.4 L521.6,238.5 L529.4,238.8 L537.2,239.0 L545.0,239.3 L552.8,239.6 L560.6,239.9 L568.4,240.1 L576.2,240.4 L584.0,240.6 L591.8,240.8 L599.6,240.9 L607.4,241.0 L615.2,241.0 L623.0,241.0 L630.8,240.8 L638.6,240.7 L646.4,240.5 L654.2,240.2 L662.0,239.9 L669.8,239.6 L677.6,239.3 L685.4,239.0 L693.2,238.7 L701.0,238.5 L708.8,238.3 L716.6,238.1 L724.4,238.0 L732.2,238.0 L740.0,237.8 L747.8,237.3 L755.6,236.6 L763.4,235.5 L771.2,234.2 L779.0,232.8 L786.8,231.2 L794.6,229.6 L802.3,228.0 L810.1,226.5 L817.9,225.2 L825.7,224.1 L833.5,223.2 L841.3,222.7 L849.1,222.4 L856.9,222.4 L864.7,222.6 L872.5,222.8 L880.3,223.1 L888.1,223.5 L895.9,223.9 L903.7,224.4 L911.5,224.8 L919.3,225.3 L927.1,225.8 L934.9,226.2 L942.7,226.6 L950.5,226.9 L958.3,227.1 L966.1,227.3 L973.9,227.3 L981.7,227.3 L989.5,227.2 L997.3,227.1 L1005.1,227.0 L1012.9,226.8 L1020.7,226.7 L1028.5,226.5 L1036.3,226.3 L1044.1,226.1 L1051.9,225.9 L1059.7,225.8 L1067.5,225.7 L1075.3,225.6 L1083.0,225.5 L1090.8,225.5 L1098.6,225.7 L1106.4,226.2 L1114.2,227.1 L1122.0,228.2 L1129.8,229.6 L1137.6,231.2 L1145.4,232.9 L1153.2,234.6 L1161.0,236.3 L1168.8,237.9 L1176.6,239.4 L1184.4,240.6 L1192.2,241.5 L1200.0,242.1 L1207.8,242.4 L1215.6,242.5 L1223.4,242.9 L1231.2,243.5 L1239.0,244.5 L1246.8,245.6 L1254.6,246.9 L1262.4,248.4 L1270.2,249.9 L1278.0,251.4 L1285.8,252.8 L1293.6,254.1 L1301.4,255.2 L1309.2,256.1 L1317.0,256.7 L1324.8,257.0 L1332.6,257.0 L1340.4,257.2 L1348.2,257.5 L1356.0,258.0 L1363.8,258.6 L1371.5,259.3 L1379.3,260.1 L1387.1,260.9 L1394.9,261.8 L1402.7,262.6 L1410.5,263.3 L1418.3,264.0 L1426.1,264.5 L1433.9,264.8 L1441.7,265.1 L1449.5,265.1 L1457.3,265.1 L1465.1,265.1 L1472.9,265.1 L1480.7,265.1 L1488.5,265.1 L1496.3,265.1 L1504.1,265.1" fill="none" stroke="#f0f030" stroke-width="1.6"/>
<path d="M85.0,360.3 L92.8,360.3 L100.6,360.3 L108.4,360.3 L116.2,360.3 L124.0,360.3 L131.8,360.3 L139.6,360.3 L147.4,360.3 L155.2,360.4 L163.0,360.7 L170.8,361.1 L178.6,361.6 L186.4,362.3 L194.2,363.0 L202.0,363.7 L209.8,364.4 L217.6,365.2 L225.4,365.8 L233.1,366.4 L240.9,366.8 L248.7,367.1 L256.5,367.3 L264.3,367.3 L272.1,367.2 L279.9,367.2 L287.7,367.0 L295.5,366.9 L303.3,366.7 L311.1,366.5 L318.9,366.3 L326.7,366.1 L334.5,365.9 L342.3,365.7 L350.1,365.5 L357.9,365.4 L365.7,365.3 L373.5,365.3 L381.3,365.3 L389.1,365.5 L396.9,365.9 L404.7,366.4 L412.5,366.9 L420.3,367.6 L428.1,368.3 L435.9,369.1 L443.7,369.8 L451.5,370.6 L459.3,371.2 L467.1,371.8 L474.9,372.2 L482.7,372.5 L490.5,372.7 L498.3,372.7 L506.1,373.0 L513.8,373.5 L521.6,374.3 L529.4,375.3 L537.2,376.4 L545.0,377.7 L552.8,379.0 L560.6,380.4 L568.4,381.6 L576.2,382.8 L584.0,383.9 L591.8,384.7 L599.6,385.3 L607.4,385.6 L615.2,385.7 L623.0,386.1 L630.8,386.9 L638.6,388.1 L646.4,389.7 L654.2,391.5 L662.0,393.6 L669.8,395.9 L677.6,398.1 L685.4,400.3 L693.2,402.4 L701.0,404.2 L708.8,405.7 L716.6,406.8 L724.4,407.5 L732.2,407.7 L740.0,407.6 L747.8,407.1 L755.6,406.4 L763.4,405.5 L771.2,404.4 L779.0,403.1 L786.8,401.7 L794.6,400.3 L802.3,398.9 L810.1,397.6 L817.9,396.5 L825.7,395.5 L833.5,394.7 L841.3,394.2 L849.1,394.0 L856.9,394.2 L864.7,394.8 L872.5,396.0 L880.3,397.7 L888.1,399.8 L895.9,402.2 L903.7,404.8 L911.5,407.5 L919.3,410.2 L927.1,412.8 L934.9,415.2 L942.7,417.3 L950.5,419.0 L958.3,420.2 L966.1,420.8 L973.9,421.0 L981.7,420.3 L989.5,418.9 L997.3,416.7 L1005.1,413.8 L1012.9,410.4 L1020.7,406.6 L1028.5,402.5 L1036.3,398.4 L1044.1,394.4 L1051.9,390.7 L1059.7,387.4 L1067.5,384.7 L1075.3,382.7 L1083.0,381.4 L1090.8,381.0 L1098.6,380.9 L1106.4,380.7 L1114.2,380.4 L1122.0,379.9 L1129.8,379.3 L1137.6,378.6 L1145.4,377.9 L1153.2,377.2 L1161.0,376.5 L1168.8,375.9 L1176.6,375.3 L1184.4,374.8 L1192.2,374.4 L1200.0,374.1 L1207.8,374.0 L1215.6,374.0 L1223.4,373.8 L1231.2,373.4 L1239.0,373.0 L1246.8,372.4 L1254.6,371.7 L1262.4,371.0 L1270.2,370.3 L1278.0,369.5 L1285.8,368.8 L1293.6,368.2 L1301.4,367.6 L1309.2,367.2 L1317.0,366.9 L1324.8,366.7 L1332.6,366.7 L1340.4,366.5 L1348.2,366.3 L1356.0,365.9 L1363.8,365.4 L1371.5,364.9 L1379.3,364.2 L1387.1,363.6 L1394.9,362.9 L1402.7,362.3 L1410.5,361.7 L1418.3,361.2 L1426.1,360.8 L1433.9,360.5 L1441.7,360.3 L1449.5,360.3 L1457.3,360.3 L1465.1,360.3 L1472.9,360.3 L1480.7,360.3 L1488.5,360.3 L1496.3,360.3 L1504.1,360.3" fill="none" stroke="#1a8fea" stroke-width="1.7"/>
<line x1="80" y1="74.8" x2="1513" y2="74.8" stroke="#c4c4c4" stroke-width="2"/>
<line x1="80" y1="341.4" x2="1513" y2="341.4" stroke="#c4c4c4" stroke-width="2"/>
<line x1="80" y1="608.0" x2="1513" y2="608.0" stroke="#c4c4c4" stroke-width="2"/>
<line x1="85.0" y1="74.8" x2="85.0" y2="613.0" stroke="#c4c4c4" stroke-width="1.5"/>
<line x1="1508.0" y1="74.8" x2="1508.0" y2="613.0" stroke="#c4c4c4" stroke-width="1.5"/>
<line x1="80" y1="608.0" x2="85.0" y2="608.0" stroke="#c4c4c4" stroke-width="2"/>
<text x="72" y="613.5" text-anchor="end" font-size="15.6" fill="#c8c8c8">-50</text>
<line x1="80" y1="554.7" x2="85.0" y2="554.7" stroke="#c4c4c4" stroke-width="2"/>
<text x="72" y="560.2" text-anchor="end" font-size="15.6" fill="#c8c8c8">-40</text>
<line x1="80" y1="501.4" x2="85.0" y2="501.4" stroke="#c4c4c4" stroke-width="2"/>
<text x="72" y="506.9" text-anchor="end" font-size="15.6" fill="#c8c8c8">-30</text>
<line x1="80" y1="448.0" x2="85.0" y2="448.0" stroke="#c4c4c4" stroke-width="2"/>
<text x="72" y="453.5" text-anchor="end" font-size="15.6" fill="#c8c8c8">-20</text>
<line x1="80" y1="394.7" x2="85.0" y2="394.7" stroke="#c4c4c4" stroke-width="2"/>
<text x="72" y="400.2" text-anchor="end" font-size="15.6" fill="#c8c8c8">-10</text>
<line x1="80" y1="341.4" x2="85.0" y2="341.4" stroke="#c4c4c4" stroke-width="2"/>
<text x="72" y="346.9" text-anchor="end" font-size="15.6" fill="#c8c8c8">0</text>
<line x1="80" y1="288.1" x2="85.0" y2="288.1" stroke="#c4c4c4" stroke-width="2"/>
<text x="72" y="293.6" text-anchor="end" font-size="15.6" fill="#c8c8c8">10</text>
<line x1="80" y1="234.8" x2="85.0" y2="234.8" stroke="#c4c4c4" stroke-width="2"/>
<text x="72" y="240.3" text-anchor="end" font-size="15.6" fill="#c8c8c8">20</text>
<line x1="80" y1="181.4" x2="85.0" y2="181.4" stroke="#c4c4c4" stroke-width="2"/>
<text x="72" y="186.9" text-anchor="end" font-size="15.6" fill="#c8c8c8">30</text>
<line x1="80" y1="128.1" x2="85.0" y2="128.1" stroke="#c4c4c4" stroke-width="2"/>
<text x="72" y="133.6" text-anchor="end" font-size="15.6" fill="#c8c8c8">40</text>
<line x1="80" y1="74.8" x2="85.0" y2="74.8" stroke="#c4c4c4" stroke-width="2"/>
<text x="72" y="80.3" text-anchor="end" font-size="15.6" fill="#c8c8c8">50</text>
<line x1="1508.0" y1="341.4" x2="1511.0" y2="341.4" stroke="#c4c4c4" stroke-width="1.5"/>
<line x1="1508.0" y1="330.3" x2="1511.0" y2="330.3" stroke="#c4c4c4" stroke-width="1.5"/>
<line x1="1508.0" y1="319.2" x2="1511.0" y2="319.2" stroke="#c4c4c4" stroke-width="1.5"/>
<line x1="1508.0" y1="308.1" x2="1511.0" y2="308.1" stroke="#c4c4c4" stroke-width="1.5"/>
<line x1="1508.0" y1="297.0" x2="1511.0" y2="297.0" stroke="#c4c4c4" stroke-width="1.5"/>
<line x1="1508.0" y1="285.9" x2="1511.0" y2="285.9" stroke="#c4c4c4" stroke-width="1.5"/>
<line x1="1508.0" y1="274.8" x2="1511.0" y2="274.8" stroke="#c4c4c4" stroke-width="1.5"/>
<line x1="1508.0" y1="263.6" x2="1511.0" y2="263.6" stroke="#c4c4c4" stroke-width="1.5"/>
<line x1="1508.0" y1="252.5" x2="1511.0" y2="252.5" stroke="#c4c4c4" stroke-width="1.5"/>
<line x1="1508.0" y1="241.4" x2="1511.0" y2="241.4" stroke="#c4c4c4" stroke-width="1.5"/>
<line x1="1508.0" y1="230.3" x2="1511.0" y2="230.3" stroke="#c4c4c4" stroke-width="1.5"/>
<line x1="1508.0" y1="219.2" x2="1511.0" y2="219.2" stroke="#c4c4c4" stroke-width="1.5"/>
<line x1="1508.0" y1="208.1" x2="1511.0" y2="208.1" stroke="#c4c4c4" stroke-width="1.5"/>
<line x1="1508.0" y1="197.0" x2="1511.0" y2="197.0" stroke="#c4c4c4" stroke-width="1.5"/>
<line x1="1508.0" y1="185.9" x2="1511.0" y2="185.9" stroke="#c4c4c4" stroke-width="1.5"/>
<line x1="1508.0" y1="174.8" x2="1511.0" y2="174.8" stroke="#c4c4c4" stroke-width="1.5"/>
<line x1="1508.0" y1="163.7" x2="1511.0" y2="163.7" stroke="#c4c4c4" stroke-width="1.5"/>
<line x1="1508.0" y1="152.6" x2="1511.0" y2="152.6" stroke="#c4c4c4" stroke-width="1.5"/>
<line x1="1508.0" y1="141.5" x2="1511.0" y2="141.5" stroke="#c4c4c4" stroke-width="1.5"/>
<line x1="1508.0" y1="130.3" x2="1511.0" y2="130.3" stroke="#c4c4c4" stroke-width="1.5"/>
<line x1="1508.0" y1="119.2" x2="1511.0" y2="119.2" stroke="#c4c4c4" stroke-width="1.5"/>
<line x1="1508.0" y1="108.1" x2="1511.0" y2="108.1" stroke="#c4c4c4" stroke-width="1.5"/>
<line x1="1508.0" y1="97.0" x2="1511.0" y2="97.0" stroke="#c4c4c4" stroke-width="1.5"/>
<line x1="1508.0" y1="85.9" x2="1511.0" y2="85.9" stroke="#c4c4c4" stroke-width="1.5"/>
<line x1="1508.0" y1="74.8" x2="1511.0" y2="74.8" stroke="#c4c4c4" stroke-width="1.5"/>
<line x1="1508.0" y1="341.4" x2="1513.0" y2="341.4" stroke="#c4c4c4" stroke-width="1.5"/>
<text x="1523" y="346.4" font-size="15.6" fill="#c8c8c8">0</text>
<line x1="1508.0" y1="274.8" x2="1513.0" y2="274.8" stroke="#c4c4c4" stroke-width="1.5"/>
<text x="1523" y="279.8" font-size="15.6" fill="#c8c8c8">6</text>
<line x1="1508.0" y1="208.1" x2="1513.0" y2="208.1" stroke="#c4c4c4" stroke-width="1.5"/>
<text x="1523" y="213.1" font-size="15.6" fill="#c8c8c8">12</text>
<line x1="1508.0" y1="141.5" x2="1513.0" y2="141.5" stroke="#c4c4c4" stroke-width="1.5"/>
<text x="1523" y="146.5" font-size="15.6" fill="#c8c8c8">18</text>
<line x1="1508.0" y1="74.8" x2="1513.0" y2="74.8" stroke="#c4c4c4" stroke-width="1.5"/>
<text x="1523" y="79.8" font-size="15.6" fill="#c8c8c8">24</text>
<line x1="1508.0" y1="408.0" x2="1513.0" y2="408.0" stroke="#c4c4c4" stroke-width="1.5"/>
<text x="1523" y="413.0" font-size="15.6" fill="#c8c8c8">10</text>
<line x1="1508.0" y1="474.7" x2="1513.0" y2="474.7" stroke="#c4c4c4" stroke-width="1.5"/>
<text x="1523" y="479.7" font-size="15.6" fill="#c8c8c8">20</text>
<line x1="1508.0" y1="541.4" x2="1513.0" y2="541.4" stroke="#c4c4c4" stroke-width="1.5"/>
<text x="1523" y="546.4" font-size="15.6" fill="#c8c8c8">30</text>
<line x1="1508.0" y1="608.0" x2="1513.0" y2="608.0" stroke="#c4c4c4" stroke-width="1.5"/>
<text x="1523" y="613.0" font-size="15.6" fill="#c8c8c8">40</text>
<text x="145.4" y="631.6" text-anchor="middle" font-size="15.6" fill="#c8c8c8">Jan</text>
<text x="260.4" y="631.6" text-anchor="middle" font-size="15.6" fill="#c8c8c8">Fév</text>
<text x="375.4" y="631.6" text-anchor="middle" font-size="15.6" fill="#c8c8c8">Mar</text>
<text x="494.4" y="631.6" text-anchor="middle" font-size="15.6" fill="#c8c8c8">Avr</text>
<text x="613.3" y="631.6" text-anchor="middle" font-size="15.6" fill="#c8c8c8">Mai</text>
<text x="732.2" y="631.6" text-anchor="middle" font-size="15.6" fill="#c8c8c8">Jun</text>
<text x="851.1" y="631.6" text-anchor="middle" font-size="15.6" fill="#c8c8c8">Juil</text>
<text x="971.9" y="631.6" text-anchor="middle" font-size="15.6" fill="#c8c8c8">Aoû</text>
<text x="1090.8" y="631.6" text-anchor="middle" font-size="15.6" fill="#c8c8c8">Sep</text>
<text x="1209.8" y="631.6" text-anchor="middle" font-size="15.6" fill="#c8c8c8">Oct</text>
<text x="1328.7" y="631.6" text-anchor="middle" font-size="15.6" fill="#c8c8c8">Nov</text>
<text x="1447.6" y="631.6" text-anchor="middle" font-size="15.6" fill="#c8c8c8">Déc</text>
<text x="796.5" y="30.9" text-anchor="middle" font-size="23.3" fill="#e8e8e8">Changement climatique en Taoyuan</text>
<text x="796.5" y="57.7" text-anchor="middle" font-size="15.6" fill="#c4c4c4">Latitude 24.991 - Longitude 121.292 - Élévation 100.0</text>
<text x="86" y="68" font-size="23.2" fill="#d4d4d4">1940 - 1950</text>
<text transform="translate(44,341.5) rotate(-90)" text-anchor="middle" font-size="20.8" fill="#cccccc">Température °C</text>
<text transform="translate(1554.8,207.7) rotate(90)" text-anchor="middle" font-size="20.8" fill="#cccccc">Jour / Ensoleillement (h)</text>
<text transform="translate(1554.8,475) rotate(90)" text-anchor="middle" font-size="20.8" fill="#cccccc">Pluie / Neige (mm)</text>
<g><path d="M1285.59,94.16 A14.2,14.2 0 1 0 1285.59,111.64" fill="none" stroke="url(#gRing)" stroke-width="1.8"/><path d="M1282.75,96.37 A10.6,10.6 0 1 0 1282.75,109.43" fill="none" stroke="url(#gRing)" stroke-width="1.8"/><clipPath id="bc1259"><circle cx="1296.4" cy="102.9" r="15"/></clipPath><g clip-path="url(#bc1259)"><rect x="1281.4" y="87.40" width="30" height="3.20" fill="url(#gBall)"/><rect x="1281.4" y="91.10" width="30" height="2.60" fill="url(#gBall)"/><rect x="1281.4" y="94.30" width="30" height="2.40" fill="url(#gBall)"/><rect x="1281.4" y="97.40" width="30" height="2.30" fill="url(#gBall)"/><rect x="1281.4" y="100.50" width="30" height="2.10" fill="url(#gBall)"/><rect x="1281.4" y="103.40" width="30" height="2.00" fill="url(#gBall)"/><rect x="1281.4" y="106.30" width="30" height="1.90" fill="url(#gBall)"/><rect x="1281.4" y="109.20" width="30" height="1.70" fill="url(#gBall)"/><rect x="1281.4" y="111.90" width="30" height="1.60" fill="url(#gBall)"/><rect x="1281.4" y="114.60" width="30" height="1.40" fill="url(#gBall)"/><rect x="1281.4" y="117.20" width="30" height="1.20" fill="url(#gBall)"/><rect x="1281.4" y="119.70" width="30" height="1.00" fill="url(#gBall)"/><rect x="1281.4" y="122.00" width="30" height="0.90" fill="url(#gBall)"/></g><text x="1313.4" y="112.5" font-size="23.2" fill="#1a9cff" textLength="174.5" lengthAdjust="spacingAndGlyphs">ClimeChart.com</text></g>
<g><path d="M122.99,571.96 A14.2,14.2 0 1 0 122.99,589.44" fill="none" stroke="url(#gRing)" stroke-width="1.8"/><path d="M120.15,574.17 A10.6,10.6 0 1 0 120.15,587.23" fill="none" stroke="url(#gRing)" stroke-width="1.8"/><clipPath id="bc96"><circle cx="133.8" cy="580.7" r="15"/></clipPath><g clip-path="url(#bc96)"><rect x="118.80000000000001" y="565.20" width="30" height="3.20" fill="url(#gBall)"/><rect x="118.80000000000001" y="568.90" width="30" height="2.60" fill="url(#gBall)"/><rect x="118.80000000000001" y="572.10" width="30" height="2.40" fill="url(#gBall)"/><rect x="118.80000000000001" y="575.20" width="30" height="2.30" fill="url(#gBall)"/><rect x="118.80000000000001" y="578.30" width="30" height="2.10" fill="url(#gBall)"/><rect x="118.80000000000001" y="581.20" width="30" height="2.00" fill="url(#gBall)"/><rect x="118.80000000000001" y="584.10" width="30" height="1.90" fill="url(#gBall)"/><rect x="118.80000000000001" y="587.00" width="30" height="1.70" fill="url(#gBall)"/><rect x="118.80000000000001" y="589.70" width="30" height="1.60" fill="url(#gBall)"/><rect x="118.80000000000001" y="592.40" width="30" height="1.40" fill="url(#gBall)"/><rect x="118.80000000000001" y="595.00" width="30" height="1.20" fill="url(#gBall)"/><rect x="118.80000000000001" y="597.50" width="30" height="1.00" fill="url(#gBall)"/><rect x="118.80000000000001" y="599.80" width="30" height="0.90" fill="url(#gBall)"/></g><text x="150.8" y="590.3" font-size="23.2" fill="#1a9cff" textLength="174.5" lengthAdjust="spacingAndGlyphs">ClimeChart.com</text></g>
<text x="86" y="682.6" font-size="20.8" fill="#d2d2d2">Température °C</text>
<rect x="85.2" y="699.2" width="15.6" height="30.2" fill="url(#gTemp)"/>
<text x="108.6" y="721.6" font-size="20.8" fill="#d2d2d2">Plage min / max par jour</text>
<rect x="85.2" y="753.3" width="15.6" height="2" fill="#ff70ff"/>
<text x="108.6" y="760.5" font-size="20.8" fill="#d2d2d2">Moyenne mensuelle</text>
<text x="553" y="682.6" font-size="20.8" fill="#d2d2d2">Jour / Ensoleillement (h)</text>
<rect x="553.2" y="714.5" width="15.6" height="2" fill="#20e020"/>
<text x="576.8" y="721.6" font-size="20.8" fill="#d2d2d2">Lumière du jour par jour</text>
<rect x="553.2" y="738.2" width="15.6" height="30.9" fill="url(#gSun)"/>
<text x="576.8" y="760.5" font-size="20.8" fill="#d2d2d2">Soleil par jour</text>
<rect x="553.2" y="792.6" width="15.6" height="2" fill="#f0f030"/>
<text x="576.8" y="799.5" font-size="20.8" fill="#d2d2d2">Moyenne mensuelle d'ensoleillement</text>
<text x="942.3" y="682.6" font-size="20.8" fill="#d2d2d2">Pluie (mm)</text>
<rect x="942.8" y="699.2" width="15.9" height="30.2" fill="url(#gRain)"/>
<text x="965.9" y="721.6" font-size="20.8" fill="#d2d2d2">Pluie par jour</text>
<rect x="942.8" y="753.3" width="15.9" height="2" fill="#1a8fea"/>
<text x="965.9" y="760.5" font-size="20.8" fill="#d2d2d2">Moyenne mensuelle</text>
<text x="1254" y="682.6" font-size="20.8" fill="#d2d2d2">Neige (mm)</text>
<rect x="1254.8" y="699.2" width="15.5" height="30.2" fill="url(#gSnow)"/>
<text x="1278.4" y="721.6" font-size="20.8" fill="#d2d2d2">Neige par jour</text>
<rect x="1254.8" y="753.3" width="15.5" height="2" fill="#dddddd"/>
<text x="1278.4" y="760.5" font-size="20.8" fill="#d2d2d2">Moyenne mensuelle</text>
<text x="1569.5" y="801.7" text-anchor="end" font-size="15.7" fill="#c8c8c8">© ClimeChart.com</text>
</svg></body></html>
